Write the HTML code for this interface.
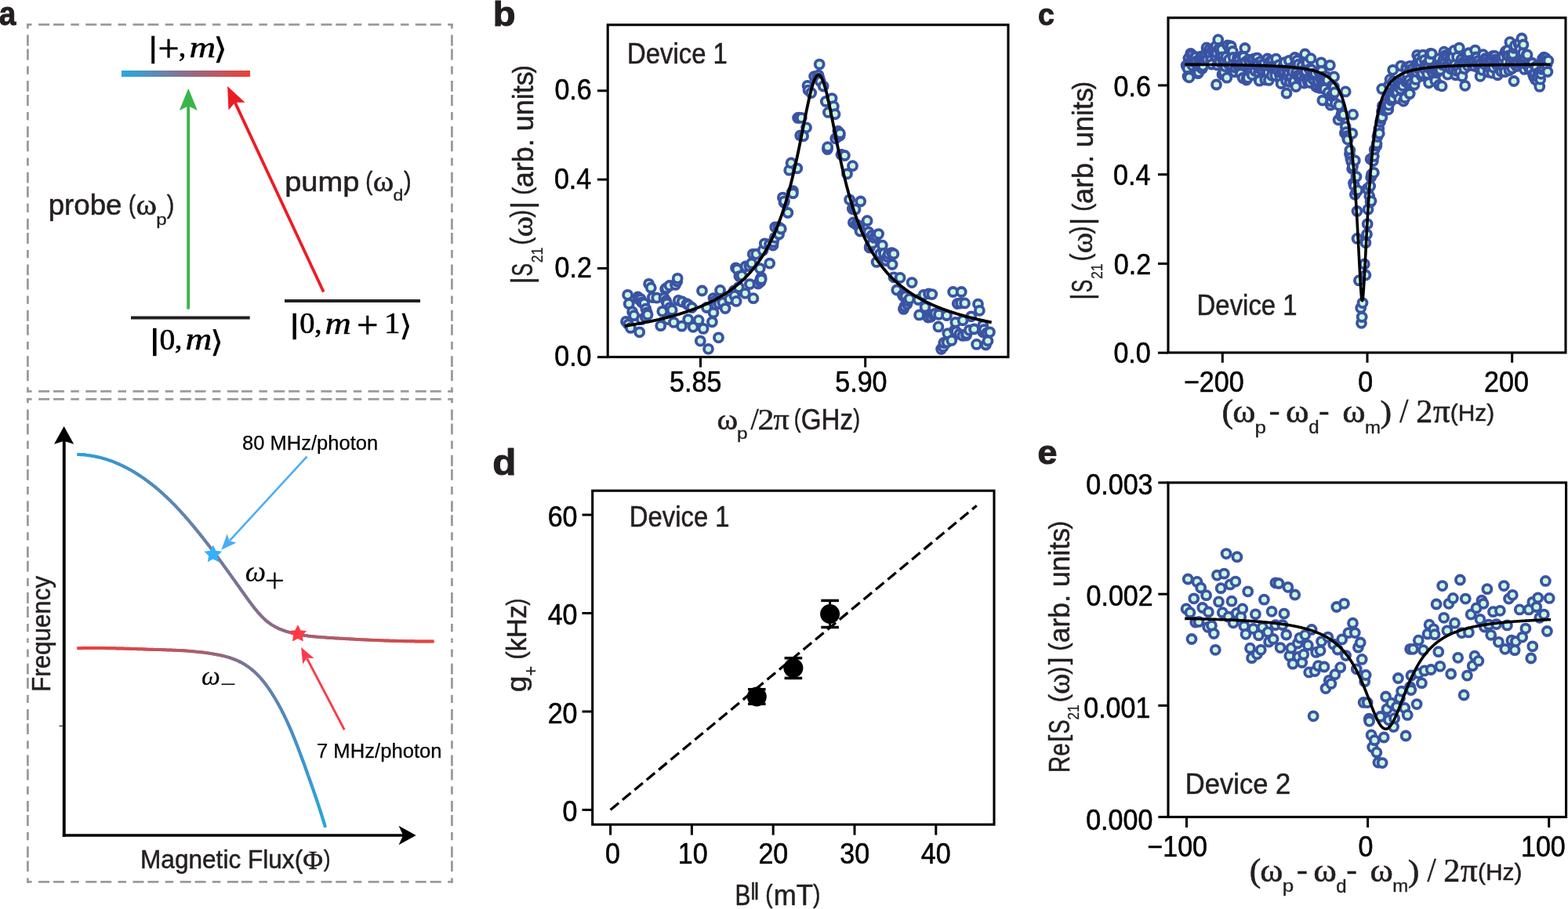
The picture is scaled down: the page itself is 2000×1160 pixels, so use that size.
<!DOCTYPE html>
<html><head><meta charset="utf-8"><style>
html,body{margin:0;padding:0;background:#fff;}
svg{display:block;font-kerning:none;font-variant-ligatures:none;}

</style></head><body>
<svg width="2000" height="1160" viewBox="0 0 2000 1160">
<defs><linearGradient id="gbar" x1="0" x2="1" y1="0" y2="0"><stop offset="0" stop-color="#27a9e1"/><stop offset="0.5" stop-color="#8b6f8c"/><stop offset="1" stop-color="#ec4138"/></linearGradient></defs>
<rect width="2000" height="1160" fill="#fff"/>
<line x1="34" y1="31.4" x2="305.9" y2="31.4" stroke="#9b9b9b" stroke-width="2.8" stroke-dasharray="14 4.9 14 8.3 10.5 8.5" stroke-dashoffset="45.1"/>
<line x1="577.8" y1="31.4" x2="305.9" y2="31.4" stroke="#9b9b9b" stroke-width="2.8" stroke-dasharray="14 4.9 14 8.3 10.5 8.5" stroke-dashoffset="45.1"/>
<line x1="34" y1="499.3" x2="305.9" y2="499.3" stroke="#9b9b9b" stroke-width="2.8" stroke-dasharray="14 4.9 14 8.3 10.5 8.5" stroke-dashoffset="45.1"/>
<line x1="577.8" y1="499.3" x2="305.9" y2="499.3" stroke="#9b9b9b" stroke-width="2.8" stroke-dasharray="14 4.9 14 8.3 10.5 8.5" stroke-dashoffset="45.1"/>
<line x1="35.4" y1="30" x2="35.4" y2="265.35" stroke="#9b9b9b" stroke-width="2.8" stroke-dasharray="13.9 4.2 13.9 8.1 10.2 8.1" stroke-dashoffset="43.9"/>
<line x1="35.4" y1="500.7" x2="35.4" y2="265.35" stroke="#9b9b9b" stroke-width="2.8" stroke-dasharray="13.9 4.2 13.9 8.1 10.2 8.1" stroke-dashoffset="43.9"/>
<line x1="576.4" y1="30" x2="576.4" y2="265.35" stroke="#9b9b9b" stroke-width="2.8" stroke-dasharray="13.9 4.2 13.9 8.1 10.2 8.1" stroke-dashoffset="43.9"/>
<line x1="576.4" y1="500.7" x2="576.4" y2="265.35" stroke="#9b9b9b" stroke-width="2.8" stroke-dasharray="13.9 4.2 13.9 8.1 10.2 8.1" stroke-dashoffset="43.9"/>
<line x1="34" y1="509.3" x2="305.9" y2="509.3" stroke="#9b9b9b" stroke-width="2.8" stroke-dasharray="14 4.9 14 8.3 10.5 8.5" stroke-dashoffset="45.1"/>
<line x1="577.8" y1="509.3" x2="305.9" y2="509.3" stroke="#9b9b9b" stroke-width="2.8" stroke-dasharray="14 4.9 14 8.3 10.5 8.5" stroke-dashoffset="45.1"/>
<line x1="34" y1="1125.4" x2="305.9" y2="1125.4" stroke="#9b9b9b" stroke-width="2.8" stroke-dasharray="14 4.9 14 8.3 10.5 8.5" stroke-dashoffset="45.1"/>
<line x1="577.8" y1="1125.4" x2="305.9" y2="1125.4" stroke="#9b9b9b" stroke-width="2.8" stroke-dasharray="14 4.9 14 8.3 10.5 8.5" stroke-dashoffset="45.1"/>
<line x1="35.4" y1="507.9" x2="35.4" y2="817.35" stroke="#9b9b9b" stroke-width="2.8" stroke-dasharray="13.9 4.2 13.9 8.1 10.2 8.1" stroke-dashoffset="43.9"/>
<line x1="35.4" y1="1126.8" x2="35.4" y2="817.35" stroke="#9b9b9b" stroke-width="2.8" stroke-dasharray="13.9 4.2 13.9 8.1 10.2 8.1" stroke-dashoffset="43.9"/>
<line x1="576.4" y1="507.9" x2="576.4" y2="817.35" stroke="#9b9b9b" stroke-width="2.8" stroke-dasharray="13.9 4.2 13.9 8.1 10.2 8.1" stroke-dashoffset="43.9"/>
<line x1="576.4" y1="1126.8" x2="576.4" y2="817.35" stroke="#9b9b9b" stroke-width="2.8" stroke-dasharray="13.9 4.2 13.9 8.1 10.2 8.1" stroke-dashoffset="43.9"/>
<text x="-1.14" y="32.18" font-family='"Liberation Sans", sans-serif' font-size="42.89" font-weight="bold" textLength="21.59" lengthAdjust="spacingAndGlyphs" fill="#231f20" stroke="#231f20" stroke-width="1" stroke-linejoin="round">a</text>
<rect x="155" y="90" width="164" height="8" fill="url(#gbar)"/>
<text x="189.27" y="72.68" font-family='"Liberation Serif", serif' font-size="37.16" textLength="12.06" lengthAdjust="spacingAndGlyphs" fill="#000" stroke="#000" stroke-width="0.6" stroke-linejoin="round">|</text>
<text x="201.61" y="78.58" font-family='"Liberation Serif", serif' font-size="50.23" textLength="27.03" lengthAdjust="spacingAndGlyphs" fill="#000" stroke="#000" stroke-width="0.6" stroke-linejoin="round">+</text>
<text x="227.84" y="71.89" font-family='"Liberation Serif", serif' font-size="37.77" textLength="9.57" lengthAdjust="spacingAndGlyphs" fill="#000" stroke="#000" stroke-width="0.6" stroke-linejoin="round">,</text>
<text x="241.62" y="73" font-family='"Liberation Serif", serif' font-size="38.41" font-style="italic" textLength="33.64" lengthAdjust="spacingAndGlyphs" fill="#000" stroke="#000" stroke-width="0.5" stroke-linejoin="round">m</text>
<text x="272.37" y="75.44" font-family='"DejaVu Serif", serif' font-size="37.61" textLength="17.68" lengthAdjust="spacingAndGlyphs" fill="#000" stroke="#000" stroke-width="0.4" stroke-linejoin="round">⟩</text>
<text x="190.47" y="445.78" font-family='"Liberation Serif", serif' font-size="37.16" textLength="13.67" lengthAdjust="spacingAndGlyphs" fill="#000" stroke="#000" stroke-width="0.6" stroke-linejoin="round">|</text>
<text x="203.59" y="446.32" font-family='"Liberation Serif", serif' font-size="38.83" textLength="19.82" lengthAdjust="spacingAndGlyphs" fill="#000" stroke="#000" stroke-width="0.6" stroke-linejoin="round">0</text>
<text x="222.82" y="445.43" font-family='"Liberation Serif", serif' font-size="36.21" textLength="9.74" lengthAdjust="spacingAndGlyphs" fill="#000" stroke="#000" stroke-width="0.6" stroke-linejoin="round">,</text>
<text x="236.41" y="446.4" font-family='"Liberation Serif", serif' font-size="39.05" font-style="italic" textLength="33.86" lengthAdjust="spacingAndGlyphs" fill="#000" stroke="#000" stroke-width="0.5" stroke-linejoin="round">m</text>
<text x="268.19" y="448.8" font-family='"DejaVu Serif", serif' font-size="37.95" textLength="16.62" lengthAdjust="spacingAndGlyphs" fill="#000" stroke="#000" stroke-width="0.4" stroke-linejoin="round">⟩</text>
<text x="369.12" y="424.97" font-family='"Liberation Serif", serif' font-size="36.28" textLength="13.26" lengthAdjust="spacingAndGlyphs" fill="#000" stroke="#000" stroke-width="0.6" stroke-linejoin="round">|</text>
<text x="382.34" y="425.43" font-family='"Liberation Serif", serif' font-size="37.79" textLength="19.23" lengthAdjust="spacingAndGlyphs" fill="#000" stroke="#000" stroke-width="0.6" stroke-linejoin="round">0</text>
<text x="401.39" y="424.59" font-family='"Liberation Serif", serif' font-size="35.82" textLength="9.23" lengthAdjust="spacingAndGlyphs" fill="#000" stroke="#000" stroke-width="0.6" stroke-linejoin="round">,</text>
<text x="414.53" y="425.7" font-family='"Liberation Serif", serif' font-size="39.05" font-style="italic" textLength="33.3" lengthAdjust="spacingAndGlyphs" fill="#000" stroke="#000" stroke-width="0.5" stroke-linejoin="round">m</text>
<text x="454.97" y="431.72" font-family='"Liberation Serif", serif' font-size="50.66" textLength="27.51" lengthAdjust="spacingAndGlyphs" fill="#000" stroke="#000" stroke-width="0.6" stroke-linejoin="round">+</text>
<text x="490.08" y="425.4" font-family='"Liberation Serif", serif' font-size="38.02" textLength="20.59" lengthAdjust="spacingAndGlyphs" fill="#000" stroke="#000" stroke-width="0.6" stroke-linejoin="round">1</text>
<text x="509.4" y="427.92" font-family='"DejaVu Serif", serif' font-size="37.05" textLength="16.09" lengthAdjust="spacingAndGlyphs" fill="#000" stroke="#000" stroke-width="0.4" stroke-linejoin="round">⟩</text>
<line x1="167" y1="405.5" x2="318.7" y2="405.5" stroke="#231f20" stroke-width="3.8"/>
<line x1="363" y1="384" x2="536" y2="384" stroke="#231f20" stroke-width="4"/>
<line x1="240.2" y1="394.5" x2="240.2" y2="130" stroke="#39b54a" stroke-width="3.9"/>
<polygon points="240.3,112.7 251.8,140.9 240.3,135.2 228.8,140.9" fill="#39b54a"/>
<line x1="412.7" y1="372.5" x2="298.99" y2="129.13" stroke="#ed1c24" stroke-width="3.8"/>
<polygon points="290.1,110.1 312.55,130.74 299.75,130.76 291.53,140.56" fill="#ed1c24"/>
<text x="61.63" y="274.19" font-family='"Liberation Sans", sans-serif' font-size="36.69" fill="#231f20" stroke="#231f20" stroke-width="0.55" stroke-linejoin="round">probe</text>
<text x="164.02" y="272.26" font-family='"Liberation Sans", sans-serif' font-size="33.06" textLength="9.04" lengthAdjust="spacingAndGlyphs" fill="#231f20" stroke="#231f20" stroke-width="0.51" stroke-linejoin="round">(</text>
<text x="173.62" y="274.23" font-family='"Liberation Serif", serif' font-size="37.62" textLength="26.55" lengthAdjust="spacingAndGlyphs" fill="#231f20" stroke="#231f20" stroke-width="0.6" stroke-linejoin="round">ω</text>
<text x="199.25" y="286.68" font-family='"Liberation Sans", sans-serif' font-size="19.86" textLength="13.36" lengthAdjust="spacingAndGlyphs" fill="#231f20" stroke="#231f20" stroke-width="0.3" stroke-linejoin="round">p</text>
<text x="212.83" y="272.26" font-family='"Liberation Sans", sans-serif' font-size="33.06" textLength="9.55" lengthAdjust="spacingAndGlyphs" fill="#231f20" stroke="#231f20" stroke-width="0.51" stroke-linejoin="round">)</text>
<text x="363.15" y="243.74" font-family='"Liberation Sans", sans-serif' font-size="35.01" textLength="95.15" lengthAdjust="spacingAndGlyphs" fill="#231f20" stroke="#231f20" stroke-width="0.53" stroke-linejoin="round">pump</text>
<text x="466.32" y="241.81" font-family='"Liberation Sans", sans-serif' font-size="33.27" textLength="9.04" lengthAdjust="spacingAndGlyphs" fill="#231f20" stroke="#231f20" stroke-width="0.51" stroke-linejoin="round">(</text>
<text x="475.82" y="244.03" font-family='"Liberation Serif", serif' font-size="38.03" textLength="26.55" lengthAdjust="spacingAndGlyphs" fill="#231f20" stroke="#231f20" stroke-width="0.6" stroke-linejoin="round">ω</text>
<text x="501.63" y="256.2" font-family='"Liberation Sans", sans-serif' font-size="20.97" textLength="12.86" lengthAdjust="spacingAndGlyphs" fill="#231f20" stroke="#231f20" stroke-width="0.32" stroke-linejoin="round">d</text>
<text x="515.03" y="241.81" font-family='"Liberation Sans", sans-serif' font-size="33.27" textLength="9.67" lengthAdjust="spacingAndGlyphs" fill="#231f20" stroke="#231f20" stroke-width="0.51" stroke-linejoin="round">)</text>
<line x1="81.75" y1="1067.9" x2="81.75" y2="560" stroke="#000" stroke-width="3.9"/>
<polygon points="81.6,544 94.2,566.7 81.6,562.7 69,566.7" fill="#000"/>
<line x1="79.8" y1="1066" x2="515" y2="1066" stroke="#000" stroke-width="3.7"/>
<polygon points="530.7,1066 508.5,1078.3 514.2,1066 508.5,1053.7" fill="#000"/>
<line x1="75.5" y1="926.4" x2="79.8" y2="926.4" stroke="#000" stroke-width="1"/>
<line x1="98.3" y1="579.93" x2="100.97" y2="580.01" stroke="#28a1dc" stroke-width="4"/>
<line x1="100.97" y1="580.01" x2="103.64" y2="580.15" stroke="#29a0db" stroke-width="4" stroke-linecap="round"/>
<line x1="103.64" y1="580.15" x2="106.31" y2="580.35" stroke="#2a9fdb" stroke-width="4" stroke-linecap="round"/>
<line x1="106.31" y1="580.35" x2="108.98" y2="580.6" stroke="#2b9fda" stroke-width="4" stroke-linecap="round"/>
<line x1="108.98" y1="580.6" x2="111.65" y2="580.91" stroke="#2c9ed9" stroke-width="4" stroke-linecap="round"/>
<line x1="111.65" y1="580.91" x2="114.31" y2="581.27" stroke="#2d9ed8" stroke-width="4" stroke-linecap="round"/>
<line x1="114.31" y1="581.27" x2="116.98" y2="581.69" stroke="#2f9dd7" stroke-width="4" stroke-linecap="round"/>
<line x1="116.98" y1="581.69" x2="119.65" y2="582.16" stroke="#309cd6" stroke-width="4" stroke-linecap="round"/>
<line x1="119.65" y1="582.16" x2="122.32" y2="582.69" stroke="#319cd5" stroke-width="4" stroke-linecap="round"/>
<line x1="122.32" y1="582.69" x2="124.99" y2="583.28" stroke="#329bd4" stroke-width="4" stroke-linecap="round"/>
<line x1="124.99" y1="583.28" x2="127.66" y2="583.92" stroke="#339ad3" stroke-width="4" stroke-linecap="round"/>
<line x1="127.66" y1="583.92" x2="130.33" y2="584.62" stroke="#349ad2" stroke-width="4" stroke-linecap="round"/>
<line x1="130.33" y1="584.62" x2="133" y2="585.38" stroke="#3599d1" stroke-width="4" stroke-linecap="round"/>
<line x1="133" y1="585.38" x2="135.67" y2="586.19" stroke="#3799d0" stroke-width="4" stroke-linecap="round"/>
<line x1="135.67" y1="586.19" x2="138.34" y2="587.07" stroke="#3898cf" stroke-width="4" stroke-linecap="round"/>
<line x1="138.34" y1="587.07" x2="141" y2="587.99" stroke="#3997ce" stroke-width="4" stroke-linecap="round"/>
<line x1="141" y1="587.99" x2="143.67" y2="588.98" stroke="#3a97cd" stroke-width="4" stroke-linecap="round"/>
<line x1="143.67" y1="588.98" x2="146.01" y2="589.88" stroke="#3b96cc" stroke-width="4" stroke-linecap="round"/>
<line x1="146.01" y1="589.88" x2="148.34" y2="590.84" stroke="#3c96cc" stroke-width="4" stroke-linecap="round"/>
<line x1="148.34" y1="590.84" x2="150.68" y2="591.83" stroke="#3d95cb" stroke-width="4" stroke-linecap="round"/>
<line x1="150.68" y1="591.83" x2="153.01" y2="592.87" stroke="#3e95ca" stroke-width="4" stroke-linecap="round"/>
<line x1="153.01" y1="592.87" x2="155.35" y2="593.96" stroke="#3f94c9" stroke-width="4" stroke-linecap="round"/>
<line x1="155.35" y1="593.96" x2="157.69" y2="595.09" stroke="#4093c8" stroke-width="4" stroke-linecap="round"/>
<line x1="157.69" y1="595.09" x2="160.02" y2="596.26" stroke="#4193c7" stroke-width="4" stroke-linecap="round"/>
<line x1="160.02" y1="596.26" x2="162.36" y2="597.48" stroke="#4292c7" stroke-width="4" stroke-linecap="round"/>
<line x1="162.36" y1="597.48" x2="164.69" y2="598.74" stroke="#4392c6" stroke-width="4" stroke-linecap="round"/>
<line x1="164.69" y1="598.74" x2="167.03" y2="600.04" stroke="#4491c5" stroke-width="4" stroke-linecap="round"/>
<line x1="167.03" y1="600.04" x2="169.36" y2="601.39" stroke="#4591c4" stroke-width="4" stroke-linecap="round"/>
<line x1="169.36" y1="601.39" x2="171.7" y2="602.79" stroke="#4690c3" stroke-width="4" stroke-linecap="round"/>
<line x1="171.7" y1="602.79" x2="174.03" y2="604.23" stroke="#4790c3" stroke-width="4" stroke-linecap="round"/>
<line x1="174.03" y1="604.23" x2="176.37" y2="605.71" stroke="#488fc2" stroke-width="4" stroke-linecap="round"/>
<line x1="176.37" y1="605.71" x2="178.7" y2="607.24" stroke="#498fc1" stroke-width="4" stroke-linecap="round"/>
<line x1="178.7" y1="607.24" x2="181.04" y2="608.82" stroke="#4a8ec0" stroke-width="4" stroke-linecap="round"/>
<line x1="181.04" y1="608.82" x2="183.37" y2="610.44" stroke="#4b8ebf" stroke-width="4" stroke-linecap="round"/>
<line x1="183.37" y1="610.44" x2="185.71" y2="612.1" stroke="#4c8dbe" stroke-width="4" stroke-linecap="round"/>
<line x1="185.71" y1="612.1" x2="188.05" y2="613.81" stroke="#4d8dbe" stroke-width="4" stroke-linecap="round"/>
<line x1="188.05" y1="613.81" x2="190.05" y2="615.31" stroke="#4e8cbd" stroke-width="4" stroke-linecap="round"/>
<line x1="190.05" y1="615.31" x2="192.05" y2="616.85" stroke="#4f8cbc" stroke-width="4" stroke-linecap="round"/>
<line x1="192.05" y1="616.85" x2="194.05" y2="618.41" stroke="#508cbc" stroke-width="4" stroke-linecap="round"/>
<line x1="194.05" y1="618.41" x2="196.05" y2="620.02" stroke="#508bbb" stroke-width="4" stroke-linecap="round"/>
<line x1="196.05" y1="620.02" x2="198.05" y2="621.65" stroke="#518bba" stroke-width="4" stroke-linecap="round"/>
<line x1="198.05" y1="621.65" x2="200.06" y2="623.32" stroke="#528bba" stroke-width="4" stroke-linecap="round"/>
<line x1="200.06" y1="623.32" x2="202.06" y2="625.02" stroke="#538ab9" stroke-width="4" stroke-linecap="round"/>
<line x1="202.06" y1="625.02" x2="204.06" y2="626.76" stroke="#548ab8" stroke-width="4" stroke-linecap="round"/>
<line x1="204.06" y1="626.76" x2="206.06" y2="628.53" stroke="#558ab8" stroke-width="4" stroke-linecap="round"/>
<line x1="206.06" y1="628.53" x2="208.06" y2="630.33" stroke="#5689b7" stroke-width="4" stroke-linecap="round"/>
<line x1="208.06" y1="630.33" x2="210.06" y2="632.17" stroke="#5789b6" stroke-width="4" stroke-linecap="round"/>
<line x1="210.06" y1="632.17" x2="212.07" y2="634.04" stroke="#5789b5" stroke-width="4" stroke-linecap="round"/>
<line x1="212.07" y1="634.04" x2="214.07" y2="635.94" stroke="#5888b5" stroke-width="4" stroke-linecap="round"/>
<line x1="214.07" y1="635.94" x2="216.07" y2="637.88" stroke="#5988b4" stroke-width="4" stroke-linecap="round"/>
<line x1="216.07" y1="637.88" x2="218.07" y2="639.85" stroke="#5a88b3" stroke-width="4" stroke-linecap="round"/>
<line x1="218.07" y1="639.85" x2="220.07" y2="641.86" stroke="#5b87b3" stroke-width="4" stroke-linecap="round"/>
<line x1="220.07" y1="641.86" x2="222.08" y2="643.9" stroke="#5c87b2" stroke-width="4" stroke-linecap="round"/>
<line x1="222.08" y1="643.9" x2="224.08" y2="645.97" stroke="#5d87b1" stroke-width="4" stroke-linecap="round"/>
<line x1="224.08" y1="645.97" x2="226.08" y2="648.08" stroke="#5d86b1" stroke-width="4" stroke-linecap="round"/>
<line x1="226.08" y1="648.08" x2="228.08" y2="650.21" stroke="#5e86b0" stroke-width="4" stroke-linecap="round"/>
<line x1="228.08" y1="650.21" x2="230.08" y2="652.38" stroke="#5f86af" stroke-width="4" stroke-linecap="round"/>
<line x1="230.08" y1="652.38" x2="232.08" y2="654.58" stroke="#6085af" stroke-width="4" stroke-linecap="round"/>
<line x1="232.08" y1="654.58" x2="234.09" y2="656.81" stroke="#6185ae" stroke-width="4" stroke-linecap="round"/>
<line x1="234.09" y1="656.81" x2="235.75" y2="658.68" stroke="#6285ad" stroke-width="4" stroke-linecap="round"/>
<line x1="235.75" y1="658.68" x2="237.42" y2="660.58" stroke="#6284ad" stroke-width="4" stroke-linecap="round"/>
<line x1="237.42" y1="660.58" x2="239.09" y2="662.5" stroke="#6384ac" stroke-width="4" stroke-linecap="round"/>
<line x1="239.09" y1="662.5" x2="240.76" y2="664.43" stroke="#6484ac" stroke-width="4" stroke-linecap="round"/>
<line x1="240.76" y1="664.43" x2="242.43" y2="666.39" stroke="#6584ab" stroke-width="4" stroke-linecap="round"/>
<line x1="242.43" y1="666.39" x2="244.09" y2="668.36" stroke="#6583ab" stroke-width="4" stroke-linecap="round"/>
<line x1="244.09" y1="668.36" x2="245.76" y2="670.35" stroke="#6683aa" stroke-width="4" stroke-linecap="round"/>
<line x1="245.76" y1="670.35" x2="247.43" y2="672.36" stroke="#6783a9" stroke-width="4" stroke-linecap="round"/>
<line x1="247.43" y1="672.36" x2="249.1" y2="674.38" stroke="#6782a9" stroke-width="4" stroke-linecap="round"/>
<line x1="249.1" y1="674.38" x2="250.77" y2="676.42" stroke="#6882a8" stroke-width="4" stroke-linecap="round"/>
<line x1="250.77" y1="676.42" x2="252.44" y2="678.48" stroke="#6882a8" stroke-width="4" stroke-linecap="round"/>
<line x1="252.44" y1="678.48" x2="254.1" y2="680.55" stroke="#6981a7" stroke-width="4" stroke-linecap="round"/>
<line x1="254.1" y1="680.55" x2="255.77" y2="682.64" stroke="#6981a7" stroke-width="4" stroke-linecap="round"/>
<line x1="255.77" y1="682.64" x2="257.44" y2="684.74" stroke="#6a80a6" stroke-width="4" stroke-linecap="round"/>
<line x1="257.44" y1="684.74" x2="259.11" y2="686.86" stroke="#6a80a6" stroke-width="4" stroke-linecap="round"/>
<line x1="259.11" y1="686.86" x2="260.78" y2="688.99" stroke="#6b80a5" stroke-width="4" stroke-linecap="round"/>
<line x1="260.78" y1="688.99" x2="262.44" y2="691.13" stroke="#6b7fa5" stroke-width="4" stroke-linecap="round"/>
<line x1="262.44" y1="691.13" x2="264.11" y2="693.29" stroke="#6c7fa4" stroke-width="4" stroke-linecap="round"/>
<line x1="264.11" y1="693.29" x2="265.78" y2="695.45" stroke="#6c7ea4" stroke-width="4" stroke-linecap="round"/>
<line x1="265.78" y1="695.45" x2="267.45" y2="697.64" stroke="#6d7ea3" stroke-width="4" stroke-linecap="round"/>
<line x1="267.45" y1="697.64" x2="269.12" y2="699.83" stroke="#6e7ea2" stroke-width="4" stroke-linecap="round"/>
<line x1="269.12" y1="699.83" x2="270.78" y2="702.03" stroke="#6e7da2" stroke-width="4" stroke-linecap="round"/>
<line x1="270.78" y1="702.03" x2="272.45" y2="704.25" stroke="#6f7da1" stroke-width="4" stroke-linecap="round"/>
<line x1="272.45" y1="704.25" x2="274.12" y2="706.48" stroke="#6f7da1" stroke-width="4" stroke-linecap="round"/>
<line x1="274.12" y1="706.48" x2="275.79" y2="708.71" stroke="#707ca0" stroke-width="4" stroke-linecap="round"/>
<line x1="275.79" y1="708.71" x2="277.46" y2="710.96" stroke="#707ca0" stroke-width="4" stroke-linecap="round"/>
<line x1="277.46" y1="710.96" x2="279.13" y2="713.22" stroke="#717b9f" stroke-width="4" stroke-linecap="round"/>
<line x1="279.13" y1="713.22" x2="280.79" y2="715.48" stroke="#717b9e" stroke-width="4" stroke-linecap="round"/>
<line x1="280.79" y1="715.48" x2="282.46" y2="717.76" stroke="#727a9e" stroke-width="4" stroke-linecap="round"/>
<line x1="282.46" y1="717.76" x2="284.13" y2="720.04" stroke="#737a9d" stroke-width="4" stroke-linecap="round"/>
<line x1="284.13" y1="720.04" x2="285.8" y2="722.33" stroke="#73799c" stroke-width="4" stroke-linecap="round"/>
<line x1="285.8" y1="722.33" x2="287.47" y2="724.63" stroke="#74799c" stroke-width="4" stroke-linecap="round"/>
<line x1="287.47" y1="724.63" x2="289.13" y2="726.93" stroke="#74789b" stroke-width="4" stroke-linecap="round"/>
<line x1="289.13" y1="726.93" x2="290.8" y2="729.24" stroke="#75789a" stroke-width="4" stroke-linecap="round"/>
<line x1="290.8" y1="729.24" x2="292.47" y2="731.56" stroke="#76779a" stroke-width="4" stroke-linecap="round"/>
<line x1="292.47" y1="731.56" x2="294.14" y2="733.89" stroke="#767799" stroke-width="4" stroke-linecap="round"/>
<line x1="294.14" y1="733.89" x2="295.81" y2="736.21" stroke="#777698" stroke-width="4" stroke-linecap="round"/>
<line x1="295.81" y1="736.21" x2="297.47" y2="738.55" stroke="#777698" stroke-width="4" stroke-linecap="round"/>
<line x1="297.47" y1="738.55" x2="299.14" y2="740.89" stroke="#787597" stroke-width="4" stroke-linecap="round"/>
<line x1="299.14" y1="740.89" x2="300.81" y2="743.23" stroke="#797596" stroke-width="4" stroke-linecap="round"/>
<line x1="300.81" y1="743.23" x2="302.48" y2="745.58" stroke="#797495" stroke-width="4" stroke-linecap="round"/>
<line x1="302.48" y1="745.58" x2="304.15" y2="747.93" stroke="#7a7495" stroke-width="4" stroke-linecap="round"/>
<line x1="304.15" y1="747.93" x2="305.82" y2="750.28" stroke="#7a7394" stroke-width="4" stroke-linecap="round"/>
<line x1="305.82" y1="750.28" x2="307.48" y2="752.63" stroke="#7b7393" stroke-width="4" stroke-linecap="round"/>
<line x1="307.48" y1="752.63" x2="309.15" y2="754.99" stroke="#7c7293" stroke-width="4" stroke-linecap="round"/>
<line x1="309.15" y1="754.99" x2="310.82" y2="757.34" stroke="#7c7292" stroke-width="4" stroke-linecap="round"/>
<line x1="310.82" y1="757.34" x2="312.49" y2="759.69" stroke="#7d7191" stroke-width="4" stroke-linecap="round"/>
<line x1="312.49" y1="759.69" x2="314.16" y2="762.02" stroke="#7d7191" stroke-width="4" stroke-linecap="round"/>
<line x1="314.16" y1="762.02" x2="315.82" y2="764.33" stroke="#7e7090" stroke-width="4" stroke-linecap="round"/>
<line x1="315.82" y1="764.33" x2="317.49" y2="766.62" stroke="#7f7090" stroke-width="4" stroke-linecap="round"/>
<line x1="317.49" y1="766.62" x2="319.16" y2="768.88" stroke="#806f8f" stroke-width="4" stroke-linecap="round"/>
<line x1="319.16" y1="768.88" x2="320.83" y2="771.1" stroke="#806f8f" stroke-width="4" stroke-linecap="round"/>
<line x1="320.83" y1="771.1" x2="322.5" y2="773.28" stroke="#816f8e" stroke-width="4" stroke-linecap="round"/>
<line x1="322.5" y1="773.28" x2="324.17" y2="775.42" stroke="#826f8e" stroke-width="4" stroke-linecap="round"/>
<line x1="324.17" y1="775.42" x2="325.83" y2="777.51" stroke="#836e8d" stroke-width="4" stroke-linecap="round"/>
<line x1="325.83" y1="777.51" x2="327.5" y2="779.54" stroke="#836e8d" stroke-width="4" stroke-linecap="round"/>
<line x1="327.5" y1="779.54" x2="329.17" y2="781.5" stroke="#846e8c" stroke-width="4" stroke-linecap="round"/>
<line x1="329.17" y1="781.5" x2="330.84" y2="783.4" stroke="#856e8c" stroke-width="4" stroke-linecap="round"/>
<line x1="330.84" y1="783.4" x2="332.84" y2="785.59" stroke="#866d8b" stroke-width="4" stroke-linecap="round"/>
<line x1="332.84" y1="785.59" x2="334.84" y2="787.66" stroke="#876d8a" stroke-width="4" stroke-linecap="round"/>
<line x1="334.84" y1="787.66" x2="336.84" y2="789.61" stroke="#886d8a" stroke-width="4" stroke-linecap="round"/>
<line x1="336.84" y1="789.61" x2="338.84" y2="791.43" stroke="#886c89" stroke-width="4" stroke-linecap="round"/>
<line x1="338.84" y1="791.43" x2="340.85" y2="793.11" stroke="#896c89" stroke-width="4" stroke-linecap="round"/>
<line x1="340.85" y1="793.11" x2="342.85" y2="794.68" stroke="#8a6c88" stroke-width="4" stroke-linecap="round"/>
<line x1="342.85" y1="794.68" x2="345.18" y2="796.35" stroke="#8b6b87" stroke-width="4" stroke-linecap="round"/>
<line x1="345.18" y1="796.35" x2="347.52" y2="797.88" stroke="#8c6b87" stroke-width="4" stroke-linecap="round"/>
<line x1="347.52" y1="797.88" x2="349.85" y2="799.27" stroke="#8d6b86" stroke-width="4" stroke-linecap="round"/>
<line x1="349.85" y1="799.27" x2="352.19" y2="800.54" stroke="#8f6a85" stroke-width="4" stroke-linecap="round"/>
<line x1="352.19" y1="800.54" x2="354.53" y2="801.69" stroke="#906a84" stroke-width="4" stroke-linecap="round"/>
<line x1="354.53" y1="801.69" x2="356.86" y2="802.73" stroke="#916983" stroke-width="4" stroke-linecap="round"/>
<line x1="356.86" y1="802.73" x2="359.2" y2="803.68" stroke="#926882" stroke-width="4" stroke-linecap="round"/>
<line x1="359.2" y1="803.68" x2="361.86" y2="804.66" stroke="#946880" stroke-width="4" stroke-linecap="round"/>
<line x1="361.86" y1="804.66" x2="364.53" y2="805.55" stroke="#95677f" stroke-width="4" stroke-linecap="round"/>
<line x1="364.53" y1="805.55" x2="367.2" y2="806.36" stroke="#96667d" stroke-width="4" stroke-linecap="round"/>
<line x1="367.2" y1="806.36" x2="369.87" y2="807.11" stroke="#98657c" stroke-width="4" stroke-linecap="round"/>
<line x1="369.87" y1="807.11" x2="372.54" y2="807.81" stroke="#99657a" stroke-width="4" stroke-linecap="round"/>
<line x1="372.54" y1="807.81" x2="375.21" y2="808.45" stroke="#9b6478" stroke-width="4" stroke-linecap="round"/>
<line x1="375.21" y1="808.45" x2="377.88" y2="809.03" stroke="#9c6377" stroke-width="4" stroke-linecap="round"/>
<line x1="377.88" y1="809.03" x2="380.55" y2="809.57" stroke="#9e6275" stroke-width="4" stroke-linecap="round"/>
<line x1="380.55" y1="809.57" x2="383.22" y2="810.07" stroke="#9f6275" stroke-width="4" stroke-linecap="round"/>
<line x1="383.22" y1="810.07" x2="385.89" y2="810.52" stroke="#a06174" stroke-width="4" stroke-linecap="round"/>
<line x1="385.89" y1="810.52" x2="388.55" y2="810.94" stroke="#a16173" stroke-width="4" stroke-linecap="round"/>
<line x1="388.55" y1="810.94" x2="391.22" y2="811.31" stroke="#a26172" stroke-width="4" stroke-linecap="round"/>
<line x1="391.22" y1="811.31" x2="393.89" y2="811.66" stroke="#a36172" stroke-width="4" stroke-linecap="round"/>
<line x1="393.89" y1="811.66" x2="396.56" y2="811.97" stroke="#a46071" stroke-width="4" stroke-linecap="round"/>
<line x1="396.56" y1="811.97" x2="399.23" y2="812.26" stroke="#a56070" stroke-width="4" stroke-linecap="round"/>
<line x1="399.23" y1="812.26" x2="401.9" y2="812.52" stroke="#a66070" stroke-width="4" stroke-linecap="round"/>
<line x1="401.9" y1="812.52" x2="404.57" y2="812.76" stroke="#a75f6f" stroke-width="4" stroke-linecap="round"/>
<line x1="404.57" y1="812.76" x2="407.24" y2="812.98" stroke="#a85f6e" stroke-width="4" stroke-linecap="round"/>
<line x1="407.24" y1="812.98" x2="409.91" y2="813.18" stroke="#a95f6e" stroke-width="4" stroke-linecap="round"/>
<line x1="409.91" y1="813.18" x2="412.58" y2="813.37" stroke="#aa5e6d" stroke-width="4" stroke-linecap="round"/>
<line x1="412.58" y1="813.37" x2="415.25" y2="813.55" stroke="#ab5e6c" stroke-width="4" stroke-linecap="round"/>
<line x1="415.25" y1="813.55" x2="417.91" y2="813.73" stroke="#ac5e6c" stroke-width="4" stroke-linecap="round"/>
<line x1="417.91" y1="813.73" x2="420.58" y2="813.9" stroke="#ad5e6b" stroke-width="4" stroke-linecap="round"/>
<line x1="420.58" y1="813.9" x2="423.25" y2="814.07" stroke="#ae5d6a" stroke-width="4" stroke-linecap="round"/>
<line x1="423.25" y1="814.07" x2="425.92" y2="814.23" stroke="#af5d6a" stroke-width="4" stroke-linecap="round"/>
<line x1="425.92" y1="814.23" x2="428.59" y2="814.4" stroke="#b05d69" stroke-width="4" stroke-linecap="round"/>
<line x1="428.59" y1="814.4" x2="431.26" y2="814.56" stroke="#b15c68" stroke-width="4" stroke-linecap="round"/>
<line x1="431.26" y1="814.56" x2="433.93" y2="814.72" stroke="#b25c67" stroke-width="4" stroke-linecap="round"/>
<line x1="433.93" y1="814.72" x2="436.6" y2="814.87" stroke="#b35c67" stroke-width="4" stroke-linecap="round"/>
<line x1="436.6" y1="814.87" x2="439.27" y2="815.03" stroke="#b45b66" stroke-width="4" stroke-linecap="round"/>
<line x1="439.27" y1="815.03" x2="441.94" y2="815.18" stroke="#b55b65" stroke-width="4" stroke-linecap="round"/>
<line x1="441.94" y1="815.18" x2="444.6" y2="815.33" stroke="#b65b65" stroke-width="4" stroke-linecap="round"/>
<line x1="444.6" y1="815.33" x2="447.27" y2="815.48" stroke="#b65a64" stroke-width="4" stroke-linecap="round"/>
<line x1="447.27" y1="815.48" x2="449.94" y2="815.62" stroke="#b75a63" stroke-width="4" stroke-linecap="round"/>
<line x1="449.94" y1="815.62" x2="452.61" y2="815.76" stroke="#b95a63" stroke-width="4" stroke-linecap="round"/>
<line x1="452.61" y1="815.76" x2="455.28" y2="815.9" stroke="#ba5961" stroke-width="4" stroke-linecap="round"/>
<line x1="455.28" y1="815.9" x2="457.95" y2="816.04" stroke="#bb5860" stroke-width="4" stroke-linecap="round"/>
<line x1="457.95" y1="816.04" x2="460.62" y2="816.17" stroke="#bc585f" stroke-width="4" stroke-linecap="round"/>
<line x1="460.62" y1="816.17" x2="463.29" y2="816.3" stroke="#bd575e" stroke-width="4" stroke-linecap="round"/>
<line x1="463.29" y1="816.3" x2="465.96" y2="816.43" stroke="#be575d" stroke-width="4" stroke-linecap="round"/>
<line x1="465.96" y1="816.43" x2="468.63" y2="816.55" stroke="#bf565c" stroke-width="4" stroke-linecap="round"/>
<line x1="468.63" y1="816.55" x2="471.29" y2="816.67" stroke="#c0555b" stroke-width="4" stroke-linecap="round"/>
<line x1="471.29" y1="816.67" x2="473.96" y2="816.79" stroke="#c1555a" stroke-width="4" stroke-linecap="round"/>
<line x1="473.96" y1="816.79" x2="476.63" y2="816.9" stroke="#c25459" stroke-width="4" stroke-linecap="round"/>
<line x1="476.63" y1="816.9" x2="479.3" y2="817.01" stroke="#c35358" stroke-width="4" stroke-linecap="round"/>
<line x1="479.3" y1="817.01" x2="481.97" y2="817.12" stroke="#c45357" stroke-width="4" stroke-linecap="round"/>
<line x1="481.97" y1="817.12" x2="484.64" y2="817.22" stroke="#c55256" stroke-width="4" stroke-linecap="round"/>
<line x1="484.64" y1="817.22" x2="487.31" y2="817.33" stroke="#c65255" stroke-width="4" stroke-linecap="round"/>
<line x1="487.31" y1="817.33" x2="489.98" y2="817.42" stroke="#c75154" stroke-width="4" stroke-linecap="round"/>
<line x1="489.98" y1="817.42" x2="492.65" y2="817.51" stroke="#c95053" stroke-width="4" stroke-linecap="round"/>
<line x1="492.65" y1="817.51" x2="495.32" y2="817.6" stroke="#ca5052" stroke-width="4" stroke-linecap="round"/>
<line x1="495.32" y1="817.6" x2="497.98" y2="817.69" stroke="#cb4f51" stroke-width="4" stroke-linecap="round"/>
<line x1="497.98" y1="817.69" x2="500.65" y2="817.77" stroke="#cc4e50" stroke-width="4" stroke-linecap="round"/>
<line x1="500.65" y1="817.77" x2="503.32" y2="817.85" stroke="#cd4e4f" stroke-width="4" stroke-linecap="round"/>
<line x1="503.32" y1="817.85" x2="505.99" y2="817.92" stroke="#ce4d4e" stroke-width="4" stroke-linecap="round"/>
<line x1="505.99" y1="817.92" x2="508.66" y2="817.99" stroke="#cf4d4d" stroke-width="4" stroke-linecap="round"/>
<line x1="508.66" y1="817.99" x2="511.33" y2="818.06" stroke="#d04c4c" stroke-width="4" stroke-linecap="round"/>
<line x1="511.33" y1="818.06" x2="514" y2="818.12" stroke="#d24b4b" stroke-width="4" stroke-linecap="round"/>
<line x1="514" y1="818.12" x2="516.67" y2="818.18" stroke="#d34b4b" stroke-width="4" stroke-linecap="round"/>
<line x1="516.67" y1="818.18" x2="519.34" y2="818.23" stroke="#d54a4a" stroke-width="4" stroke-linecap="round"/>
<line x1="519.34" y1="818.23" x2="522.01" y2="818.28" stroke="#d64949" stroke-width="4" stroke-linecap="round"/>
<line x1="522.01" y1="818.28" x2="524.67" y2="818.32" stroke="#d84848" stroke-width="4" stroke-linecap="round"/>
<line x1="524.67" y1="818.32" x2="527.34" y2="818.36" stroke="#d94848" stroke-width="4" stroke-linecap="round"/>
<line x1="527.34" y1="818.36" x2="530.01" y2="818.4" stroke="#db4747" stroke-width="4" stroke-linecap="round"/>
<line x1="530.01" y1="818.4" x2="532.68" y2="818.43" stroke="#dd4646" stroke-width="4" stroke-linecap="round"/>
<line x1="532.68" y1="818.43" x2="535.35" y2="818.45" stroke="#de4545" stroke-width="4" stroke-linecap="round"/>
<line x1="535.35" y1="818.45" x2="538.02" y2="818.47" stroke="#e04545" stroke-width="4" stroke-linecap="round"/>
<line x1="538.02" y1="818.47" x2="540.69" y2="818.49" stroke="#e14444" stroke-width="4" stroke-linecap="round"/>
<line x1="540.69" y1="818.49" x2="543.36" y2="818.5" stroke="#e34343" stroke-width="4" stroke-linecap="round"/>
<line x1="543.36" y1="818.5" x2="546.03" y2="818.51" stroke="#e44343" stroke-width="4" stroke-linecap="round"/>
<line x1="546.03" y1="818.51" x2="548.7" y2="818.51" stroke="#e64242" stroke-width="4" stroke-linecap="round"/>
<line x1="548.7" y1="818.51" x2="551.36" y2="818.51" stroke="#e84141" stroke-width="4" stroke-linecap="round"/>
<line x1="551.36" y1="818.51" x2="553.7" y2="818.5" stroke="#e94040" stroke-width="4"/>
<line x1="98.25" y1="827.3" x2="100.92" y2="827.23" stroke="#e9403e" stroke-width="4"/>
<line x1="100.92" y1="827.23" x2="103.59" y2="827.17" stroke="#e8413f" stroke-width="4" stroke-linecap="round"/>
<line x1="103.59" y1="827.17" x2="106.27" y2="827.12" stroke="#e7413f" stroke-width="4" stroke-linecap="round"/>
<line x1="106.27" y1="827.12" x2="108.94" y2="827.08" stroke="#e7413f" stroke-width="4" stroke-linecap="round"/>
<line x1="108.94" y1="827.08" x2="111.61" y2="827.05" stroke="#e64140" stroke-width="4" stroke-linecap="round"/>
<line x1="111.61" y1="827.05" x2="114.28" y2="827.03" stroke="#e54240" stroke-width="4" stroke-linecap="round"/>
<line x1="114.28" y1="827.03" x2="116.96" y2="827.01" stroke="#e54241" stroke-width="4" stroke-linecap="round"/>
<line x1="116.96" y1="827.01" x2="119.63" y2="827.01" stroke="#e44241" stroke-width="4" stroke-linecap="round"/>
<line x1="119.63" y1="827.01" x2="122.3" y2="827.01" stroke="#e34341" stroke-width="4" stroke-linecap="round"/>
<line x1="122.3" y1="827.01" x2="124.97" y2="827.02" stroke="#e24342" stroke-width="4" stroke-linecap="round"/>
<line x1="124.97" y1="827.02" x2="127.64" y2="827.04" stroke="#e24342" stroke-width="4" stroke-linecap="round"/>
<line x1="127.64" y1="827.04" x2="130.32" y2="827.06" stroke="#e14443" stroke-width="4" stroke-linecap="round"/>
<line x1="130.32" y1="827.06" x2="132.99" y2="827.1" stroke="#e04443" stroke-width="4" stroke-linecap="round"/>
<line x1="132.99" y1="827.1" x2="135.66" y2="827.13" stroke="#e04443" stroke-width="4" stroke-linecap="round"/>
<line x1="135.66" y1="827.13" x2="138.33" y2="827.18" stroke="#df4544" stroke-width="4" stroke-linecap="round"/>
<line x1="138.33" y1="827.18" x2="141" y2="827.22" stroke="#de4544" stroke-width="4" stroke-linecap="round"/>
<line x1="141" y1="827.22" x2="143.68" y2="827.28" stroke="#de4545" stroke-width="4" stroke-linecap="round"/>
<line x1="143.68" y1="827.28" x2="146.35" y2="827.34" stroke="#dd4645" stroke-width="4" stroke-linecap="round"/>
<line x1="146.35" y1="827.34" x2="149.02" y2="827.4" stroke="#dc4645" stroke-width="4" stroke-linecap="round"/>
<line x1="149.02" y1="827.4" x2="151.69" y2="827.47" stroke="#dc4646" stroke-width="4" stroke-linecap="round"/>
<line x1="151.69" y1="827.47" x2="154.37" y2="827.54" stroke="#db4746" stroke-width="4" stroke-linecap="round"/>
<line x1="154.37" y1="827.54" x2="157.04" y2="827.61" stroke="#da4747" stroke-width="4" stroke-linecap="round"/>
<line x1="157.04" y1="827.61" x2="159.71" y2="827.69" stroke="#da4747" stroke-width="4" stroke-linecap="round"/>
<line x1="159.71" y1="827.69" x2="162.38" y2="827.77" stroke="#d94847" stroke-width="4" stroke-linecap="round"/>
<line x1="162.38" y1="827.77" x2="165.05" y2="827.85" stroke="#d84848" stroke-width="4" stroke-linecap="round"/>
<line x1="165.05" y1="827.85" x2="167.73" y2="827.93" stroke="#d74849" stroke-width="4" stroke-linecap="round"/>
<line x1="167.73" y1="827.93" x2="170.4" y2="828.02" stroke="#d6494a" stroke-width="4" stroke-linecap="round"/>
<line x1="170.4" y1="828.02" x2="173.07" y2="828.1" stroke="#d44a4b" stroke-width="4" stroke-linecap="round"/>
<line x1="173.07" y1="828.1" x2="175.74" y2="828.19" stroke="#d34b4d" stroke-width="4" stroke-linecap="round"/>
<line x1="175.74" y1="828.19" x2="178.41" y2="828.28" stroke="#d24b4e" stroke-width="4" stroke-linecap="round"/>
<line x1="178.41" y1="828.28" x2="181.09" y2="828.37" stroke="#d04c4f" stroke-width="4" stroke-linecap="round"/>
<line x1="181.09" y1="828.37" x2="183.76" y2="828.46" stroke="#cf4d50" stroke-width="4" stroke-linecap="round"/>
<line x1="183.76" y1="828.46" x2="186.43" y2="828.54" stroke="#cd4d52" stroke-width="4" stroke-linecap="round"/>
<line x1="186.43" y1="828.54" x2="189.1" y2="828.63" stroke="#cc4e53" stroke-width="4" stroke-linecap="round"/>
<line x1="189.1" y1="828.63" x2="191.78" y2="828.71" stroke="#ca4f54" stroke-width="4" stroke-linecap="round"/>
<line x1="191.78" y1="828.71" x2="194.45" y2="828.8" stroke="#c94f56" stroke-width="4" stroke-linecap="round"/>
<line x1="194.45" y1="828.8" x2="197.12" y2="828.88" stroke="#c85057" stroke-width="4" stroke-linecap="round"/>
<line x1="197.12" y1="828.88" x2="199.79" y2="828.96" stroke="#c65158" stroke-width="4" stroke-linecap="round"/>
<line x1="199.79" y1="828.96" x2="202.46" y2="829.04" stroke="#c55259" stroke-width="4" stroke-linecap="round"/>
<line x1="202.46" y1="829.04" x2="205.14" y2="829.12" stroke="#c3525b" stroke-width="4" stroke-linecap="round"/>
<line x1="205.14" y1="829.12" x2="207.81" y2="829.2" stroke="#c2535c" stroke-width="4" stroke-linecap="round"/>
<line x1="207.81" y1="829.2" x2="210.48" y2="829.29" stroke="#c0545d" stroke-width="4" stroke-linecap="round"/>
<line x1="210.48" y1="829.29" x2="213.15" y2="829.38" stroke="#bf545f" stroke-width="4" stroke-linecap="round"/>
<line x1="213.15" y1="829.38" x2="215.82" y2="829.47" stroke="#be5560" stroke-width="4" stroke-linecap="round"/>
<line x1="215.82" y1="829.47" x2="218.5" y2="829.57" stroke="#bc5661" stroke-width="4" stroke-linecap="round"/>
<line x1="218.5" y1="829.57" x2="221.17" y2="829.68" stroke="#bb5763" stroke-width="4" stroke-linecap="round"/>
<line x1="221.17" y1="829.68" x2="223.84" y2="829.8" stroke="#b95764" stroke-width="4" stroke-linecap="round"/>
<line x1="223.84" y1="829.8" x2="226.51" y2="829.92" stroke="#b85865" stroke-width="4" stroke-linecap="round"/>
<line x1="226.51" y1="829.92" x2="229.19" y2="830.06" stroke="#b65966" stroke-width="4" stroke-linecap="round"/>
<line x1="229.19" y1="830.06" x2="231.86" y2="830.2" stroke="#b55967" stroke-width="4" stroke-linecap="round"/>
<line x1="231.86" y1="830.2" x2="234.53" y2="830.36" stroke="#b35a68" stroke-width="4" stroke-linecap="round"/>
<line x1="234.53" y1="830.36" x2="237.2" y2="830.54" stroke="#b25b69" stroke-width="4" stroke-linecap="round"/>
<line x1="237.2" y1="830.54" x2="239.87" y2="830.72" stroke="#b05b6a" stroke-width="4" stroke-linecap="round"/>
<line x1="239.87" y1="830.72" x2="242.55" y2="830.93" stroke="#af5c6b" stroke-width="4" stroke-linecap="round"/>
<line x1="242.55" y1="830.93" x2="245.22" y2="831.14" stroke="#ad5c6c" stroke-width="4" stroke-linecap="round"/>
<line x1="245.22" y1="831.14" x2="247.89" y2="831.38" stroke="#ac5d6d" stroke-width="4" stroke-linecap="round"/>
<line x1="247.89" y1="831.38" x2="250.56" y2="831.64" stroke="#aa5e6e" stroke-width="4" stroke-linecap="round"/>
<line x1="250.56" y1="831.64" x2="253.23" y2="831.91" stroke="#a85e6f" stroke-width="4" stroke-linecap="round"/>
<line x1="253.23" y1="831.91" x2="255.91" y2="832.21" stroke="#a75f70" stroke-width="4" stroke-linecap="round"/>
<line x1="255.91" y1="832.21" x2="258.58" y2="832.53" stroke="#a55f71" stroke-width="4" stroke-linecap="round"/>
<line x1="258.58" y1="832.53" x2="261.25" y2="832.87" stroke="#a46072" stroke-width="4" stroke-linecap="round"/>
<line x1="261.25" y1="832.87" x2="263.92" y2="833.23" stroke="#a26173" stroke-width="4" stroke-linecap="round"/>
<line x1="263.92" y1="833.23" x2="266.6" y2="833.62" stroke="#a16174" stroke-width="4" stroke-linecap="round"/>
<line x1="266.6" y1="833.62" x2="269.27" y2="834.03" stroke="#9f6275" stroke-width="4" stroke-linecap="round"/>
<line x1="269.27" y1="834.03" x2="271.94" y2="834.48" stroke="#9e6376" stroke-width="4" stroke-linecap="round"/>
<line x1="271.94" y1="834.48" x2="274.61" y2="834.95" stroke="#9c6377" stroke-width="4" stroke-linecap="round"/>
<line x1="274.61" y1="834.95" x2="277.28" y2="835.45" stroke="#9b6478" stroke-width="4" stroke-linecap="round"/>
<line x1="277.28" y1="835.45" x2="279.96" y2="835.98" stroke="#986579" stroke-width="4" stroke-linecap="round"/>
<line x1="279.96" y1="835.98" x2="282.63" y2="836.55" stroke="#95667b" stroke-width="4" stroke-linecap="round"/>
<line x1="282.63" y1="836.55" x2="285.3" y2="837.16" stroke="#93677e" stroke-width="4" stroke-linecap="round"/>
<line x1="285.3" y1="837.16" x2="287.97" y2="837.84" stroke="#906880" stroke-width="4" stroke-linecap="round"/>
<line x1="287.97" y1="837.84" x2="290.64" y2="838.57" stroke="#8d6982" stroke-width="4" stroke-linecap="round"/>
<line x1="290.64" y1="838.57" x2="293.32" y2="839.39" stroke="#8a6a84" stroke-width="4" stroke-linecap="round"/>
<line x1="293.32" y1="839.39" x2="295.99" y2="840.28" stroke="#876b86" stroke-width="4" stroke-linecap="round"/>
<line x1="295.99" y1="840.28" x2="298.66" y2="841.27" stroke="#846c88" stroke-width="4" stroke-linecap="round"/>
<line x1="298.66" y1="841.27" x2="301" y2="842.21" stroke="#826d8a" stroke-width="4" stroke-linecap="round"/>
<line x1="301" y1="842.21" x2="303.34" y2="843.24" stroke="#7f6e8c" stroke-width="4" stroke-linecap="round"/>
<line x1="303.34" y1="843.24" x2="305.68" y2="844.36" stroke="#7d6f8e" stroke-width="4" stroke-linecap="round"/>
<line x1="305.68" y1="844.36" x2="308.01" y2="845.57" stroke="#7a7090" stroke-width="4" stroke-linecap="round"/>
<line x1="308.01" y1="845.57" x2="310.35" y2="846.88" stroke="#797192" stroke-width="4" stroke-linecap="round"/>
<line x1="310.35" y1="846.88" x2="312.69" y2="848.3" stroke="#787293" stroke-width="4" stroke-linecap="round"/>
<line x1="312.69" y1="848.3" x2="315.03" y2="849.84" stroke="#767395" stroke-width="4" stroke-linecap="round"/>
<line x1="315.03" y1="849.84" x2="317.37" y2="851.49" stroke="#757596" stroke-width="4" stroke-linecap="round"/>
<line x1="317.37" y1="851.49" x2="319.37" y2="853.01" stroke="#747698" stroke-width="4" stroke-linecap="round"/>
<line x1="319.37" y1="853.01" x2="321.37" y2="854.62" stroke="#737799" stroke-width="4" stroke-linecap="round"/>
<line x1="321.37" y1="854.62" x2="323.38" y2="856.33" stroke="#72789b" stroke-width="4" stroke-linecap="round"/>
<line x1="323.38" y1="856.33" x2="325.38" y2="858.14" stroke="#71799c" stroke-width="4" stroke-linecap="round"/>
<line x1="325.38" y1="858.14" x2="327.39" y2="860.06" stroke="#707a9e" stroke-width="4" stroke-linecap="round"/>
<line x1="327.39" y1="860.06" x2="329.39" y2="862.09" stroke="#6f7b9f" stroke-width="4" stroke-linecap="round"/>
<line x1="329.39" y1="862.09" x2="331.4" y2="864.23" stroke="#6e7ca0" stroke-width="4" stroke-linecap="round"/>
<line x1="331.4" y1="864.23" x2="333.07" y2="866.11" stroke="#6d7da2" stroke-width="4" stroke-linecap="round"/>
<line x1="333.07" y1="866.11" x2="334.74" y2="868.07" stroke="#6c7da3" stroke-width="4" stroke-linecap="round"/>
<line x1="334.74" y1="868.07" x2="336.41" y2="870.12" stroke="#6b7ea4" stroke-width="4" stroke-linecap="round"/>
<line x1="336.41" y1="870.12" x2="338.08" y2="872.26" stroke="#6a7fa5" stroke-width="4" stroke-linecap="round"/>
<line x1="338.08" y1="872.26" x2="339.75" y2="874.48" stroke="#6880a7" stroke-width="4" stroke-linecap="round"/>
<line x1="339.75" y1="874.48" x2="341.42" y2="876.79" stroke="#6780a8" stroke-width="4" stroke-linecap="round"/>
<line x1="341.42" y1="876.79" x2="343.09" y2="879.19" stroke="#6581a9" stroke-width="4" stroke-linecap="round"/>
<line x1="343.09" y1="879.19" x2="344.76" y2="881.67" stroke="#6482ab" stroke-width="4" stroke-linecap="round"/>
<line x1="344.76" y1="881.67" x2="346.43" y2="884.24" stroke="#6282ac" stroke-width="4" stroke-linecap="round"/>
<line x1="346.43" y1="884.24" x2="348.1" y2="886.88" stroke="#6183ad" stroke-width="4" stroke-linecap="round"/>
<line x1="348.1" y1="886.88" x2="349.43" y2="889.06" stroke="#5f84af" stroke-width="4" stroke-linecap="round"/>
<line x1="349.43" y1="889.06" x2="350.77" y2="891.28" stroke="#5e84b0" stroke-width="4" stroke-linecap="round"/>
<line x1="350.77" y1="891.28" x2="352.1" y2="893.55" stroke="#5d85b1" stroke-width="4" stroke-linecap="round"/>
<line x1="352.1" y1="893.55" x2="353.44" y2="895.87" stroke="#5c85b2" stroke-width="4" stroke-linecap="round"/>
<line x1="353.44" y1="895.87" x2="354.78" y2="898.23" stroke="#5a86b3" stroke-width="4" stroke-linecap="round"/>
<line x1="354.78" y1="898.23" x2="356.11" y2="900.65" stroke="#5986b4" stroke-width="4" stroke-linecap="round"/>
<line x1="356.11" y1="900.65" x2="357.45" y2="903.13" stroke="#5887b5" stroke-width="4" stroke-linecap="round"/>
<line x1="357.45" y1="903.13" x2="358.78" y2="905.66" stroke="#5787b6" stroke-width="4" stroke-linecap="round"/>
<line x1="358.78" y1="905.66" x2="360.12" y2="908.25" stroke="#5588b8" stroke-width="4" stroke-linecap="round"/>
<line x1="360.12" y1="908.25" x2="361.46" y2="910.9" stroke="#5488b9" stroke-width="4" stroke-linecap="round"/>
<line x1="361.46" y1="910.9" x2="362.79" y2="913.61" stroke="#5389ba" stroke-width="4" stroke-linecap="round"/>
<line x1="362.79" y1="913.61" x2="364.13" y2="916.38" stroke="#518abb" stroke-width="4" stroke-linecap="round"/>
<line x1="364.13" y1="916.38" x2="365.47" y2="919.21" stroke="#508bbc" stroke-width="4" stroke-linecap="round"/>
<line x1="365.47" y1="919.21" x2="366.8" y2="922.11" stroke="#4e8cbd" stroke-width="4" stroke-linecap="round"/>
<line x1="366.8" y1="922.11" x2="368.14" y2="925.07" stroke="#4d8cbe" stroke-width="4" stroke-linecap="round"/>
<line x1="368.14" y1="925.07" x2="369.47" y2="928.09" stroke="#4b8dbf" stroke-width="4" stroke-linecap="round"/>
<line x1="369.47" y1="928.09" x2="370.48" y2="930.39" stroke="#4a8ec0" stroke-width="4" stroke-linecap="round"/>
<line x1="370.48" y1="930.39" x2="371.48" y2="932.73" stroke="#498ec0" stroke-width="4" stroke-linecap="round"/>
<line x1="371.48" y1="932.73" x2="372.48" y2="935.1" stroke="#488fc1" stroke-width="4" stroke-linecap="round"/>
<line x1="372.48" y1="935.1" x2="373.48" y2="937.51" stroke="#478fc2" stroke-width="4" stroke-linecap="round"/>
<line x1="373.48" y1="937.51" x2="374.48" y2="939.95" stroke="#4690c3" stroke-width="4" stroke-linecap="round"/>
<line x1="374.48" y1="939.95" x2="375.49" y2="942.43" stroke="#4591c3" stroke-width="4" stroke-linecap="round"/>
<line x1="375.49" y1="942.43" x2="376.49" y2="944.94" stroke="#4391c4" stroke-width="4" stroke-linecap="round"/>
<line x1="376.49" y1="944.94" x2="377.49" y2="947.48" stroke="#4292c5" stroke-width="4" stroke-linecap="round"/>
<line x1="377.49" y1="947.48" x2="378.49" y2="950.05" stroke="#4192c6" stroke-width="4" stroke-linecap="round"/>
<line x1="378.49" y1="950.05" x2="379.49" y2="952.65" stroke="#4093c6" stroke-width="4" stroke-linecap="round"/>
<line x1="379.49" y1="952.65" x2="380.5" y2="955.27" stroke="#3f93c7" stroke-width="4" stroke-linecap="round"/>
<line x1="380.5" y1="955.27" x2="381.5" y2="957.92" stroke="#3e94c8" stroke-width="4" stroke-linecap="round"/>
<line x1="381.5" y1="957.92" x2="382.5" y2="960.59" stroke="#3d94c9" stroke-width="4" stroke-linecap="round"/>
<line x1="382.5" y1="960.59" x2="383.5" y2="963.27" stroke="#3d95c9" stroke-width="4" stroke-linecap="round"/>
<line x1="383.5" y1="963.27" x2="384.5" y2="965.98" stroke="#3c96ca" stroke-width="4" stroke-linecap="round"/>
<line x1="384.5" y1="965.98" x2="385.51" y2="968.7" stroke="#3c96cb" stroke-width="4" stroke-linecap="round"/>
<line x1="385.51" y1="968.7" x2="386.51" y2="971.43" stroke="#3b97cb" stroke-width="4" stroke-linecap="round"/>
<line x1="386.51" y1="971.43" x2="387.51" y2="974.18" stroke="#3a97cc" stroke-width="4" stroke-linecap="round"/>
<line x1="387.51" y1="974.18" x2="388.51" y2="976.94" stroke="#3a98cd" stroke-width="4" stroke-linecap="round"/>
<line x1="388.51" y1="976.94" x2="389.51" y2="979.71" stroke="#3998cd" stroke-width="4" stroke-linecap="round"/>
<line x1="389.51" y1="979.71" x2="390.52" y2="982.49" stroke="#3899ce" stroke-width="4" stroke-linecap="round"/>
<line x1="390.52" y1="982.49" x2="391.52" y2="985.28" stroke="#3899ce" stroke-width="4" stroke-linecap="round"/>
<line x1="391.52" y1="985.28" x2="392.52" y2="988.08" stroke="#379acf" stroke-width="4" stroke-linecap="round"/>
<line x1="392.52" y1="988.08" x2="393.52" y2="990.89" stroke="#379ad0" stroke-width="4" stroke-linecap="round"/>
<line x1="393.52" y1="990.89" x2="394.52" y2="993.71" stroke="#369bd0" stroke-width="4" stroke-linecap="round"/>
<line x1="394.52" y1="993.71" x2="395.53" y2="996.53" stroke="#359bd1" stroke-width="4" stroke-linecap="round"/>
<line x1="395.53" y1="996.53" x2="396.53" y2="999.37" stroke="#359cd2" stroke-width="4" stroke-linecap="round"/>
<line x1="396.53" y1="999.37" x2="397.53" y2="1002.22" stroke="#349cd2" stroke-width="4" stroke-linecap="round"/>
<line x1="397.53" y1="1002.22" x2="398.53" y2="1005.09" stroke="#339dd3" stroke-width="4" stroke-linecap="round"/>
<line x1="398.53" y1="1005.09" x2="399.54" y2="1007.97" stroke="#339dd4" stroke-width="4" stroke-linecap="round"/>
<line x1="399.54" y1="1007.97" x2="400.54" y2="1010.86" stroke="#329ed4" stroke-width="4" stroke-linecap="round"/>
<line x1="400.54" y1="1010.86" x2="401.54" y2="1013.77" stroke="#329ed5" stroke-width="4" stroke-linecap="round"/>
<line x1="401.54" y1="1013.77" x2="402.54" y2="1016.7" stroke="#319fd6" stroke-width="4" stroke-linecap="round"/>
<line x1="402.54" y1="1016.7" x2="403.54" y2="1019.66" stroke="#309fd6" stroke-width="4" stroke-linecap="round"/>
<line x1="403.54" y1="1019.66" x2="404.55" y2="1022.64" stroke="#30a0d7" stroke-width="4" stroke-linecap="round"/>
<line x1="404.55" y1="1022.64" x2="405.55" y2="1025.64" stroke="#2fa0d8" stroke-width="4" stroke-linecap="round"/>
<line x1="405.55" y1="1025.64" x2="406.55" y2="1028.67" stroke="#2fa1d8" stroke-width="4" stroke-linecap="round"/>
<line x1="406.55" y1="1028.67" x2="407.55" y2="1031.74" stroke="#2ea1d9" stroke-width="4" stroke-linecap="round"/>
<line x1="407.55" y1="1031.74" x2="408.55" y2="1034.84" stroke="#2da2da" stroke-width="4" stroke-linecap="round"/>
<line x1="408.55" y1="1034.84" x2="409.56" y2="1037.97" stroke="#2da2da" stroke-width="4" stroke-linecap="round"/>
<line x1="409.56" y1="1037.97" x2="410.56" y2="1041.14" stroke="#2ca3db" stroke-width="4" stroke-linecap="round"/>
<line x1="410.56" y1="1041.14" x2="411.56" y2="1044.36" stroke="#2ba3db" stroke-width="4" stroke-linecap="round"/>
<line x1="411.56" y1="1044.36" x2="412.56" y2="1047.61" stroke="#2ba4dc" stroke-width="4" stroke-linecap="round"/>
<line x1="412.56" y1="1047.61" x2="413.56" y2="1050.91" stroke="#2aa4dd" stroke-width="4" stroke-linecap="round"/>
<line x1="413.56" y1="1050.91" x2="414.57" y2="1054.25" stroke="#2aa5dd" stroke-width="4" stroke-linecap="round"/>
<line x1="414.57" y1="1054.25" x2="414.9" y2="1055.38" stroke="#29a5de" stroke-width="4"/>
<polygon points="271.8,695.6 275.33,702.65 283.12,703.82 277.51,709.35 278.79,717.13 271.8,713.5 264.81,717.13 266.09,709.35 260.48,703.82 268.27,702.65" fill="#35b0fd"/>
<polygon points="379.9,797.2 383.43,804.15 391.12,805.35 385.61,810.85 386.84,818.55 379.9,815 372.96,818.55 374.19,810.85 368.68,805.35 376.37,804.15" fill="#fd3a46"/>
<line x1="391.5" y1="582.7" x2="293.02" y2="689.92" stroke="#4aaef6" stroke-width="2.6"/>
<polygon points="282.2,701.7 289.7,681.56 292.69,690.28 301.63,692.52" fill="#4aaef6"/>
<line x1="439.25" y1="931.25" x2="391.53" y2="840.27" stroke="#fb3a48" stroke-width="2.8"/>
<polygon points="384.1,826.1 400.52,839.96 391.3,839.83 386.17,847.49" fill="#fb3a48"/>
<text x="309.09" y="573.59" font-family='"Liberation Sans", sans-serif' font-size="25.1" textLength="173.07" lengthAdjust="spacingAndGlyphs" fill="#000" stroke="#000" stroke-width="0.25" stroke-linejoin="round">80 MHz/photon</text>
<text x="403.99" y="967" font-family='"Liberation Sans", sans-serif' font-size="25.53" textLength="159.58" lengthAdjust="spacingAndGlyphs" fill="#000" stroke="#000" stroke-width="0.25" stroke-linejoin="round">7 MHz/photon</text>
<text x="312.86" y="741.63" font-family='"Liberation Serif", serif' font-size="37.62" font-style="italic" textLength="26.38" lengthAdjust="spacingAndGlyphs" fill="#000" stroke="#000" stroke-width="0.2" stroke-linejoin="round">ω</text>
<text x="337.76" y="755.79" font-family='"Liberation Serif", serif' font-size="45.3" textLength="25.33" lengthAdjust="spacingAndGlyphs" fill="#000">+</text>
<text x="256.88" y="873.87" font-family='"Liberation Serif", serif' font-size="33.85" font-style="italic" textLength="23.8" lengthAdjust="spacingAndGlyphs" fill="#000" stroke="#000" stroke-width="0.2" stroke-linejoin="round">ω</text>
<text x="280.77" y="879.55" font-family='"Liberation Sans", sans-serif' font-size="21.04" textLength="20.43" lengthAdjust="spacingAndGlyphs" fill="#000">−</text>
<text transform="translate(64.28 882.77) rotate(-90)" font-family='"Liberation Sans", sans-serif' font-size="33.84" textLength="147.83" lengthAdjust="spacingAndGlyphs" fill="#231f20" stroke="#231f20" stroke-width="0.52" stroke-linejoin="round">Frequency</text>
<text x="179.01" y="1108.12" font-family='"Liberation Sans", sans-serif' font-size="33.15" textLength="207.18" lengthAdjust="spacingAndGlyphs" fill="#231f20" stroke="#231f20" stroke-width="0.51" stroke-linejoin="round">Magnetic Flux(</text>
<text x="386.23" y="1108.6" font-family='"Liberation Serif", serif' font-size="34.67" textLength="25.73" lengthAdjust="spacingAndGlyphs" fill="#231f20" stroke="#231f20" stroke-width="0.58" stroke-linejoin="round">Φ</text>
<text x="412.65" y="1106.31" font-family='"Liberation Sans", sans-serif' font-size="29.41" textLength="8.79" lengthAdjust="spacingAndGlyphs" fill="#231f20" stroke="#231f20" stroke-width="0.45" stroke-linejoin="round">)</text>
<text x="628.8" y="32.97" font-family='"Liberation Sans", sans-serif' font-size="44.12" font-weight="bold" textLength="28.73" lengthAdjust="spacingAndGlyphs" fill="#231f20" stroke="#231f20" stroke-width="1" stroke-linejoin="round">b</text>
<line x1="762" y1="455.7" x2="775.2" y2="455.7" stroke="#000" stroke-width="3"/>
<line x1="762" y1="342.4" x2="775.2" y2="342.4" stroke="#000" stroke-width="3"/>
<line x1="762" y1="229.1" x2="775.2" y2="229.1" stroke="#000" stroke-width="3"/>
<line x1="762" y1="115.8" x2="775.2" y2="115.8" stroke="#000" stroke-width="3"/>
<line x1="893.5" y1="455.6" x2="893.5" y2="468.7" stroke="#000" stroke-width="3"/>
<line x1="1103.7" y1="455.6" x2="1103.7" y2="468.7" stroke="#000" stroke-width="3"/>
<text x="707.39" y="127.26" font-family='"Liberation Sans", sans-serif' font-size="36.2" textLength="47.3" lengthAdjust="spacingAndGlyphs" fill="#000" stroke="#000" stroke-width="0.55" stroke-linejoin="round">0.6</text>
<text x="706.89" y="241.06" font-family='"Liberation Sans", sans-serif' font-size="36.2" textLength="47.3" lengthAdjust="spacingAndGlyphs" fill="#000" stroke="#000" stroke-width="0.55" stroke-linejoin="round">0.4</text>
<text x="707.61" y="353.66" font-family='"Liberation Sans", sans-serif' font-size="36.2" textLength="47.3" lengthAdjust="spacingAndGlyphs" fill="#000" stroke="#000" stroke-width="0.55" stroke-linejoin="round">0.2</text>
<text x="707.23" y="467.46" font-family='"Liberation Sans", sans-serif' font-size="36.2" textLength="47.3" lengthAdjust="spacingAndGlyphs" fill="#000" stroke="#000" stroke-width="0.55" stroke-linejoin="round">0.0</text>
<text x="854.12" y="500.16" font-family='"Liberation Sans", sans-serif' font-size="36.2" textLength="66.23" lengthAdjust="spacingAndGlyphs" fill="#000" stroke="#000" stroke-width="0.55" stroke-linejoin="round">5.85</text>
<text x="1065.27" y="500.16" font-family='"Liberation Sans", sans-serif' font-size="36.2" textLength="66.23" lengthAdjust="spacingAndGlyphs" fill="#000" stroke="#000" stroke-width="0.55" stroke-linejoin="round">5.90</text>
<text x="800.01" y="80.5" font-family='"Liberation Sans", sans-serif' font-size="37.06" textLength="127.8" lengthAdjust="spacingAndGlyphs" fill="#231f20" stroke="#231f20" stroke-width="0.55" stroke-linejoin="round">Device 1</text>
<g fill="#c9fad9" stroke="#3b53a4" stroke-width="3.8"><circle cx="798.5" cy="410.3" r="5.5"/><circle cx="800.6" cy="376.3" r="5.5"/><circle cx="801.58" cy="413.96" r="5.5"/><circle cx="802.2" cy="387.7" r="5.5"/><circle cx="804.4" cy="418.4" r="5.5"/><circle cx="806.6" cy="397.9" r="5.5"/><circle cx="808.7" cy="402.7" r="5.5"/><circle cx="813.6" cy="379" r="5.5"/><circle cx="813.99" cy="381.36" r="5.5"/><circle cx="815.7" cy="423.8" r="5.5"/><circle cx="817.3" cy="381.7" r="5.5"/><circle cx="818.4" cy="407.6" r="5.5"/><circle cx="818.65" cy="385.89" r="5.5"/><circle cx="821.6" cy="387.1" r="5.5"/><circle cx="823.21" cy="404.58" r="5.5"/><circle cx="823.8" cy="394.1" r="5.5"/><circle cx="825.3" cy="399" r="5.5"/><circle cx="826" cy="401.7" r="5.5"/><circle cx="827.6" cy="362.3" r="5.5"/><circle cx="830.3" cy="367.2" r="5.5"/><circle cx="832.4" cy="379.6" r="5.5"/><circle cx="837.8" cy="380.1" r="5.5"/><circle cx="842.7" cy="415.7" r="5.5"/><circle cx="844.8" cy="397.3" r="5.5"/><circle cx="847" cy="380.1" r="5.5"/><circle cx="848.6" cy="368.8" r="5.5"/><circle cx="849.62" cy="383.87" r="5.5"/><circle cx="849.89" cy="367.75" r="5.5"/><circle cx="850.7" cy="387.1" r="5.5"/><circle cx="851.8" cy="407.6" r="5.5"/><circle cx="854" cy="364.5" r="5.5"/><circle cx="854.61" cy="392.54" r="5.5"/><circle cx="857.2" cy="395.7" r="5.5"/><circle cx="859.4" cy="411.4" r="5.5"/><circle cx="861.5" cy="363.4" r="5.5"/><circle cx="863.75" cy="359.18" r="5.5"/><circle cx="864.2" cy="355.3" r="5.5"/><circle cx="865.3" cy="383.3" r="5.5"/><circle cx="869.6" cy="416.2" r="5.5"/><circle cx="870.1" cy="385" r="5.5"/><circle cx="876.1" cy="387.7" r="5.5"/><circle cx="877.7" cy="407.6" r="5.5"/><circle cx="878.21" cy="389.25" r="5.5"/><circle cx="882.5" cy="392.5" r="5.5"/><circle cx="884.1" cy="417.3" r="5.5"/><circle cx="891.1" cy="408.7" r="5.5"/><circle cx="893.3" cy="435.1" r="5.5"/><circle cx="895.5" cy="371" r="5.5"/><circle cx="897.1" cy="419.4" r="5.5"/><circle cx="901.4" cy="392.5" r="5.5"/><circle cx="903.5" cy="445.3" r="5.5"/><circle cx="908.4" cy="410.8" r="5.5"/><circle cx="910" cy="380.6" r="5.5"/><circle cx="910" cy="399" r="5.5"/><circle cx="911.98" cy="384.05" r="5.5"/><circle cx="913.2" cy="388.7" r="5.5"/><circle cx="916.5" cy="430.8" r="5.5"/><circle cx="917.1" cy="387.61" r="5.5"/><circle cx="918.6" cy="370.4" r="5.5"/><circle cx="921.9" cy="386" r="5.5"/><circle cx="925.1" cy="393.6" r="5.5"/><circle cx="930.5" cy="381.7" r="5.5"/><circle cx="936.2" cy="371" r="5.5"/><circle cx="937" cy="377.4" r="5.5"/><circle cx="938.5" cy="341.8" r="5.5"/><circle cx="939.1" cy="384.4" r="5.5"/><circle cx="940.2" cy="343.5" r="5.5"/><circle cx="942.3" cy="366.6" r="5.5"/><circle cx="942.9" cy="352.6" r="5.5"/><circle cx="946.2" cy="351.8" r="5.5"/><circle cx="950.4" cy="374.3" r="5.5"/><circle cx="951" cy="339.9" r="5.5"/><circle cx="955.88" cy="339.39" r="5.5"/><circle cx="956.4" cy="362.6" r="5.5"/><circle cx="958.6" cy="336.1" r="5.5"/><circle cx="960.2" cy="324.3" r="5.5"/><circle cx="960.9" cy="380.7" r="5.5"/><circle cx="964.5" cy="324.3" r="5.5"/><circle cx="967" cy="362" r="5.5"/><circle cx="969.3" cy="342.6" r="5.5"/><circle cx="969.79" cy="356.26" r="5.5"/><circle cx="970.09" cy="359.47" r="5.5"/><circle cx="971" cy="353.9" r="5.5"/><circle cx="971.2" cy="356.5" r="5.5"/><circle cx="973.1" cy="319.4" r="5.5"/><circle cx="975.3" cy="310.8" r="5.5"/><circle cx="981.55" cy="311.63" r="5.5"/><circle cx="981.7" cy="336.1" r="5.5"/><circle cx="986" cy="313" r="5.5"/><circle cx="986.48" cy="308.96" r="5.5"/><circle cx="988.2" cy="303.3" r="5.5"/><circle cx="988.7" cy="289.8" r="5.5"/><circle cx="992.84" cy="289.53" r="5.5"/><circle cx="993.6" cy="299" r="5.5"/><circle cx="996.3" cy="292" r="5.5"/><circle cx="998.4" cy="252.1" r="5.5"/><circle cx="1000" cy="258.6" r="5.5"/><circle cx="1000.34" cy="256.79" r="5.5"/><circle cx="1004.9" cy="271.5" r="5.5"/><circle cx="1006.7" cy="217.2" r="5.5"/><circle cx="1009.1" cy="207.9" r="5.5"/><circle cx="1010.13" cy="245.45" r="5.5"/><circle cx="1011.4" cy="243.6" r="5.5"/><circle cx="1011.4" cy="246.7" r="5.5"/><circle cx="1016.8" cy="214.8" r="5.5"/><circle cx="1017.6" cy="150.4" r="5.5"/><circle cx="1019.04" cy="150.12" r="5.5"/><circle cx="1020.7" cy="172.9" r="5.5"/><circle cx="1022.3" cy="150.4" r="5.5"/><circle cx="1024.6" cy="173.7" r="5.5"/><circle cx="1028.5" cy="162.8" r="5.5"/><circle cx="1030" cy="109.3" r="5.5"/><circle cx="1030.98" cy="115.05" r="5.5"/><circle cx="1034.7" cy="118.6" r="5.5"/><circle cx="1038.6" cy="97.6" r="5.5"/><circle cx="1042.68" cy="98.04" r="5.5"/><circle cx="1044" cy="96.1" r="5.5"/><circle cx="1045.03" cy="100.01" r="5.5"/><circle cx="1045.2" cy="82.1" r="5.5"/><circle cx="1046.3" cy="103.8" r="5.5"/><circle cx="1050.2" cy="110" r="5.5"/><circle cx="1053.3" cy="129.4" r="5.5"/><circle cx="1055.4" cy="190.6" r="5.5"/><circle cx="1055.7" cy="187.7" r="5.5"/><circle cx="1056.4" cy="143.4" r="5.5"/><circle cx="1061.1" cy="125.6" r="5.5"/><circle cx="1063.4" cy="135.7" r="5.5"/><circle cx="1065" cy="145.7" r="5.5"/><circle cx="1065.7" cy="176.8" r="5.5"/><circle cx="1068.9" cy="167.5" r="5.5"/><circle cx="1069.11" cy="174.06" r="5.5"/><circle cx="1071.2" cy="172.9" r="5.5"/><circle cx="1071.48" cy="170.26" r="5.5"/><circle cx="1072.9" cy="197.2" r="5.5"/><circle cx="1077.4" cy="198.5" r="5.5"/><circle cx="1080.5" cy="221.8" r="5.5"/><circle cx="1083.6" cy="254.8" r="5.5"/><circle cx="1087.3" cy="266.6" r="5.5"/><circle cx="1087.5" cy="211.7" r="5.5"/><circle cx="1088.4" cy="283.9" r="5.5"/><circle cx="1088.9" cy="267.14" r="5.5"/><circle cx="1091" cy="267.2" r="5.5"/><circle cx="1091.9" cy="286.25" r="5.5"/><circle cx="1094.7" cy="287.8" r="5.5"/><circle cx="1096.28" cy="291.3" r="5.5"/><circle cx="1097.1" cy="295" r="5.5"/><circle cx="1097.7" cy="257" r="5.5"/><circle cx="1106.1" cy="281.7" r="5.5"/><circle cx="1107.9" cy="296.2" r="5.5"/><circle cx="1109.1" cy="316.1" r="5.5"/><circle cx="1109.63" cy="313.93" r="5.5"/><circle cx="1112.17" cy="300.51" r="5.5"/><circle cx="1112.8" cy="310.7" r="5.5"/><circle cx="1115.2" cy="303.4" r="5.5"/><circle cx="1117.77" cy="301.28" r="5.5"/><circle cx="1118.1" cy="334.4" r="5.5"/><circle cx="1120.6" cy="298.6" r="5.5"/><circle cx="1122.4" cy="324" r="5.5"/><circle cx="1125.4" cy="313.1" r="5.5"/><circle cx="1127.44" cy="323.44" r="5.5"/><circle cx="1130" cy="332.5" r="5.5"/><circle cx="1131.94" cy="327.65" r="5.5"/><circle cx="1133.3" cy="324" r="5.5"/><circle cx="1137.42" cy="322.58" r="5.5"/><circle cx="1138.1" cy="337.5" r="5.5"/><circle cx="1139.9" cy="324" r="5.5"/><circle cx="1140" cy="353.8" r="5.5"/><circle cx="1143.8" cy="370" r="5.5"/><circle cx="1148.1" cy="354.4" r="5.5"/><circle cx="1151.3" cy="376.3" r="5.5"/><circle cx="1152.32" cy="378.11" r="5.5"/><circle cx="1152.5" cy="394.4" r="5.5"/><circle cx="1153.76" cy="391.06" r="5.5"/><circle cx="1155" cy="378.1" r="5.5"/><circle cx="1156.9" cy="388.1" r="5.5"/><circle cx="1157.92" cy="384.2" r="5.5"/><circle cx="1160" cy="381.3" r="5.5"/><circle cx="1163.1" cy="360.6" r="5.5"/><circle cx="1171.3" cy="382.5" r="5.5"/><circle cx="1172.5" cy="401.9" r="5.5"/><circle cx="1178.1" cy="376.3" r="5.5"/><circle cx="1180" cy="391.9" r="5.5"/><circle cx="1183.8" cy="405" r="5.5"/><circle cx="1184.52" cy="374.96" r="5.5"/><circle cx="1187.35" cy="404.3" r="5.5"/><circle cx="1188.8" cy="375.6" r="5.5"/><circle cx="1190" cy="401.3" r="5.5"/><circle cx="1192.93" cy="400.16" r="5.5"/><circle cx="1196.9" cy="416.9" r="5.5"/><circle cx="1197.5" cy="401.3" r="5.5"/><circle cx="1200.6" cy="445.6" r="5.5"/><circle cx="1203.12" cy="442.57" r="5.5"/><circle cx="1203.8" cy="437.5" r="5.5"/><circle cx="1207.5" cy="402.5" r="5.5"/><circle cx="1208.14" cy="436.87" r="5.5"/><circle cx="1208.8" cy="425.6" r="5.5"/><circle cx="1213.8" cy="434.4" r="5.5"/><circle cx="1215.6" cy="372.5" r="5.5"/><circle cx="1217.5" cy="421.3" r="5.5"/><circle cx="1218.8" cy="411.3" r="5.5"/><circle cx="1219.54" cy="423.18" r="5.5"/><circle cx="1221.3" cy="387.5" r="5.5"/><circle cx="1223.8" cy="426.3" r="5.5"/><circle cx="1225.49" cy="386.95" r="5.5"/><circle cx="1226.3" cy="372.5" r="5.5"/><circle cx="1227.88" cy="428.46" r="5.5"/><circle cx="1228.1" cy="408.8" r="5.5"/><circle cx="1230.6" cy="386.9" r="5.5"/><circle cx="1232.5" cy="428.1" r="5.5"/><circle cx="1232.91" cy="426.03" r="5.5"/><circle cx="1236.3" cy="421.3" r="5.5"/><circle cx="1238.8" cy="403.8" r="5.5"/><circle cx="1242.5" cy="420" r="5.5"/><circle cx="1245.6" cy="439.4" r="5.5"/><circle cx="1247.5" cy="388.1" r="5.5"/><circle cx="1249.4" cy="396.3" r="5.5"/><circle cx="1253.8" cy="415" r="5.5"/><circle cx="1253.8" cy="423.8" r="5.5"/><circle cx="1255.15" cy="420.68" r="5.5"/><circle cx="1257.5" cy="440" r="5.5"/><circle cx="1258.89" cy="424.81" r="5.5"/><circle cx="1260" cy="435" r="5.5"/><circle cx="1262.5" cy="423.8" r="5.5"/></g>
<path d="M796.81 416.02 L797.98 415.83 L799.15 415.64 L800.32 415.45 L801.49 415.26 L802.66 415.07 L803.83 414.87 L805 414.68 L806.17 414.48 L807.34 414.28 L808.51 414.07 L809.68 413.87 L810.85 413.66 L812.01 413.45 L813.18 413.24 L814.35 413.03 L815.52 412.81 L816.69 412.59 L817.86 412.37 L819.03 412.15 L820.2 411.93 L821.37 411.7 L822.54 411.47 L823.71 411.24 L824.88 411.01 L826.05 410.77 L827.22 410.53 L828.39 410.29 L829.56 410.05 L830.73 409.8 L831.9 409.55 L833.07 409.3 L834.24 409.05 L835.41 408.79 L836.58 408.53 L837.75 408.27 L838.92 408 L840.09 407.73 L841.26 407.46 L842.43 407.18 L843.6 406.91 L844.77 406.63 L845.94 406.34 L847.11 406.05 L848.28 405.76 L849.45 405.47 L850.62 405.17 L851.79 404.87 L852.96 404.56 L854.13 404.26 L855.3 403.94 L856.47 403.63 L857.64 403.31 L858.81 402.98 L859.98 402.66 L861.14 402.32 L862.31 401.99 L863.48 401.65 L864.65 401.3 L865.82 400.95 L866.99 400.6 L868.16 400.24 L869.33 399.88 L870.5 399.51 L871.67 399.14 L872.84 398.76 L874.01 398.38 L875.18 397.99 L876.35 397.6 L877.52 397.21 L878.69 396.8 L879.86 396.39 L881.03 395.98 L882.2 395.56 L883.37 395.13 L884.54 394.7 L885.71 394.27 L886.88 393.82 L888.05 393.37 L889.22 392.91 L890.39 392.45 L891.56 391.98 L892.73 391.5 L893.9 391.02 L895.07 390.53 L896.24 390.03 L897.41 389.52 L898.58 389.01 L899.75 388.49 L900.92 387.96 L902.09 387.42 L903.26 386.87 L904.43 386.32 L905.6 385.75 L906.77 385.18 L907.94 384.6 L909.11 384 L910.28 383.4 L911.44 382.79 L912.61 382.17 L913.78 381.53 L914.95 380.89 L916.12 380.24 L917.29 379.57 L918.46 378.89 L919.63 378.2 L920.8 377.5 L921.97 376.79 L923.14 376.06 L924.31 375.32 L925.48 374.57 L926.65 373.8 L927.82 373.02 L928.99 372.23 L930.16 371.42 L931.33 370.59 L932.5 369.75 L933.67 368.89 L934.84 368.01 L936.01 367.12 L937.18 366.21 L938.35 365.28 L939.52 364.33 L940.69 363.37 L941.86 362.38 L943.03 361.37 L944.2 360.34 L945.37 359.29 L946.54 358.22 L947.71 357.13 L948.88 356.01 L950.05 354.86 L951.22 353.69 L952.39 352.5 L953.56 351.27 L954.73 350.02 L955.9 348.74 L957.07 347.43 L958.24 346.09 L959.41 344.72 L960.57 343.31 L961.74 341.87 L962.91 340.4 L964.08 338.89 L965.25 337.34 L966.42 335.75 L967.59 334.12 L968.76 332.45 L969.93 330.74 L971.1 328.98 L972.27 327.18 L973.44 325.32 L974.61 323.42 L975.78 321.46 L976.95 319.46 L978.12 317.39 L979.29 315.27 L980.46 313.09 L981.63 310.84 L982.8 308.53 L983.97 306.15 L985.14 303.71 L986.31 301.19 L987.48 298.6 L988.65 295.92 L989.82 293.17 L990.99 290.34 L992.16 287.41 L993.33 284.4 L994.5 281.29 L995.67 278.09 L996.84 274.79 L998.01 271.38 L999.18 267.87 L1000.35 264.25 L1001.52 260.51 L1002.69 256.66 L1003.86 252.68 L1005.03 248.59 L1006.2 244.37 L1007.37 240.02 L1008.54 235.54 L1009.7 230.92 L1010.87 226.18 L1012.04 221.3 L1013.21 216.3 L1014.38 211.16 L1015.55 205.89 L1016.72 200.51 L1017.89 195.01 L1019.06 189.4 L1020.23 183.7 L1021.4 177.92 L1022.57 172.07 L1023.74 166.18 L1024.91 160.27 L1026.08 154.37 L1027.25 148.5 L1028.42 142.71 L1029.59 137.04 L1030.76 131.53 L1031.93 126.22 L1033.1 121.18 L1034.27 116.44 L1035.44 112.06 L1036.61 108.11 L1037.78 104.62 L1038.95 101.66 L1040.12 99.25 L1041.29 97.44 L1042.46 96.26 L1043.63 95.72 L1044.8 95.84 L1045.97 96.61 L1047.14 98.02 L1048.31 100.05 L1049.48 102.66 L1050.65 105.82 L1051.82 109.48 L1052.99 113.59 L1054.16 118.1 L1055.33 122.95 L1056.5 128.1 L1057.67 133.48 L1058.83 139.06 L1060 144.78 L1061.17 150.6 L1062.34 156.48 L1063.51 162.39 L1064.68 168.3 L1065.85 174.17 L1067.02 180 L1068.19 185.75 L1069.36 191.42 L1070.53 196.99 L1071.7 202.45 L1072.87 207.8 L1074.04 213.02 L1075.21 218.11 L1076.38 223.07 L1077.55 227.9 L1078.72 232.59 L1079.89 237.16 L1081.06 241.59 L1082.23 245.89 L1083.4 250.07 L1084.57 254.12 L1085.74 258.05 L1086.91 261.86 L1088.08 265.56 L1089.25 269.14 L1090.42 272.62 L1091.59 275.98 L1092.76 279.25 L1093.93 282.42 L1095.1 285.49 L1096.27 288.47 L1097.44 291.36 L1098.61 294.17 L1099.78 296.89 L1100.95 299.53 L1102.12 302.1 L1103.29 304.59 L1104.46 307.01 L1105.63 309.37 L1106.8 311.65 L1107.96 313.88 L1109.13 316.04 L1110.3 318.14 L1111.47 320.18 L1112.64 322.17 L1113.81 324.11 L1114.98 325.99 L1116.15 327.83 L1117.32 329.62 L1118.49 331.36 L1119.66 333.06 L1120.83 334.71 L1122 336.33 L1123.17 337.9 L1124.34 339.43 L1125.51 340.93 L1126.68 342.39 L1127.85 343.82 L1129.02 345.21 L1130.19 346.58 L1131.36 347.91 L1132.53 349.2 L1133.7 350.47 L1134.87 351.71 L1136.04 352.93 L1137.21 354.11 L1138.38 355.27 L1139.55 356.41 L1140.72 357.52 L1141.89 358.61 L1143.06 359.67 L1144.23 360.72 L1145.4 361.74 L1146.57 362.74 L1147.74 363.72 L1148.91 364.68 L1150.08 365.62 L1151.25 366.54 L1152.42 367.44 L1153.59 368.33 L1154.76 369.2 L1155.93 370.05 L1157.1 370.89 L1158.26 371.71 L1159.43 372.51 L1160.6 373.3 L1161.77 374.08 L1162.94 374.84 L1164.11 375.59 L1165.28 376.33 L1166.45 377.05 L1167.62 377.76 L1168.79 378.45 L1169.96 379.14 L1171.13 379.81 L1172.3 380.47 L1173.47 381.12 L1174.64 381.76 L1175.81 382.39 L1176.98 383.01 L1178.15 383.62 L1179.32 384.22 L1180.49 384.81 L1181.66 385.38 L1182.83 385.96 L1184 386.52 L1185.17 387.07 L1186.34 387.61 L1187.51 388.15 L1188.68 388.67 L1189.85 389.19 L1191.02 389.71 L1192.19 390.21 L1193.36 390.71 L1194.53 391.19 L1195.7 391.68 L1196.87 392.15 L1198.04 392.62 L1199.21 393.08 L1200.38 393.53 L1201.55 393.98 L1202.72 394.42 L1203.89 394.86 L1205.06 395.29 L1206.23 395.71 L1207.39 396.13 L1208.56 396.54 L1209.73 396.95 L1210.9 397.35 L1212.07 397.74 L1213.24 398.13 L1214.41 398.52 L1215.58 398.9 L1216.75 399.27 L1217.92 399.64 L1219.09 400.01 L1220.26 400.37 L1221.43 400.73 L1222.6 401.08 L1223.77 401.43 L1224.94 401.77 L1226.11 402.11 L1227.28 402.44 L1228.45 402.77 L1229.62 403.1 L1230.79 403.42 L1231.96 403.74 L1233.13 404.06 L1234.3 404.37 L1235.47 404.67 L1236.64 404.98 L1237.81 405.28 L1238.98 405.57 L1240.15 405.87 L1241.32 406.16 L1242.49 406.44 L1243.66 406.73 L1244.83 407.01 L1246 407.28 L1247.17 407.56 L1248.34 407.83 L1249.51 408.1 L1250.68 408.36 L1251.85 408.62 L1253.02 408.88 L1254.19 409.14 L1255.36 409.39 L1256.52 409.64 L1257.69 409.89 L1258.86 410.14 L1260.03 410.38 L1261.2 410.62 L1262.37 410.86 L1263.54 411.09 L1264.71 411.32" fill="none" stroke="#000" stroke-width="3.8" stroke-linejoin="round"/>
<rect x="775.2" y="31.7" width="510.8" height="423.9" fill="none" stroke="#000" stroke-width="3.1"/>
<text transform="translate(679.25 362.4) rotate(-90)" font-family='"Liberation Sans", sans-serif' font-size="39.4" textLength="9.29" lengthAdjust="spacingAndGlyphs" fill="#231f20" stroke="#231f20" stroke-width="0.55" stroke-linejoin="round">|</text>
<text transform="translate(678.75 352.52) rotate(-90)" font-family='"Liberation Sans", sans-serif' font-size="36.16" textLength="16.45" lengthAdjust="spacingAndGlyphs" fill="#231f20" stroke="#231f20" stroke-width="0.55" stroke-linejoin="round">S</text>
<text transform="translate(691.9 335.18) rotate(-90)" font-family='"Liberation Sans", sans-serif' font-size="20.34" textLength="19.54" lengthAdjust="spacingAndGlyphs" fill="#231f20" stroke="#231f20" stroke-width="0.31" stroke-linejoin="round">21</text>
<text transform="translate(676.29 312.75) rotate(-90)" font-family='"Liberation Sans", sans-serif' font-size="34.35" textLength="9.92" lengthAdjust="spacingAndGlyphs" fill="#231f20" stroke="#231f20" stroke-width="0.52" stroke-linejoin="round">(</text>
<text transform="translate(679.42 302.48) rotate(-90)" font-family='"Liberation Serif", serif' font-size="38.66" textLength="26.55" lengthAdjust="spacingAndGlyphs" fill="#231f20" stroke="#231f20" stroke-width="0.6" stroke-linejoin="round">ω</text>
<text transform="translate(676.29 277.67) rotate(-90)" font-family='"Liberation Sans", sans-serif' font-size="34.35" textLength="9.92" lengthAdjust="spacingAndGlyphs" fill="#231f20" stroke="#231f20" stroke-width="0.52" stroke-linejoin="round">)</text>
<text transform="translate(679.25 266.29) rotate(-90)" font-family='"Liberation Sans", sans-serif' font-size="39.4" textLength="8.97" lengthAdjust="spacingAndGlyphs" fill="#231f20" stroke="#231f20" stroke-width="0.55" stroke-linejoin="round">|</text>
<text transform="translate(676.88 249.09) rotate(-90)" font-family='"Liberation Sans", sans-serif' font-size="33.92" textLength="10.17" lengthAdjust="spacingAndGlyphs" fill="#231f20" stroke="#231f20" stroke-width="0.52" stroke-linejoin="round">(</text>
<text transform="translate(679.5 239.13) rotate(-90)" font-family='"Liberation Sans", sans-serif' font-size="36.43" textLength="147.93" lengthAdjust="spacingAndGlyphs" fill="#231f20" stroke="#231f20" stroke-width="0.55" stroke-linejoin="round">arb. units</text>
<text transform="translate(676.88 93.38) rotate(-90)" font-family='"Liberation Sans", sans-serif' font-size="33.92" textLength="10.17" lengthAdjust="spacingAndGlyphs" fill="#231f20" stroke="#231f20" stroke-width="0.52" stroke-linejoin="round">)</text>
<text x="914.42" y="547.63" font-family='"Liberation Serif", serif' font-size="37.62" textLength="26.66" lengthAdjust="spacingAndGlyphs" fill="#231f20" stroke="#231f20" stroke-width="0.6" stroke-linejoin="round">ω</text>
<text x="939.92" y="559.96" font-family='"Liberation Sans", sans-serif' font-size="19.46" textLength="13.6" lengthAdjust="spacingAndGlyphs" fill="#231f20" stroke="#231f20" stroke-width="0.3" stroke-linejoin="round">p</text>
<text x="957.5" y="547.61" font-family='"Liberation Serif", serif' font-size="40.06" textLength="10.3" lengthAdjust="spacingAndGlyphs" fill="#231f20" stroke="#231f20" stroke-width="0.6" stroke-linejoin="round">/</text>
<text x="966.47" y="547.5" font-family='"Liberation Serif", serif' font-size="38.21" textLength="20.83" lengthAdjust="spacingAndGlyphs" fill="#231f20" stroke="#231f20" stroke-width="0.6" stroke-linejoin="round">2</text>
<text x="986.45" y="547.62" font-family='"Liberation Serif", serif' font-size="38.4" textLength="20.15" lengthAdjust="spacingAndGlyphs" fill="#231f20" stroke="#231f20" stroke-width="0.6" stroke-linejoin="round">π</text>
<text x="1012.86" y="545" font-family='"Liberation Sans", sans-serif' font-size="32.85" textLength="8.79" lengthAdjust="spacingAndGlyphs" fill="#231f20" stroke="#231f20" stroke-width="0.5" stroke-linejoin="round">(</text>
<text x="1021.83" y="547.64" font-family='"Liberation Sans", sans-serif' font-size="37.01" textLength="66.32" lengthAdjust="spacingAndGlyphs" fill="#231f20" stroke="#231f20" stroke-width="0.55" stroke-linejoin="round">GHz</text>
<text x="1088.35" y="545" font-family='"Liberation Sans", sans-serif' font-size="32.85" textLength="8.79" lengthAdjust="spacingAndGlyphs" fill="#231f20" stroke="#231f20" stroke-width="0.5" stroke-linejoin="round">)</text>
<text x="1323.93" y="31.52" font-family='"Liberation Sans", sans-serif' font-size="38.51" font-weight="bold" textLength="20.86" lengthAdjust="spacingAndGlyphs" fill="#231f20" stroke="#231f20" stroke-width="1" stroke-linejoin="round">c</text>
<line x1="1477" y1="450.2" x2="1490" y2="450.2" stroke="#000" stroke-width="3"/>
<line x1="1477" y1="336.44" x2="1490" y2="336.44" stroke="#000" stroke-width="3"/>
<line x1="1477" y1="222.68" x2="1490" y2="222.68" stroke="#000" stroke-width="3"/>
<line x1="1477" y1="108.92" x2="1490" y2="108.92" stroke="#000" stroke-width="3"/>
<line x1="1559.3" y1="450" x2="1559.3" y2="462.8" stroke="#000" stroke-width="3"/>
<line x1="1744" y1="450" x2="1744" y2="462.8" stroke="#000" stroke-width="3"/>
<line x1="1928.7" y1="450" x2="1928.7" y2="462.8" stroke="#000" stroke-width="3"/>
<text x="1420.59" y="122.66" font-family='"Liberation Sans", sans-serif' font-size="36.2" textLength="47.3" lengthAdjust="spacingAndGlyphs" fill="#000" stroke="#000" stroke-width="0.55" stroke-linejoin="round">0.6</text>
<text x="1420.09" y="236.36" font-family='"Liberation Sans", sans-serif' font-size="36.2" textLength="47.3" lengthAdjust="spacingAndGlyphs" fill="#000" stroke="#000" stroke-width="0.55" stroke-linejoin="round">0.4</text>
<text x="1420.81" y="350.06" font-family='"Liberation Sans", sans-serif' font-size="36.2" textLength="47.3" lengthAdjust="spacingAndGlyphs" fill="#000" stroke="#000" stroke-width="0.55" stroke-linejoin="round">0.2</text>
<text x="1420.43" y="462.61" font-family='"Liberation Sans", sans-serif' font-size="36.2" textLength="47.3" lengthAdjust="spacingAndGlyphs" fill="#000" stroke="#000" stroke-width="0.55" stroke-linejoin="round">0.0</text>
<text x="1509.95" y="500.11" font-family='"Liberation Sans", sans-serif' font-size="36.2" textLength="76.65" lengthAdjust="spacingAndGlyphs" fill="#000" stroke="#000" stroke-width="0.55" stroke-linejoin="round">−200</text>
<text x="1732.34" y="500.11" font-family='"Liberation Sans", sans-serif' font-size="36.2" textLength="18.92" lengthAdjust="spacingAndGlyphs" fill="#000" stroke="#000" stroke-width="0.55" stroke-linejoin="round">0</text>
<text x="1893.12" y="500.11" font-family='"Liberation Sans", sans-serif' font-size="36.2" textLength="56.77" lengthAdjust="spacingAndGlyphs" fill="#000" stroke="#000" stroke-width="0.55" stroke-linejoin="round">200</text>
<text x="1526.6" y="402.3" font-family='"Liberation Sans", sans-serif' font-size="36.77" textLength="128.01" lengthAdjust="spacingAndGlyphs" fill="#231f20" stroke="#231f20" stroke-width="0.55" stroke-linejoin="round">Device 1</text>
<text transform="translate(1393.25 383.2) rotate(-90)" font-family='"Liberation Sans", sans-serif' font-size="39.4" textLength="9.29" lengthAdjust="spacingAndGlyphs" fill="#231f20" stroke="#231f20" stroke-width="0.55" stroke-linejoin="round">|</text>
<text transform="translate(1392.75 373.32) rotate(-90)" font-family='"Liberation Sans", sans-serif' font-size="36.16" textLength="16.45" lengthAdjust="spacingAndGlyphs" fill="#231f20" stroke="#231f20" stroke-width="0.55" stroke-linejoin="round">S</text>
<text transform="translate(1405.9 355.98) rotate(-90)" font-family='"Liberation Sans", sans-serif' font-size="20.34" textLength="19.54" lengthAdjust="spacingAndGlyphs" fill="#231f20" stroke="#231f20" stroke-width="0.31" stroke-linejoin="round">21</text>
<text transform="translate(1390.29 333.55) rotate(-90)" font-family='"Liberation Sans", sans-serif' font-size="34.35" textLength="9.92" lengthAdjust="spacingAndGlyphs" fill="#231f20" stroke="#231f20" stroke-width="0.52" stroke-linejoin="round">(</text>
<text transform="translate(1393.42 323.28) rotate(-90)" font-family='"Liberation Serif", serif' font-size="38.66" textLength="26.55" lengthAdjust="spacingAndGlyphs" fill="#231f20" stroke="#231f20" stroke-width="0.6" stroke-linejoin="round">ω</text>
<text transform="translate(1390.29 298.47) rotate(-90)" font-family='"Liberation Sans", sans-serif' font-size="34.35" textLength="9.92" lengthAdjust="spacingAndGlyphs" fill="#231f20" stroke="#231f20" stroke-width="0.52" stroke-linejoin="round">)</text>
<text transform="translate(1393.25 287.09) rotate(-90)" font-family='"Liberation Sans", sans-serif' font-size="39.4" textLength="8.97" lengthAdjust="spacingAndGlyphs" fill="#231f20" stroke="#231f20" stroke-width="0.55" stroke-linejoin="round">|</text>
<text transform="translate(1390.88 269.89) rotate(-90)" font-family='"Liberation Sans", sans-serif' font-size="33.92" textLength="10.17" lengthAdjust="spacingAndGlyphs" fill="#231f20" stroke="#231f20" stroke-width="0.52" stroke-linejoin="round">(</text>
<text transform="translate(1393.5 259.93) rotate(-90)" font-family='"Liberation Sans", sans-serif' font-size="36.43" textLength="147.93" lengthAdjust="spacingAndGlyphs" fill="#231f20" stroke="#231f20" stroke-width="0.55" stroke-linejoin="round">arb. units</text>
<text transform="translate(1390.88 114.18) rotate(-90)" font-family='"Liberation Sans", sans-serif' font-size="33.92" textLength="10.17" lengthAdjust="spacingAndGlyphs" fill="#231f20" stroke="#231f20" stroke-width="0.52" stroke-linejoin="round">)</text>
<text x="1558.47" y="539.02" font-family='"Liberation Serif", serif' font-size="41.25" textLength="14.65" lengthAdjust="spacingAndGlyphs" fill="#231f20" stroke="#231f20" stroke-width="0.6" stroke-linejoin="round">(</text>
<text x="1572.17" y="539.3" font-family='"Liberation Serif", serif' font-size="41.38" textLength="29.16" lengthAdjust="spacingAndGlyphs" fill="#231f20" stroke="#231f20" stroke-width="0.6" stroke-linejoin="round">ω</text>
<text x="1600.62" y="552.58" font-family='"Liberation Sans", sans-serif' font-size="22.28" textLength="14.47" lengthAdjust="spacingAndGlyphs" fill="#231f20" stroke="#231f20" stroke-width="0.34" stroke-linejoin="round">p</text>
<text x="1618.33" y="538.29" font-family='"Liberation Sans", sans-serif' font-size="39.68" textLength="14.73" lengthAdjust="spacingAndGlyphs" fill="#231f20" stroke="#231f20" stroke-width="0.55" stroke-linejoin="round">-</text>
<text x="1640.14" y="539.3" font-family='"Liberation Serif", serif' font-size="41.38" textLength="29.62" lengthAdjust="spacingAndGlyphs" fill="#231f20" stroke="#231f20" stroke-width="0.6" stroke-linejoin="round">ω</text>
<text x="1669.19" y="552.97" font-family='"Liberation Sans", sans-serif' font-size="23.29" textLength="13.36" lengthAdjust="spacingAndGlyphs" fill="#231f20" stroke="#231f20" stroke-width="0.36" stroke-linejoin="round">d</text>
<text x="1681.81" y="538.29" font-family='"Liberation Sans", sans-serif' font-size="39.68" textLength="14.19" lengthAdjust="spacingAndGlyphs" fill="#231f20" stroke="#231f20" stroke-width="0.55" stroke-linejoin="round">-</text>
<text x="1712.26" y="539.49" font-family='"Liberation Serif", serif' font-size="41.8" textLength="29.39" lengthAdjust="spacingAndGlyphs" fill="#231f20" stroke="#231f20" stroke-width="0.6" stroke-linejoin="round">ω</text>
<text x="1741.11" y="552.7" font-family='"Liberation Sans", sans-serif' font-size="22.86" textLength="19.97" lengthAdjust="spacingAndGlyphs" fill="#231f20" stroke="#231f20" stroke-width="0.35" stroke-linejoin="round">m</text>
<text x="1760.48" y="539.07" font-family='"Liberation Serif", serif' font-size="41.03" textLength="14.65" lengthAdjust="spacingAndGlyphs" fill="#231f20" stroke="#231f20" stroke-width="0.6" stroke-linejoin="round">)</text>
<text x="1785.2" y="539.46" font-family='"Liberation Serif", serif' font-size="44.55" textLength="11.2" lengthAdjust="spacingAndGlyphs" fill="#231f20" stroke="#231f20" stroke-width="0.6" stroke-linejoin="round">/</text>
<text x="1806.15" y="539.3" font-family='"Liberation Serif", serif' font-size="42.44" textLength="21.08" lengthAdjust="spacingAndGlyphs" fill="#231f20" stroke="#231f20" stroke-width="0.6" stroke-linejoin="round">2</text>
<text x="1827.91" y="539.47" font-family='"Liberation Serif", serif' font-size="43.73" textLength="21.74" lengthAdjust="spacingAndGlyphs" fill="#231f20" stroke="#231f20" stroke-width="0.6" stroke-linejoin="round">π</text>
<text x="1849.74" y="537.16" font-family='"Liberation Sans", sans-serif' font-size="30.16" textLength="56.51" lengthAdjust="spacingAndGlyphs" fill="#231f20" stroke="#231f20" stroke-width="0.46" stroke-linejoin="round">(Hz)</text>
<g fill="#c9fad9" stroke="#3b53a4" stroke-width="3.8"><circle cx="1513.12" cy="83.47" r="5.5"/><circle cx="1514.05" cy="85.28" r="5.5"/><circle cx="1514.97" cy="87.35" r="5.5"/><circle cx="1515" cy="97.5" r="5.5"/><circle cx="1515.9" cy="74.37" r="5.5"/><circle cx="1516.82" cy="98.78" r="5.5"/><circle cx="1517.74" cy="79.53" r="5.5"/><circle cx="1518.67" cy="68.31" r="5.5"/><circle cx="1519.59" cy="80.37" r="5.5"/><circle cx="1520.51" cy="70.38" r="5.5"/><circle cx="1521.44" cy="84.11" r="5.5"/><circle cx="1522.36" cy="74.82" r="5.5"/><circle cx="1523.28" cy="79.38" r="5.5"/><circle cx="1524.21" cy="72.67" r="5.5"/><circle cx="1525.13" cy="72.77" r="5.5"/><circle cx="1526.05" cy="78.12" r="5.5"/><circle cx="1526.98" cy="90.8" r="5.5"/><circle cx="1527.9" cy="93.71" r="5.5"/><circle cx="1528.82" cy="92.26" r="5.5"/><circle cx="1529.75" cy="77.25" r="5.5"/><circle cx="1530.67" cy="85.38" r="5.5"/><circle cx="1531.6" cy="72.03" r="5.5"/><circle cx="1532.52" cy="75.89" r="5.5"/><circle cx="1533.44" cy="87.49" r="5.5"/><circle cx="1534.37" cy="84.12" r="5.5"/><circle cx="1535.29" cy="74.68" r="5.5"/><circle cx="1536.21" cy="70.38" r="5.5"/><circle cx="1537.14" cy="74.15" r="5.5"/><circle cx="1538.06" cy="69.1" r="5.5"/><circle cx="1538.98" cy="60.97" r="5.5"/><circle cx="1539.91" cy="75.88" r="5.5"/><circle cx="1540.83" cy="65.41" r="5.5"/><circle cx="1541.75" cy="68.53" r="5.5"/><circle cx="1542.68" cy="62.98" r="5.5"/><circle cx="1543.6" cy="67.93" r="5.5"/><circle cx="1544.52" cy="76.87" r="5.5"/><circle cx="1545.45" cy="82.04" r="5.5"/><circle cx="1546.37" cy="64.58" r="5.5"/><circle cx="1547.29" cy="65.43" r="5.5"/><circle cx="1548.22" cy="67.01" r="5.5"/><circle cx="1549.14" cy="67.94" r="5.5"/><circle cx="1550.07" cy="71.37" r="5.5"/><circle cx="1550.99" cy="58.81" r="5.5"/><circle cx="1551.5" cy="108" r="5.5"/><circle cx="1551.91" cy="67.71" r="5.5"/><circle cx="1552.84" cy="82.95" r="5.5"/><circle cx="1553.76" cy="50.7" r="5.5"/><circle cx="1554.68" cy="62.58" r="5.5"/><circle cx="1555.61" cy="78.89" r="5.5"/><circle cx="1556.53" cy="71.64" r="5.5"/><circle cx="1557.45" cy="65.99" r="5.5"/><circle cx="1558.38" cy="63.02" r="5.5"/><circle cx="1559" cy="95" r="5.5"/><circle cx="1559.3" cy="72.92" r="5.5"/><circle cx="1560.22" cy="77.83" r="5.5"/><circle cx="1561.15" cy="92.26" r="5.5"/><circle cx="1562.07" cy="78.81" r="5.5"/><circle cx="1562.99" cy="84.65" r="5.5"/><circle cx="1563.92" cy="72.51" r="5.5"/><circle cx="1564.84" cy="99.22" r="5.5"/><circle cx="1565.76" cy="57.86" r="5.5"/><circle cx="1566.69" cy="81.6" r="5.5"/><circle cx="1567.61" cy="76.09" r="5.5"/><circle cx="1568.54" cy="63.36" r="5.5"/><circle cx="1569.46" cy="58.65" r="5.5"/><circle cx="1570.38" cy="59.27" r="5.5"/><circle cx="1571.31" cy="83.46" r="5.5"/><circle cx="1572.23" cy="65.5" r="5.5"/><circle cx="1573.15" cy="73.33" r="5.5"/><circle cx="1574.08" cy="91.2" r="5.5"/><circle cx="1575" cy="91.68" r="5.5"/><circle cx="1575.92" cy="86.42" r="5.5"/><circle cx="1576.85" cy="79.41" r="5.5"/><circle cx="1577.77" cy="81.23" r="5.5"/><circle cx="1578.69" cy="73.47" r="5.5"/><circle cx="1579.62" cy="85.1" r="5.5"/><circle cx="1580.54" cy="75.71" r="5.5"/><circle cx="1581.46" cy="82.74" r="5.5"/><circle cx="1582.39" cy="93.94" r="5.5"/><circle cx="1583.31" cy="81.15" r="5.5"/><circle cx="1584.23" cy="71.58" r="5.5"/><circle cx="1585.16" cy="99.48" r="5.5"/><circle cx="1586.08" cy="72.71" r="5.5"/><circle cx="1587.01" cy="81.89" r="5.5"/><circle cx="1587.93" cy="61.51" r="5.5"/><circle cx="1588.85" cy="78.99" r="5.5"/><circle cx="1589.78" cy="102.02" r="5.5"/><circle cx="1590.7" cy="97.49" r="5.5"/><circle cx="1591.62" cy="99.46" r="5.5"/><circle cx="1592.55" cy="76.05" r="5.5"/><circle cx="1593.47" cy="88.19" r="5.5"/><circle cx="1594.39" cy="79.03" r="5.5"/><circle cx="1595.32" cy="90.11" r="5.5"/><circle cx="1596.24" cy="91.09" r="5.5"/><circle cx="1597.16" cy="95.64" r="5.5"/><circle cx="1598.09" cy="77.44" r="5.5"/><circle cx="1599.01" cy="75.25" r="5.5"/><circle cx="1599.93" cy="85.55" r="5.5"/><circle cx="1600.86" cy="90.43" r="5.5"/><circle cx="1601.78" cy="82.53" r="5.5"/><circle cx="1602.7" cy="74.18" r="5.5"/><circle cx="1603.63" cy="74.07" r="5.5"/><circle cx="1604.55" cy="80.51" r="5.5"/><circle cx="1605.47" cy="92.73" r="5.5"/><circle cx="1606" cy="102" r="5.5"/><circle cx="1606.4" cy="103.2" r="5.5"/><circle cx="1607.32" cy="88.09" r="5.5"/><circle cx="1608.25" cy="78.34" r="5.5"/><circle cx="1609.17" cy="83.15" r="5.5"/><circle cx="1610.09" cy="88.67" r="5.5"/><circle cx="1611.02" cy="84.78" r="5.5"/><circle cx="1611.94" cy="81.53" r="5.5"/><circle cx="1612.86" cy="80.7" r="5.5"/><circle cx="1613.79" cy="101.86" r="5.5"/><circle cx="1614.71" cy="87.24" r="5.5"/><circle cx="1615.63" cy="89.32" r="5.5"/><circle cx="1616.56" cy="74.99" r="5.5"/><circle cx="1617.48" cy="92.37" r="5.5"/><circle cx="1618.4" cy="102.43" r="5.5"/><circle cx="1619.33" cy="78.94" r="5.5"/><circle cx="1620.25" cy="85.5" r="5.5"/><circle cx="1621.17" cy="77.71" r="5.5"/><circle cx="1622.1" cy="96.24" r="5.5"/><circle cx="1623.02" cy="77.27" r="5.5"/><circle cx="1623.94" cy="86.6" r="5.5"/><circle cx="1624.87" cy="83.74" r="5.5"/><circle cx="1625.79" cy="85.85" r="5.5"/><circle cx="1626.72" cy="96.39" r="5.5"/><circle cx="1627.64" cy="75.18" r="5.5"/><circle cx="1628.56" cy="85.33" r="5.5"/><circle cx="1629.49" cy="86.39" r="5.5"/><circle cx="1630.41" cy="90.62" r="5.5"/><circle cx="1631.33" cy="82.79" r="5.5"/><circle cx="1632.26" cy="94.95" r="5.5"/><circle cx="1633.18" cy="101.07" r="5.5"/><circle cx="1634.1" cy="106.63" r="5.5"/><circle cx="1635.03" cy="93.32" r="5.5"/><circle cx="1635.95" cy="89.85" r="5.5"/><circle cx="1636.87" cy="84.38" r="5.5"/><circle cx="1637.8" cy="91.27" r="5.5"/><circle cx="1638.72" cy="79.59" r="5.5"/><circle cx="1639.64" cy="98.41" r="5.5"/><circle cx="1640.57" cy="103.21" r="5.5"/><circle cx="1641" cy="119" r="5.5"/><circle cx="1641.49" cy="89.44" r="5.5"/><circle cx="1642.41" cy="96.37" r="5.5"/><circle cx="1643.34" cy="92.11" r="5.5"/><circle cx="1644.26" cy="77.33" r="5.5"/><circle cx="1645.19" cy="104.56" r="5.5"/><circle cx="1646.11" cy="87.49" r="5.5"/><circle cx="1647.03" cy="98.09" r="5.5"/><circle cx="1647.96" cy="86.97" r="5.5"/><circle cx="1648.88" cy="91.45" r="5.5"/><circle cx="1649.8" cy="103.97" r="5.5"/><circle cx="1650.73" cy="103.65" r="5.5"/><circle cx="1651.65" cy="73.29" r="5.5"/><circle cx="1652.57" cy="81.58" r="5.5"/><circle cx="1653" cy="110.5" r="5.5"/><circle cx="1653.5" cy="92.44" r="5.5"/><circle cx="1654.42" cy="77.14" r="5.5"/><circle cx="1655.34" cy="96.45" r="5.5"/><circle cx="1656.27" cy="82.22" r="5.5"/><circle cx="1657.19" cy="99.17" r="5.5"/><circle cx="1658.11" cy="94.9" r="5.5"/><circle cx="1659.04" cy="96.53" r="5.5"/><circle cx="1659.96" cy="97.4" r="5.5"/><circle cx="1660.88" cy="83.9" r="5.5"/><circle cx="1661.81" cy="90.38" r="5.5"/><circle cx="1662.73" cy="101.98" r="5.5"/><circle cx="1663.66" cy="106" r="5.5"/><circle cx="1664.5" cy="69" r="5.5"/><circle cx="1664.58" cy="93.51" r="5.5"/><circle cx="1665.5" cy="90.67" r="5.5"/><circle cx="1666.43" cy="79.97" r="5.5"/><circle cx="1667.35" cy="79.99" r="5.5"/><circle cx="1668.27" cy="104.53" r="5.5"/><circle cx="1669.2" cy="102.34" r="5.5"/><circle cx="1670.12" cy="88.31" r="5.5"/><circle cx="1671.04" cy="105.48" r="5.5"/><circle cx="1671.97" cy="74.72" r="5.5"/><circle cx="1672.89" cy="88.97" r="5.5"/><circle cx="1673.81" cy="94.77" r="5.5"/><circle cx="1674.74" cy="100.99" r="5.5"/><circle cx="1675.66" cy="100.89" r="5.5"/><circle cx="1676.58" cy="96.55" r="5.5"/><circle cx="1677.51" cy="93.61" r="5.5"/><circle cx="1678.43" cy="110.19" r="5.5"/><circle cx="1679.36" cy="108.67" r="5.5"/><circle cx="1680.28" cy="111.25" r="5.5"/><circle cx="1681.2" cy="103.31" r="5.5"/><circle cx="1682.13" cy="90.95" r="5.5"/><circle cx="1683.05" cy="91.78" r="5.5"/><circle cx="1683.97" cy="112.41" r="5.5"/><circle cx="1684.9" cy="101.26" r="5.5"/><circle cx="1685.2" cy="79.8" r="5.5"/><circle cx="1685.82" cy="90.66" r="5.5"/><circle cx="1686.74" cy="102.92" r="5.5"/><circle cx="1686.9" cy="111.7" r="5.5"/><circle cx="1686.9" cy="128.1" r="5.5"/><circle cx="1687.67" cy="104.48" r="5.5"/><circle cx="1688.59" cy="97.89" r="5.5"/><circle cx="1689.51" cy="113.46" r="5.5"/><circle cx="1690.44" cy="102.65" r="5.5"/><circle cx="1691.36" cy="98.41" r="5.5"/><circle cx="1692.28" cy="98.02" r="5.5"/><circle cx="1693.21" cy="102.13" r="5.5"/><circle cx="1694.13" cy="117.8" r="5.5"/><circle cx="1696.4" cy="83.3" r="5.5"/><circle cx="1696.9" cy="132.02" r="5.5"/><circle cx="1697.2" cy="134.1" r="5.5"/><circle cx="1697.83" cy="129.36" r="5.5"/><circle cx="1698.1" cy="122.1" r="5.5"/><circle cx="1698.75" cy="109.51" r="5.5"/><circle cx="1700.6" cy="120.1" r="5.5"/><circle cx="1701.52" cy="110.82" r="5.5"/><circle cx="1701.6" cy="97.9" r="5.5"/><circle cx="1702.44" cy="117.96" r="5.5"/><circle cx="1703.37" cy="132.01" r="5.5"/><circle cx="1707.06" cy="153.01" r="5.5"/><circle cx="1707.98" cy="134.45" r="5.5"/><circle cx="1710.75" cy="148.12" r="5.5"/><circle cx="1711" cy="145.3" r="5.5"/><circle cx="1713.52" cy="146.42" r="5.5"/><circle cx="1715.37" cy="169.81" r="5.5"/><circle cx="1716.2" cy="116.9" r="5.5"/><circle cx="1716.2" cy="161.7" r="5.5"/><circle cx="1717.22" cy="168.54" r="5.5"/><circle cx="1718.14" cy="173.55" r="5.5"/><circle cx="1718.8" cy="177.2" r="5.5"/><circle cx="1719.07" cy="178.08" r="5.5"/><circle cx="1721.4" cy="196.2" r="5.5"/><circle cx="1721.84" cy="191.61" r="5.5"/><circle cx="1722.76" cy="201.65" r="5.5"/><circle cx="1723.68" cy="205.95" r="5.5"/><circle cx="1724.61" cy="215.34" r="5.5"/><circle cx="1724.8" cy="170.3" r="5.5"/><circle cx="1725.53" cy="212.47" r="5.5"/><circle cx="1725.7" cy="146.2" r="5.5"/><circle cx="1726.45" cy="233.72" r="5.5"/><circle cx="1727.38" cy="236.8" r="5.5"/><circle cx="1728.3" cy="204.8" r="5.5"/><circle cx="1728.3" cy="248.25" r="5.5"/><circle cx="1730" cy="225.5" r="5.5"/><circle cx="1731" cy="243.9" r="5.5"/><circle cx="1731" cy="269.5" r="5.5"/><circle cx="1731" cy="304.4" r="5.5"/><circle cx="1731.7" cy="242.8" r="5.5"/><circle cx="1733.4" cy="357.9" r="5.5"/><circle cx="1735.7" cy="392.9" r="5.5"/><circle cx="1736.5" cy="412.3" r="5.5"/><circle cx="1737.2" cy="404.5" r="5.5"/><circle cx="1738" cy="386.6" r="5.5"/><circle cx="1740.3" cy="337" r="5.5"/><circle cx="1741.9" cy="309.8" r="5.5"/><circle cx="1741.9" cy="351" r="5.5"/><circle cx="1743.5" cy="299" r="5.5"/><circle cx="1743.8" cy="241" r="5.5"/><circle cx="1744.2" cy="285.8" r="5.5"/><circle cx="1745" cy="242.3" r="5.5"/><circle cx="1745" cy="267.2" r="5.5"/><circle cx="1746.77" cy="250.14" r="5.5"/><circle cx="1747.69" cy="237.4" r="5.5"/><circle cx="1748.1" cy="203.1" r="5.5"/><circle cx="1748.1" cy="257.8" r="5.5"/><circle cx="1748.62" cy="226.22" r="5.5"/><circle cx="1749" cy="256.6" r="5.5"/><circle cx="1749.54" cy="222.52" r="5.5"/><circle cx="1750.46" cy="222.44" r="5.5"/><circle cx="1751.39" cy="205.5" r="5.5"/><circle cx="1752.31" cy="199.45" r="5.5"/><circle cx="1752.4" cy="220.3" r="5.5"/><circle cx="1753.23" cy="190.86" r="5.5"/><circle cx="1755.9" cy="185.9" r="5.5"/><circle cx="1756.01" cy="183.12" r="5.5"/><circle cx="1756.93" cy="174.58" r="5.5"/><circle cx="1757.85" cy="170.29" r="5.5"/><circle cx="1758.78" cy="164.43" r="5.5"/><circle cx="1759.3" cy="170.3" r="5.5"/><circle cx="1760.62" cy="155.48" r="5.5"/><circle cx="1761.55" cy="151.28" r="5.5"/><circle cx="1762.47" cy="142.08" r="5.5"/><circle cx="1762.8" cy="149.7" r="5.5"/><circle cx="1762.8" cy="113.4" r="5.5"/><circle cx="1763.39" cy="135.04" r="5.5"/><circle cx="1765.24" cy="136.79" r="5.5"/><circle cx="1766.16" cy="134.78" r="5.5"/><circle cx="1766.2" cy="141" r="5.5"/><circle cx="1767.09" cy="138.13" r="5.5"/><circle cx="1768.01" cy="138.98" r="5.5"/><circle cx="1768.93" cy="131.3" r="5.5"/><circle cx="1769.86" cy="136.67" r="5.5"/><circle cx="1770.78" cy="139.87" r="5.5"/><circle cx="1771.4" cy="134.1" r="5.5"/><circle cx="1771.7" cy="108.52" r="5.5"/><circle cx="1772.63" cy="124.68" r="5.5"/><circle cx="1773.1" cy="101.4" r="5.5"/><circle cx="1773.55" cy="120.11" r="5.5"/><circle cx="1774.48" cy="128.22" r="5.5"/><circle cx="1775.4" cy="127.74" r="5.5"/><circle cx="1776.32" cy="119.39" r="5.5"/><circle cx="1776.6" cy="125.5" r="5.5"/><circle cx="1776.6" cy="89.3" r="5.5"/><circle cx="1777.25" cy="103.83" r="5.5"/><circle cx="1779.09" cy="113.67" r="5.5"/><circle cx="1780" cy="116.9" r="5.5"/><circle cx="1780.02" cy="119.07" r="5.5"/><circle cx="1780.94" cy="112.08" r="5.5"/><circle cx="1781.86" cy="118.16" r="5.5"/><circle cx="1782.79" cy="108.92" r="5.5"/><circle cx="1783.4" cy="110" r="5.5"/><circle cx="1783.71" cy="104.58" r="5.5"/><circle cx="1784.63" cy="125.86" r="5.5"/><circle cx="1785.56" cy="104.5" r="5.5"/><circle cx="1786.48" cy="113.87" r="5.5"/><circle cx="1786.9" cy="84.1" r="5.5"/><circle cx="1787.4" cy="107.99" r="5.5"/><circle cx="1788.33" cy="101.89" r="5.5"/><circle cx="1789.25" cy="109.43" r="5.5"/><circle cx="1790.17" cy="129.06" r="5.5"/><circle cx="1791.1" cy="99.33" r="5.5"/><circle cx="1792.02" cy="124.74" r="5.5"/><circle cx="1792.95" cy="104.18" r="5.5"/><circle cx="1793.8" cy="85.9" r="5.5"/><circle cx="1793.87" cy="88.18" r="5.5"/><circle cx="1794.79" cy="94.24" r="5.5"/><circle cx="1795.72" cy="104.09" r="5.5"/><circle cx="1796.64" cy="106.9" r="5.5"/><circle cx="1797.2" cy="103.1" r="5.5"/><circle cx="1797.56" cy="102.05" r="5.5"/><circle cx="1798" cy="119.5" r="5.5"/><circle cx="1798.1" cy="119.5" r="5.5"/><circle cx="1798.49" cy="84.43" r="5.5"/><circle cx="1799.41" cy="89.06" r="5.5"/><circle cx="1800.33" cy="106.32" r="5.5"/><circle cx="1801.26" cy="89.61" r="5.5"/><circle cx="1802.18" cy="87.7" r="5.5"/><circle cx="1803.1" cy="94.97" r="5.5"/><circle cx="1804.03" cy="108.27" r="5.5"/><circle cx="1804.95" cy="97.1" r="5.5"/><circle cx="1805.87" cy="89.12" r="5.5"/><circle cx="1805.9" cy="101.4" r="5.5"/><circle cx="1806.8" cy="91.59" r="5.5"/><circle cx="1807.6" cy="70.3" r="5.5"/><circle cx="1807.72" cy="80.55" r="5.5"/><circle cx="1808.64" cy="87.37" r="5.5"/><circle cx="1809.57" cy="74.94" r="5.5"/><circle cx="1810.49" cy="81.33" r="5.5"/><circle cx="1811.42" cy="86.13" r="5.5"/><circle cx="1812.34" cy="78.78" r="5.5"/><circle cx="1813.26" cy="97.1" r="5.5"/><circle cx="1814.19" cy="93.87" r="5.5"/><circle cx="1815.11" cy="70.05" r="5.5"/><circle cx="1816.03" cy="85.96" r="5.5"/><circle cx="1816.96" cy="76.58" r="5.5"/><circle cx="1817.88" cy="88.65" r="5.5"/><circle cx="1818.8" cy="82.64" r="5.5"/><circle cx="1819.73" cy="84.25" r="5.5"/><circle cx="1820.65" cy="94.26" r="5.5"/><circle cx="1821.57" cy="86.05" r="5.5"/><circle cx="1822.5" cy="105.86" r="5.5"/><circle cx="1823.42" cy="76.7" r="5.5"/><circle cx="1824.34" cy="68.49" r="5.5"/><circle cx="1825.27" cy="87.86" r="5.5"/><circle cx="1826.19" cy="68.54" r="5.5"/><circle cx="1827.12" cy="92.32" r="5.5"/><circle cx="1828.04" cy="87.7" r="5.5"/><circle cx="1828.96" cy="86.83" r="5.5"/><circle cx="1829.89" cy="89.55" r="5.5"/><circle cx="1830.81" cy="102.74" r="5.5"/><circle cx="1831.73" cy="89.35" r="5.5"/><circle cx="1832.66" cy="92.97" r="5.5"/><circle cx="1833.58" cy="90.03" r="5.5"/><circle cx="1834.5" cy="90.25" r="5.5"/><circle cx="1835.43" cy="74.85" r="5.5"/><circle cx="1835.5" cy="108.5" r="5.5"/><circle cx="1836.35" cy="83.53" r="5.5"/><circle cx="1837.27" cy="89.03" r="5.5"/><circle cx="1838.2" cy="81.6" r="5.5"/><circle cx="1839.12" cy="109.92" r="5.5"/><circle cx="1840.04" cy="82.81" r="5.5"/><circle cx="1840.97" cy="76.15" r="5.5"/><circle cx="1841.89" cy="66.2" r="5.5"/><circle cx="1842.81" cy="80.4" r="5.5"/><circle cx="1843.74" cy="70.64" r="5.5"/><circle cx="1844.66" cy="84.46" r="5.5"/><circle cx="1845.59" cy="72.51" r="5.5"/><circle cx="1846.51" cy="95.03" r="5.5"/><circle cx="1847.43" cy="82.37" r="5.5"/><circle cx="1848.36" cy="76.76" r="5.5"/><circle cx="1849.28" cy="68.64" r="5.5"/><circle cx="1850.2" cy="87.84" r="5.5"/><circle cx="1851.13" cy="76.61" r="5.5"/><circle cx="1852.05" cy="67.16" r="5.5"/><circle cx="1852.97" cy="72.67" r="5.5"/><circle cx="1853.9" cy="89" r="5.5"/><circle cx="1854.82" cy="64.34" r="5.5"/><circle cx="1855.74" cy="82.32" r="5.5"/><circle cx="1856.67" cy="95.75" r="5.5"/><circle cx="1857.59" cy="90.23" r="5.5"/><circle cx="1858.51" cy="72.72" r="5.5"/><circle cx="1859.44" cy="86.1" r="5.5"/><circle cx="1860.36" cy="86.11" r="5.5"/><circle cx="1861.28" cy="61.03" r="5.5"/><circle cx="1862.21" cy="91.69" r="5.5"/><circle cx="1863.13" cy="80.01" r="5.5"/><circle cx="1864.06" cy="75.61" r="5.5"/><circle cx="1864.98" cy="97.44" r="5.5"/><circle cx="1865.9" cy="79.93" r="5.5"/><circle cx="1866.83" cy="79.1" r="5.5"/><circle cx="1867.75" cy="87.84" r="5.5"/><circle cx="1868.67" cy="109.35" r="5.5"/><circle cx="1869.6" cy="78.01" r="5.5"/><circle cx="1870.52" cy="70.75" r="5.5"/><circle cx="1871.44" cy="74" r="5.5"/><circle cx="1872.37" cy="84.07" r="5.5"/><circle cx="1873.29" cy="67.77" r="5.5"/><circle cx="1874.21" cy="77.64" r="5.5"/><circle cx="1875.14" cy="79.43" r="5.5"/><circle cx="1876.06" cy="78.33" r="5.5"/><circle cx="1876.98" cy="79.99" r="5.5"/><circle cx="1877.91" cy="83.4" r="5.5"/><circle cx="1878.83" cy="76.79" r="5.5"/><circle cx="1879.75" cy="80.17" r="5.5"/><circle cx="1880.68" cy="84.36" r="5.5"/><circle cx="1881.6" cy="64.04" r="5.5"/><circle cx="1882.53" cy="72.83" r="5.5"/><circle cx="1883.45" cy="73.32" r="5.5"/><circle cx="1884.37" cy="81.58" r="5.5"/><circle cx="1885.3" cy="77.83" r="5.5"/><circle cx="1886.22" cy="77.4" r="5.5"/><circle cx="1887.14" cy="87.75" r="5.5"/><circle cx="1888.07" cy="97.39" r="5.5"/><circle cx="1888.99" cy="80.55" r="5.5"/><circle cx="1889.91" cy="87.7" r="5.5"/><circle cx="1890.84" cy="89.44" r="5.5"/><circle cx="1891.76" cy="69.7" r="5.5"/><circle cx="1892.68" cy="78.13" r="5.5"/><circle cx="1893.61" cy="81.9" r="5.5"/><circle cx="1894.53" cy="74.69" r="5.5"/><circle cx="1895.45" cy="75.56" r="5.5"/><circle cx="1896.38" cy="79.4" r="5.5"/><circle cx="1897.3" cy="80" r="5.5"/><circle cx="1898.22" cy="91.98" r="5.5"/><circle cx="1899.15" cy="82.01" r="5.5"/><circle cx="1900.07" cy="86.82" r="5.5"/><circle cx="1900.99" cy="82.04" r="5.5"/><circle cx="1901.92" cy="75.14" r="5.5"/><circle cx="1902.84" cy="93.11" r="5.5"/><circle cx="1903.77" cy="71.74" r="5.5"/><circle cx="1904.69" cy="85.99" r="5.5"/><circle cx="1905.61" cy="71.69" r="5.5"/><circle cx="1906.54" cy="71.42" r="5.5"/><circle cx="1907.46" cy="75.85" r="5.5"/><circle cx="1908.38" cy="78.44" r="5.5"/><circle cx="1909.31" cy="82.72" r="5.5"/><circle cx="1910.23" cy="95.77" r="5.5"/><circle cx="1911.15" cy="78.43" r="5.5"/><circle cx="1912.08" cy="82.34" r="5.5"/><circle cx="1913" cy="80.2" r="5.5"/><circle cx="1913.92" cy="79.9" r="5.5"/><circle cx="1914.85" cy="91.33" r="5.5"/><circle cx="1915.77" cy="76.64" r="5.5"/><circle cx="1916.69" cy="71.46" r="5.5"/><circle cx="1917.62" cy="72.82" r="5.5"/><circle cx="1918.54" cy="86.66" r="5.5"/><circle cx="1919.46" cy="91.72" r="5.5"/><circle cx="1920.39" cy="65.4" r="5.5"/><circle cx="1921.31" cy="79.37" r="5.5"/><circle cx="1922.24" cy="70.24" r="5.5"/><circle cx="1923.16" cy="64.05" r="5.5"/><circle cx="1924.08" cy="71.26" r="5.5"/><circle cx="1925.01" cy="89.79" r="5.5"/><circle cx="1925.93" cy="53.65" r="5.5"/><circle cx="1926.85" cy="80.13" r="5.5"/><circle cx="1927.78" cy="71.2" r="5.5"/><circle cx="1928.7" cy="87.34" r="5.5"/><circle cx="1929.62" cy="68.99" r="5.5"/><circle cx="1930.55" cy="80.15" r="5.5"/><circle cx="1931" cy="103.5" r="5.5"/><circle cx="1931.47" cy="61.47" r="5.5"/><circle cx="1932.39" cy="58.17" r="5.5"/><circle cx="1933.32" cy="81.7" r="5.5"/><circle cx="1934.24" cy="84.5" r="5.5"/><circle cx="1935.16" cy="84.11" r="5.5"/><circle cx="1936.09" cy="80.37" r="5.5"/><circle cx="1937.01" cy="56.05" r="5.5"/><circle cx="1937.93" cy="55.04" r="5.5"/><circle cx="1938.86" cy="62.86" r="5.5"/><circle cx="1939.78" cy="78.34" r="5.5"/><circle cx="1940.71" cy="77.73" r="5.5"/><circle cx="1941" cy="49" r="5.5"/><circle cx="1941.63" cy="73.73" r="5.5"/><circle cx="1942.55" cy="67.43" r="5.5"/><circle cx="1943" cy="57" r="5.5"/><circle cx="1943.48" cy="77.13" r="5.5"/><circle cx="1944.4" cy="88.41" r="5.5"/><circle cx="1945.32" cy="73.95" r="5.5"/><circle cx="1946.25" cy="82.04" r="5.5"/><circle cx="1947.17" cy="69.99" r="5.5"/><circle cx="1948.09" cy="69.9" r="5.5"/><circle cx="1949.02" cy="81.56" r="5.5"/><circle cx="1949.94" cy="83.47" r="5.5"/><circle cx="1950.86" cy="88.36" r="5.5"/><circle cx="1951.79" cy="86.29" r="5.5"/><circle cx="1952.71" cy="88.37" r="5.5"/><circle cx="1953.63" cy="80.26" r="5.5"/><circle cx="1954.56" cy="80.58" r="5.5"/><circle cx="1955.48" cy="94.91" r="5.5"/><circle cx="1956.4" cy="97.72" r="5.5"/><circle cx="1957.33" cy="94.11" r="5.5"/><circle cx="1958.25" cy="101.51" r="5.5"/><circle cx="1959.18" cy="84.64" r="5.5"/><circle cx="1960.1" cy="102.5" r="5.5"/><circle cx="1961.02" cy="98.01" r="5.5"/><circle cx="1961.95" cy="93.08" r="5.5"/><circle cx="1962.87" cy="93.22" r="5.5"/><circle cx="1963.79" cy="110.44" r="5.5"/><circle cx="1964.72" cy="101.17" r="5.5"/><circle cx="1965.64" cy="94.33" r="5.5"/><circle cx="1966.56" cy="88.31" r="5.5"/><circle cx="1967.49" cy="75.05" r="5.5"/><circle cx="1968.41" cy="85.2" r="5.5"/><circle cx="1969.33" cy="73.24" r="5.5"/><circle cx="1970.26" cy="81.84" r="5.5"/><circle cx="1971.18" cy="74.08" r="5.5"/><circle cx="1972.1" cy="77.88" r="5.5"/><circle cx="1973.03" cy="82.4" r="5.5"/><circle cx="1973.95" cy="91.61" r="5.5"/><circle cx="1974.88" cy="77.44" r="5.5"/></g>
<path d="M1511.28 82.28 L1511.51 82.29 L1511.74 82.29 L1511.97 82.29 L1512.2 82.29 L1512.43 82.29 L1512.66 82.29 L1512.89 82.29 L1513.12 82.29 L1513.36 82.3 L1513.59 82.3 L1513.82 82.3 L1514.05 82.3 L1514.28 82.3 L1514.51 82.3 L1514.74 82.3 L1514.97 82.31 L1515.2 82.31 L1515.43 82.31 L1515.66 82.31 L1515.9 82.31 L1516.13 82.31 L1516.36 82.31 L1516.59 82.32 L1516.82 82.32 L1517.05 82.32 L1517.28 82.32 L1517.51 82.32 L1517.74 82.32 L1517.97 82.33 L1518.2 82.33 L1518.44 82.33 L1518.67 82.33 L1518.9 82.33 L1519.13 82.33 L1519.36 82.33 L1519.59 82.34 L1519.82 82.34 L1520.05 82.34 L1520.28 82.34 L1520.51 82.34 L1520.74 82.34 L1520.97 82.34 L1521.21 82.35 L1521.44 82.35 L1521.67 82.35 L1521.9 82.35 L1522.13 82.35 L1522.36 82.35 L1522.59 82.36 L1522.82 82.36 L1523.05 82.36 L1523.28 82.36 L1523.51 82.36 L1523.75 82.36 L1523.98 82.37 L1524.21 82.37 L1524.44 82.37 L1524.67 82.37 L1524.9 82.37 L1525.13 82.37 L1525.36 82.38 L1525.59 82.38 L1525.82 82.38 L1526.05 82.38 L1526.28 82.38 L1526.52 82.38 L1526.75 82.39 L1526.98 82.39 L1527.21 82.39 L1527.44 82.39 L1527.67 82.39 L1527.9 82.39 L1528.13 82.4 L1528.36 82.4 L1528.59 82.4 L1528.82 82.4 L1529.06 82.4 L1529.29 82.4 L1529.52 82.41 L1529.75 82.41 L1529.98 82.41 L1530.21 82.41 L1530.44 82.41 L1530.67 82.41 L1530.9 82.42 L1531.13 82.42 L1531.36 82.42 L1531.6 82.42 L1531.83 82.42 L1532.06 82.43 L1532.29 82.43 L1532.52 82.43 L1532.75 82.43 L1532.98 82.43 L1533.21 82.43 L1533.44 82.44 L1533.67 82.44 L1533.9 82.44 L1534.13 82.44 L1534.37 82.44 L1534.6 82.45 L1534.83 82.45 L1535.06 82.45 L1535.29 82.45 L1535.52 82.45 L1535.75 82.45 L1535.98 82.46 L1536.21 82.46 L1536.44 82.46 L1536.67 82.46 L1536.91 82.46 L1537.14 82.47 L1537.37 82.47 L1537.6 82.47 L1537.83 82.47 L1538.06 82.47 L1538.29 82.48 L1538.52 82.48 L1538.75 82.48 L1538.98 82.48 L1539.21 82.48 L1539.44 82.49 L1539.68 82.49 L1539.91 82.49 L1540.14 82.49 L1540.37 82.49 L1540.6 82.5 L1540.83 82.5 L1541.06 82.5 L1541.29 82.5 L1541.52 82.5 L1541.75 82.51 L1541.98 82.51 L1542.22 82.51 L1542.45 82.51 L1542.68 82.52 L1542.91 82.52 L1543.14 82.52 L1543.37 82.52 L1543.6 82.52 L1543.83 82.53 L1544.06 82.53 L1544.29 82.53 L1544.52 82.53 L1544.75 82.53 L1544.99 82.54 L1545.22 82.54 L1545.45 82.54 L1545.68 82.54 L1545.91 82.55 L1546.14 82.55 L1546.37 82.55 L1546.6 82.55 L1546.83 82.55 L1547.06 82.56 L1547.29 82.56 L1547.53 82.56 L1547.76 82.56 L1547.99 82.57 L1548.22 82.57 L1548.45 82.57 L1548.68 82.57 L1548.91 82.58 L1549.14 82.58 L1549.37 82.58 L1549.6 82.58 L1549.83 82.58 L1550.07 82.59 L1550.3 82.59 L1550.53 82.59 L1550.76 82.59 L1550.99 82.6 L1551.22 82.6 L1551.45 82.6 L1551.68 82.6 L1551.91 82.61 L1552.14 82.61 L1552.37 82.61 L1552.6 82.61 L1552.84 82.62 L1553.07 82.62 L1553.3 82.62 L1553.53 82.62 L1553.76 82.63 L1553.99 82.63 L1554.22 82.63 L1554.45 82.63 L1554.68 82.64 L1554.91 82.64 L1555.14 82.64 L1555.38 82.64 L1555.61 82.65 L1555.84 82.65 L1556.07 82.65 L1556.3 82.65 L1556.53 82.66 L1556.76 82.66 L1556.99 82.66 L1557.22 82.67 L1557.45 82.67 L1557.68 82.67 L1557.91 82.67 L1558.15 82.68 L1558.38 82.68 L1558.61 82.68 L1558.84 82.68 L1559.07 82.69 L1559.3 82.69 L1559.53 82.69 L1559.76 82.7 L1559.99 82.7 L1560.22 82.7 L1560.45 82.7 L1560.69 82.71 L1560.92 82.71 L1561.15 82.71 L1561.38 82.71 L1561.61 82.72 L1561.84 82.72 L1562.07 82.72 L1562.3 82.73 L1562.53 82.73 L1562.76 82.73 L1562.99 82.74 L1563.22 82.74 L1563.46 82.74 L1563.69 82.74 L1563.92 82.75 L1564.15 82.75 L1564.38 82.75 L1564.61 82.76 L1564.84 82.76 L1565.07 82.76 L1565.3 82.77 L1565.53 82.77 L1565.76 82.77 L1566 82.77 L1566.23 82.78 L1566.46 82.78 L1566.69 82.78 L1566.92 82.79 L1567.15 82.79 L1567.38 82.79 L1567.61 82.8 L1567.84 82.8 L1568.07 82.8 L1568.3 82.81 L1568.54 82.81 L1568.77 82.81 L1569 82.82 L1569.23 82.82 L1569.46 82.82 L1569.69 82.83 L1569.92 82.83 L1570.15 82.83 L1570.38 82.84 L1570.61 82.84 L1570.84 82.84 L1571.07 82.85 L1571.31 82.85 L1571.54 82.85 L1571.77 82.86 L1572 82.86 L1572.23 82.86 L1572.46 82.87 L1572.69 82.87 L1572.92 82.87 L1573.15 82.88 L1573.38 82.88 L1573.61 82.88 L1573.85 82.89 L1574.08 82.89 L1574.31 82.89 L1574.54 82.9 L1574.77 82.9 L1575 82.91 L1575.23 82.91 L1575.46 82.91 L1575.69 82.92 L1575.92 82.92 L1576.15 82.92 L1576.38 82.93 L1576.62 82.93 L1576.85 82.94 L1577.08 82.94 L1577.31 82.94 L1577.54 82.95 L1577.77 82.95 L1578 82.95 L1578.23 82.96 L1578.46 82.96 L1578.69 82.97 L1578.92 82.97 L1579.16 82.97 L1579.39 82.98 L1579.62 82.98 L1579.85 82.99 L1580.08 82.99 L1580.31 82.99 L1580.54 83 L1580.77 83 L1581 83.01 L1581.23 83.01 L1581.46 83.01 L1581.69 83.02 L1581.93 83.02 L1582.16 83.03 L1582.39 83.03 L1582.62 83.03 L1582.85 83.04 L1583.08 83.04 L1583.31 83.05 L1583.54 83.05 L1583.77 83.06 L1584 83.06 L1584.23 83.06 L1584.47 83.07 L1584.7 83.07 L1584.93 83.08 L1585.16 83.08 L1585.39 83.09 L1585.62 83.09 L1585.85 83.1 L1586.08 83.1 L1586.31 83.1 L1586.54 83.11 L1586.77 83.11 L1587.01 83.12 L1587.24 83.12 L1587.47 83.13 L1587.7 83.13 L1587.93 83.14 L1588.16 83.14 L1588.39 83.15 L1588.62 83.15 L1588.85 83.15 L1589.08 83.16 L1589.31 83.16 L1589.54 83.17 L1589.78 83.17 L1590.01 83.18 L1590.24 83.18 L1590.47 83.19 L1590.7 83.19 L1590.93 83.2 L1591.16 83.2 L1591.39 83.21 L1591.62 83.21 L1591.85 83.22 L1592.08 83.22 L1592.32 83.23 L1592.55 83.23 L1592.78 83.24 L1593.01 83.24 L1593.24 83.25 L1593.47 83.25 L1593.7 83.26 L1593.93 83.26 L1594.16 83.27 L1594.39 83.28 L1594.62 83.28 L1594.85 83.29 L1595.09 83.29 L1595.32 83.3 L1595.55 83.3 L1595.78 83.31 L1596.01 83.31 L1596.24 83.32 L1596.47 83.32 L1596.7 83.33 L1596.93 83.34 L1597.16 83.34 L1597.39 83.35 L1597.63 83.35 L1597.86 83.36 L1598.09 83.36 L1598.32 83.37 L1598.55 83.38 L1598.78 83.38 L1599.01 83.39 L1599.24 83.39 L1599.47 83.4 L1599.7 83.4 L1599.93 83.41 L1600.16 83.42 L1600.4 83.42 L1600.63 83.43 L1600.86 83.43 L1601.09 83.44 L1601.32 83.45 L1601.55 83.45 L1601.78 83.46 L1602.01 83.47 L1602.24 83.47 L1602.47 83.48 L1602.7 83.48 L1602.94 83.49 L1603.17 83.5 L1603.4 83.5 L1603.63 83.51 L1603.86 83.52 L1604.09 83.52 L1604.32 83.53 L1604.55 83.54 L1604.78 83.54 L1605.01 83.55 L1605.24 83.56 L1605.47 83.56 L1605.71 83.57 L1605.94 83.58 L1606.17 83.58 L1606.4 83.59 L1606.63 83.6 L1606.86 83.6 L1607.09 83.61 L1607.32 83.62 L1607.55 83.63 L1607.78 83.63 L1608.01 83.64 L1608.25 83.65 L1608.48 83.65 L1608.71 83.66 L1608.94 83.67 L1609.17 83.68 L1609.4 83.68 L1609.63 83.69 L1609.86 83.7 L1610.09 83.71 L1610.32 83.71 L1610.55 83.72 L1610.79 83.73 L1611.02 83.74 L1611.25 83.74 L1611.48 83.75 L1611.71 83.76 L1611.94 83.77 L1612.17 83.77 L1612.4 83.78 L1612.63 83.79 L1612.86 83.8 L1613.09 83.81 L1613.32 83.81 L1613.56 83.82 L1613.79 83.83 L1614.02 83.84 L1614.25 83.85 L1614.48 83.86 L1614.71 83.86 L1614.94 83.87 L1615.17 83.88 L1615.4 83.89 L1615.63 83.9 L1615.86 83.91 L1616.1 83.91 L1616.33 83.92 L1616.56 83.93 L1616.79 83.94 L1617.02 83.95 L1617.25 83.96 L1617.48 83.97 L1617.71 83.98 L1617.94 83.99 L1618.17 83.99 L1618.4 84 L1618.63 84.01 L1618.87 84.02 L1619.1 84.03 L1619.33 84.04 L1619.56 84.05 L1619.79 84.06 L1620.02 84.07 L1620.25 84.08 L1620.48 84.09 L1620.71 84.1 L1620.94 84.11 L1621.17 84.12 L1621.41 84.13 L1621.64 84.14 L1621.87 84.15 L1622.1 84.16 L1622.33 84.17 L1622.56 84.18 L1622.79 84.19 L1623.02 84.2 L1623.25 84.21 L1623.48 84.22 L1623.71 84.23 L1623.94 84.24 L1624.18 84.25 L1624.41 84.26 L1624.64 84.27 L1624.87 84.28 L1625.1 84.29 L1625.33 84.3 L1625.56 84.31 L1625.79 84.33 L1626.02 84.34 L1626.25 84.35 L1626.48 84.36 L1626.72 84.37 L1626.95 84.38 L1627.18 84.39 L1627.41 84.4 L1627.64 84.42 L1627.87 84.43 L1628.1 84.44 L1628.33 84.45 L1628.56 84.46 L1628.79 84.48 L1629.02 84.49 L1629.26 84.5 L1629.49 84.51 L1629.72 84.52 L1629.95 84.54 L1630.18 84.55 L1630.41 84.56 L1630.64 84.57 L1630.87 84.59 L1631.1 84.6 L1631.33 84.61 L1631.56 84.62 L1631.79 84.64 L1632.03 84.65 L1632.26 84.66 L1632.49 84.68 L1632.72 84.69 L1632.95 84.7 L1633.18 84.72 L1633.41 84.73 L1633.64 84.74 L1633.87 84.76 L1634.1 84.77 L1634.33 84.79 L1634.57 84.8 L1634.8 84.81 L1635.03 84.83 L1635.26 84.84 L1635.49 84.86 L1635.72 84.87 L1635.95 84.89 L1636.18 84.9 L1636.41 84.92 L1636.64 84.93 L1636.87 84.95 L1637.1 84.96 L1637.34 84.98 L1637.57 84.99 L1637.8 85.01 L1638.03 85.02 L1638.26 85.04 L1638.49 85.05 L1638.72 85.07 L1638.95 85.09 L1639.18 85.1 L1639.41 85.12 L1639.64 85.13 L1639.88 85.15 L1640.11 85.17 L1640.34 85.18 L1640.57 85.2 L1640.8 85.22 L1641.03 85.23 L1641.26 85.25 L1641.49 85.27 L1641.72 85.29 L1641.95 85.3 L1642.18 85.32 L1642.41 85.34 L1642.65 85.36 L1642.88 85.37 L1643.11 85.39 L1643.34 85.41 L1643.57 85.43 L1643.8 85.45 L1644.03 85.47 L1644.26 85.49 L1644.49 85.5 L1644.72 85.52 L1644.95 85.54 L1645.19 85.56 L1645.42 85.58 L1645.65 85.6 L1645.88 85.62 L1646.11 85.64 L1646.34 85.66 L1646.57 85.68 L1646.8 85.7 L1647.03 85.72 L1647.26 85.74 L1647.49 85.76 L1647.73 85.78 L1647.96 85.8 L1648.19 85.83 L1648.42 85.85 L1648.65 85.87 L1648.88 85.89 L1649.11 85.91 L1649.34 85.94 L1649.57 85.96 L1649.8 85.98 L1650.03 86 L1650.26 86.03 L1650.5 86.05 L1650.73 86.07 L1650.96 86.09 L1651.19 86.12 L1651.42 86.14 L1651.65 86.17 L1651.88 86.19 L1652.11 86.21 L1652.34 86.24 L1652.57 86.26 L1652.8 86.29 L1653.04 86.31 L1653.27 86.34 L1653.5 86.36 L1653.73 86.39 L1653.96 86.42 L1654.19 86.44 L1654.42 86.47 L1654.65 86.49 L1654.88 86.52 L1655.11 86.55 L1655.34 86.58 L1655.57 86.6 L1655.81 86.63 L1656.04 86.66 L1656.27 86.69 L1656.5 86.71 L1656.73 86.74 L1656.96 86.77 L1657.19 86.8 L1657.42 86.83 L1657.65 86.86 L1657.88 86.89 L1658.11 86.92 L1658.35 86.95 L1658.58 86.98 L1658.81 87.01 L1659.04 87.04 L1659.27 87.07 L1659.5 87.1 L1659.73 87.14 L1659.96 87.17 L1660.19 87.2 L1660.42 87.23 L1660.65 87.27 L1660.88 87.3 L1661.12 87.33 L1661.35 87.37 L1661.58 87.4 L1661.81 87.44 L1662.04 87.47 L1662.27 87.51 L1662.5 87.54 L1662.73 87.58 L1662.96 87.61 L1663.19 87.65 L1663.42 87.69 L1663.66 87.72 L1663.89 87.76 L1664.12 87.8 L1664.35 87.84 L1664.58 87.87 L1664.81 87.91 L1665.04 87.95 L1665.27 87.99 L1665.5 88.03 L1665.73 88.07 L1665.96 88.11 L1666.2 88.15 L1666.43 88.19 L1666.66 88.24 L1666.89 88.28 L1667.12 88.32 L1667.35 88.36 L1667.58 88.41 L1667.81 88.45 L1668.04 88.49 L1668.27 88.54 L1668.5 88.58 L1668.73 88.63 L1668.97 88.68 L1669.2 88.72 L1669.43 88.77 L1669.66 88.82 L1669.89 88.86 L1670.12 88.91 L1670.35 88.96 L1670.58 89.01 L1670.81 89.06 L1671.04 89.11 L1671.27 89.16 L1671.51 89.21 L1671.74 89.26 L1671.97 89.32 L1672.2 89.37 L1672.43 89.42 L1672.66 89.47 L1672.89 89.53 L1673.12 89.58 L1673.35 89.64 L1673.58 89.7 L1673.81 89.75 L1674.04 89.81 L1674.28 89.87 L1674.51 89.93 L1674.74 89.98 L1674.97 90.04 L1675.2 90.1 L1675.43 90.17 L1675.66 90.23 L1675.89 90.29 L1676.12 90.35 L1676.35 90.42 L1676.58 90.48 L1676.82 90.55 L1677.05 90.61 L1677.28 90.68 L1677.51 90.74 L1677.74 90.81 L1677.97 90.88 L1678.2 90.95 L1678.43 91.02 L1678.66 91.09 L1678.89 91.16 L1679.12 91.24 L1679.36 91.31 L1679.59 91.38 L1679.82 91.46 L1680.05 91.53 L1680.28 91.61 L1680.51 91.69 L1680.74 91.77 L1680.97 91.85 L1681.2 91.93 L1681.43 92.01 L1681.66 92.09 L1681.89 92.17 L1682.13 92.26 L1682.36 92.34 L1682.59 92.43 L1682.82 92.52 L1683.05 92.6 L1683.28 92.69 L1683.51 92.78 L1683.74 92.88 L1683.97 92.97 L1684.2 93.06 L1684.43 93.16 L1684.67 93.25 L1684.9 93.35 L1685.13 93.45 L1685.36 93.55 L1685.59 93.65 L1685.82 93.75 L1686.05 93.86 L1686.28 93.96 L1686.51 94.07 L1686.74 94.17 L1686.97 94.28 L1687.2 94.39 L1687.44 94.5 L1687.67 94.62 L1687.9 94.73 L1688.13 94.85 L1688.36 94.97 L1688.59 95.08 L1688.82 95.2 L1689.05 95.33 L1689.28 95.45 L1689.51 95.58 L1689.74 95.7 L1689.98 95.83 L1690.21 95.96 L1690.44 96.1 L1690.67 96.23 L1690.9 96.37 L1691.13 96.5 L1691.36 96.64 L1691.59 96.79 L1691.82 96.93 L1692.05 97.07 L1692.28 97.22 L1692.51 97.37 L1692.75 97.52 L1692.98 97.68 L1693.21 97.84 L1693.44 97.99 L1693.67 98.15 L1693.9 98.32 L1694.13 98.48 L1694.36 98.65 L1694.59 98.82 L1694.82 98.99 L1695.05 99.17 L1695.29 99.35 L1695.52 99.53 L1695.75 99.71 L1695.98 99.9 L1696.21 100.09 L1696.44 100.28 L1696.67 100.47 L1696.9 100.67 L1697.13 100.87 L1697.36 101.08 L1697.59 101.28 L1697.83 101.49 L1698.06 101.71 L1698.29 101.92 L1698.52 102.14 L1698.75 102.37 L1698.98 102.6 L1699.21 102.83 L1699.44 103.06 L1699.67 103.3 L1699.9 103.54 L1700.13 103.79 L1700.36 104.04 L1700.6 104.29 L1700.83 104.55 L1701.06 104.82 L1701.29 105.08 L1701.52 105.36 L1701.75 105.63 L1701.98 105.91 L1702.21 106.2 L1702.44 106.49 L1702.67 106.79 L1702.9 107.09 L1703.14 107.39 L1703.37 107.7 L1703.6 108.02 L1703.83 108.34 L1704.06 108.67 L1704.29 109.01 L1704.52 109.35 L1704.75 109.69 L1704.98 110.05 L1705.21 110.4 L1705.44 110.77 L1705.67 111.14 L1705.91 111.52 L1706.14 111.91 L1706.37 112.3 L1706.6 112.7 L1706.83 113.11 L1707.06 113.52 L1707.29 113.95 L1707.52 114.38 L1707.75 114.82 L1707.98 115.27 L1708.21 115.73 L1708.45 116.19 L1708.68 116.67 L1708.91 117.15 L1709.14 117.65 L1709.37 118.15 L1709.6 118.66 L1709.83 119.19 L1710.06 119.72 L1710.29 120.27 L1710.52 120.82 L1710.75 121.39 L1710.98 121.97 L1711.22 122.56 L1711.45 123.17 L1711.68 123.78 L1711.91 124.41 L1712.14 125.06 L1712.37 125.71 L1712.6 126.38 L1712.83 127.07 L1713.06 127.77 L1713.29 128.48 L1713.52 129.21 L1713.76 129.95 L1713.99 130.72 L1714.22 131.5 L1714.45 132.29 L1714.68 133.1 L1714.91 133.94 L1715.14 134.79 L1715.37 135.66 L1715.6 136.54 L1715.83 137.45 L1716.06 138.38 L1716.3 139.34 L1716.53 140.31 L1716.76 141.3 L1716.99 142.32 L1717.22 143.36 L1717.45 144.43 L1717.68 145.52 L1717.91 146.64 L1718.14 147.78 L1718.37 148.96 L1718.6 150.15 L1718.83 151.38 L1719.07 152.64 L1719.3 153.93 L1719.53 155.24 L1719.76 156.59 L1719.99 157.98 L1720.22 159.39 L1720.45 160.84 L1720.68 162.33 L1720.91 163.85 L1721.14 165.42 L1721.37 167.01 L1721.61 168.65 L1721.84 170.33 L1722.07 172.05 L1722.3 173.82 L1722.53 175.62 L1722.76 177.47 L1722.99 179.37 L1723.22 181.32 L1723.45 183.31 L1723.68 185.35 L1723.91 187.44 L1724.14 189.59 L1724.38 191.79 L1724.61 194.04 L1724.84 196.35 L1725.07 198.71 L1725.3 201.13 L1725.53 203.61 L1725.76 206.15 L1725.99 208.76 L1726.22 211.42 L1726.45 214.15 L1726.68 216.94 L1726.92 219.8 L1727.15 222.72 L1727.38 225.71 L1727.61 228.77 L1727.84 231.9 L1728.07 235.1 L1728.3 238.37 L1728.53 241.71 L1728.76 245.12 L1728.99 248.6 L1729.22 252.15 L1729.45 255.78 L1729.69 259.47 L1729.92 263.23 L1730.15 267.06 L1730.38 270.96 L1730.61 274.93 L1730.84 278.96 L1731.07 283.05 L1731.3 287.21 L1731.53 291.42 L1731.76 295.68 L1731.99 299.99 L1732.23 304.35 L1732.46 308.74 L1732.69 313.17 L1732.92 317.62 L1733.15 322.09 L1733.38 326.56 L1733.61 331.03 L1733.84 335.48 L1734.07 339.9 L1734.3 344.27 L1734.53 348.57 L1734.77 352.78 L1735 356.88 L1735.23 360.83 L1735.46 364.6 L1735.69 368.15 L1735.92 371.46 L1736.15 374.46 L1736.38 377.11 L1736.61 379.37 L1736.84 381.18 L1737.07 382.51 L1737.3 383.32 L1737.54 383.6 L1737.77 383.32 L1738 382.51 L1738.23 381.18 L1738.46 379.37 L1738.69 377.11 L1738.92 374.46 L1739.15 371.46 L1739.38 368.15 L1739.61 364.6 L1739.84 360.83 L1740.08 356.88 L1740.31 352.78 L1740.54 348.57 L1740.77 344.27 L1741 339.9 L1741.23 335.48 L1741.46 331.03 L1741.69 326.56 L1741.92 322.09 L1742.15 317.62 L1742.38 313.17 L1742.61 308.74 L1742.85 304.35 L1743.08 299.99 L1743.31 295.68 L1743.54 291.42 L1743.77 287.21 L1744 283.05 L1744.23 278.96 L1744.46 274.93 L1744.69 270.96 L1744.92 267.06 L1745.15 263.23 L1745.39 259.47 L1745.62 255.78 L1745.85 252.15 L1746.08 248.6 L1746.31 245.12 L1746.54 241.71 L1746.77 238.37 L1747 235.1 L1747.23 231.9 L1747.46 228.77 L1747.69 225.71 L1747.92 222.72 L1748.16 219.8 L1748.39 216.94 L1748.62 214.15 L1748.85 211.42 L1749.08 208.76 L1749.31 206.15 L1749.54 203.61 L1749.77 201.13 L1750 198.71 L1750.23 196.35 L1750.46 194.04 L1750.7 191.79 L1750.93 189.59 L1751.16 187.44 L1751.39 185.35 L1751.62 183.31 L1751.85 181.32 L1752.08 179.37 L1752.31 177.47 L1752.54 175.62 L1752.77 173.82 L1753 172.05 L1753.23 170.33 L1753.47 168.65 L1753.7 167.01 L1753.93 165.42 L1754.16 163.85 L1754.39 162.33 L1754.62 160.84 L1754.85 159.39 L1755.08 157.98 L1755.31 156.59 L1755.54 155.24 L1755.77 153.93 L1756.01 152.64 L1756.24 151.38 L1756.47 150.15 L1756.7 148.96 L1756.93 147.78 L1757.16 146.64 L1757.39 145.52 L1757.62 144.43 L1757.85 143.36 L1758.08 142.32 L1758.31 141.3 L1758.55 140.31 L1758.78 139.34 L1759.01 138.38 L1759.24 137.45 L1759.47 136.54 L1759.7 135.66 L1759.93 134.79 L1760.16 133.94 L1760.39 133.1 L1760.62 132.29 L1760.85 131.5 L1761.08 130.72 L1761.32 129.95 L1761.55 129.21 L1761.78 128.48 L1762.01 127.77 L1762.24 127.07 L1762.47 126.38 L1762.7 125.71 L1762.93 125.06 L1763.16 124.41 L1763.39 123.78 L1763.62 123.17 L1763.86 122.56 L1764.09 121.97 L1764.32 121.39 L1764.55 120.82 L1764.78 120.27 L1765.01 119.72 L1765.24 119.19 L1765.47 118.66 L1765.7 118.15 L1765.93 117.65 L1766.16 117.15 L1766.39 116.67 L1766.63 116.19 L1766.86 115.73 L1767.09 115.27 L1767.32 114.82 L1767.55 114.38 L1767.78 113.95 L1768.01 113.52 L1768.24 113.11 L1768.47 112.7 L1768.7 112.3 L1768.93 111.91 L1769.17 111.52 L1769.4 111.14 L1769.63 110.77 L1769.86 110.4 L1770.09 110.05 L1770.32 109.69 L1770.55 109.35 L1770.78 109.01 L1771.01 108.67 L1771.24 108.34 L1771.47 108.02 L1771.7 107.7 L1771.94 107.39 L1772.17 107.09 L1772.4 106.79 L1772.63 106.49 L1772.86 106.2 L1773.09 105.91 L1773.32 105.63 L1773.55 105.36 L1773.78 105.08 L1774.01 104.82 L1774.24 104.55 L1774.48 104.29 L1774.71 104.04 L1774.94 103.79 L1775.17 103.54 L1775.4 103.3 L1775.63 103.06 L1775.86 102.83 L1776.09 102.6 L1776.32 102.37 L1776.55 102.14 L1776.78 101.92 L1777.02 101.71 L1777.25 101.49 L1777.48 101.28 L1777.71 101.08 L1777.94 100.87 L1778.17 100.67 L1778.4 100.47 L1778.63 100.28 L1778.86 100.09 L1779.09 99.9 L1779.32 99.71 L1779.55 99.53 L1779.79 99.35 L1780.02 99.17 L1780.25 98.99 L1780.48 98.82 L1780.71 98.65 L1780.94 98.48 L1781.17 98.32 L1781.4 98.15 L1781.63 97.99 L1781.86 97.84 L1782.09 97.68 L1782.33 97.52 L1782.56 97.37 L1782.79 97.22 L1783.02 97.07 L1783.25 96.93 L1783.48 96.79 L1783.71 96.64 L1783.94 96.5 L1784.17 96.37 L1784.4 96.23 L1784.63 96.1 L1784.86 95.96 L1785.1 95.83 L1785.33 95.7 L1785.56 95.58 L1785.79 95.45 L1786.02 95.33 L1786.25 95.2 L1786.48 95.08 L1786.71 94.97 L1786.94 94.85 L1787.17 94.73 L1787.4 94.62 L1787.64 94.5 L1787.87 94.39 L1788.1 94.28 L1788.33 94.17 L1788.56 94.07 L1788.79 93.96 L1789.02 93.86 L1789.25 93.75 L1789.48 93.65 L1789.71 93.55 L1789.94 93.45 L1790.17 93.35 L1790.41 93.25 L1790.64 93.16 L1790.87 93.06 L1791.1 92.97 L1791.33 92.88 L1791.56 92.78 L1791.79 92.69 L1792.02 92.6 L1792.25 92.52 L1792.48 92.43 L1792.71 92.34 L1792.95 92.26 L1793.18 92.17 L1793.41 92.09 L1793.64 92.01 L1793.87 91.93 L1794.1 91.85 L1794.33 91.77 L1794.56 91.69 L1794.79 91.61 L1795.02 91.53 L1795.25 91.46 L1795.49 91.38 L1795.72 91.31 L1795.95 91.24 L1796.18 91.16 L1796.41 91.09 L1796.64 91.02 L1796.87 90.95 L1797.1 90.88 L1797.33 90.81 L1797.56 90.74 L1797.79 90.68 L1798.02 90.61 L1798.26 90.55 L1798.49 90.48 L1798.72 90.42 L1798.95 90.35 L1799.18 90.29 L1799.41 90.23 L1799.64 90.17 L1799.87 90.1 L1800.1 90.04 L1800.33 89.98 L1800.56 89.93 L1800.8 89.87 L1801.03 89.81 L1801.26 89.75 L1801.49 89.7 L1801.72 89.64 L1801.95 89.58 L1802.18 89.53 L1802.41 89.47 L1802.64 89.42 L1802.87 89.37 L1803.1 89.32 L1803.33 89.26 L1803.57 89.21 L1803.8 89.16 L1804.03 89.11 L1804.26 89.06 L1804.49 89.01 L1804.72 88.96 L1804.95 88.91 L1805.18 88.86 L1805.41 88.82 L1805.64 88.77 L1805.87 88.72 L1806.11 88.68 L1806.34 88.63 L1806.57 88.58 L1806.8 88.54 L1807.03 88.49 L1807.26 88.45 L1807.49 88.41 L1807.72 88.36 L1807.95 88.32 L1808.18 88.28 L1808.41 88.24 L1808.64 88.19 L1808.88 88.15 L1809.11 88.11 L1809.34 88.07 L1809.57 88.03 L1809.8 87.99 L1810.03 87.95 L1810.26 87.91 L1810.49 87.87 L1810.72 87.84 L1810.95 87.8 L1811.18 87.76 L1811.42 87.72 L1811.65 87.69 L1811.88 87.65 L1812.11 87.61 L1812.34 87.58 L1812.57 87.54 L1812.8 87.51 L1813.03 87.47 L1813.26 87.44 L1813.49 87.4 L1813.72 87.37 L1813.96 87.33 L1814.19 87.3 L1814.42 87.27 L1814.65 87.23 L1814.88 87.2 L1815.11 87.17 L1815.34 87.14 L1815.57 87.1 L1815.8 87.07 L1816.03 87.04 L1816.26 87.01 L1816.49 86.98 L1816.73 86.95 L1816.96 86.92 L1817.19 86.89 L1817.42 86.86 L1817.65 86.83 L1817.88 86.8 L1818.11 86.77 L1818.34 86.74 L1818.57 86.71 L1818.8 86.69 L1819.03 86.66 L1819.27 86.63 L1819.5 86.6 L1819.73 86.58 L1819.96 86.55 L1820.19 86.52 L1820.42 86.49 L1820.65 86.47 L1820.88 86.44 L1821.11 86.42 L1821.34 86.39 L1821.57 86.36 L1821.8 86.34 L1822.04 86.31 L1822.27 86.29 L1822.5 86.26 L1822.73 86.24 L1822.96 86.21 L1823.19 86.19 L1823.42 86.17 L1823.65 86.14 L1823.88 86.12 L1824.11 86.09 L1824.34 86.07 L1824.58 86.05 L1824.81 86.03 L1825.04 86 L1825.27 85.98 L1825.5 85.96 L1825.73 85.94 L1825.96 85.91 L1826.19 85.89 L1826.42 85.87 L1826.65 85.85 L1826.88 85.83 L1827.12 85.8 L1827.35 85.78 L1827.58 85.76 L1827.81 85.74 L1828.04 85.72 L1828.27 85.7 L1828.5 85.68 L1828.73 85.66 L1828.96 85.64 L1829.19 85.62 L1829.42 85.6 L1829.65 85.58 L1829.89 85.56 L1830.12 85.54 L1830.35 85.52 L1830.58 85.5 L1830.81 85.49 L1831.04 85.47 L1831.27 85.45 L1831.5 85.43 L1831.73 85.41 L1831.96 85.39 L1832.19 85.37 L1832.43 85.36 L1832.66 85.34 L1832.89 85.32 L1833.12 85.3 L1833.35 85.29 L1833.58 85.27 L1833.81 85.25 L1834.04 85.23 L1834.27 85.22 L1834.5 85.2 L1834.73 85.18 L1834.96 85.17 L1835.2 85.15 L1835.43 85.13 L1835.66 85.12 L1835.89 85.1 L1836.12 85.09 L1836.35 85.07 L1836.58 85.05 L1836.81 85.04 L1837.04 85.02 L1837.27 85.01 L1837.5 84.99 L1837.74 84.98 L1837.97 84.96 L1838.2 84.95 L1838.43 84.93 L1838.66 84.92 L1838.89 84.9 L1839.12 84.89 L1839.35 84.87 L1839.58 84.86 L1839.81 84.84 L1840.04 84.83 L1840.27 84.81 L1840.51 84.8 L1840.74 84.79 L1840.97 84.77 L1841.2 84.76 L1841.43 84.74 L1841.66 84.73 L1841.89 84.72 L1842.12 84.7 L1842.35 84.69 L1842.58 84.68 L1842.81 84.66 L1843.05 84.65 L1843.28 84.64 L1843.51 84.62 L1843.74 84.61 L1843.97 84.6 L1844.2 84.59 L1844.43 84.57 L1844.66 84.56 L1844.89 84.55 L1845.12 84.54 L1845.35 84.52 L1845.59 84.51 L1845.82 84.5 L1846.05 84.49 L1846.28 84.48 L1846.51 84.46 L1846.74 84.45 L1846.97 84.44 L1847.2 84.43 L1847.43 84.42 L1847.66 84.4 L1847.89 84.39 L1848.12 84.38 L1848.36 84.37 L1848.59 84.36 L1848.82 84.35 L1849.05 84.34 L1849.28 84.33 L1849.51 84.31 L1849.74 84.3 L1849.97 84.29 L1850.2 84.28 L1850.43 84.27 L1850.66 84.26 L1850.9 84.25 L1851.13 84.24 L1851.36 84.23 L1851.59 84.22 L1851.82 84.21 L1852.05 84.2 L1852.28 84.19 L1852.51 84.18 L1852.74 84.17 L1852.97 84.16 L1853.2 84.15 L1853.43 84.14 L1853.67 84.13 L1853.9 84.12 L1854.13 84.11 L1854.36 84.1 L1854.59 84.09 L1854.82 84.08 L1855.05 84.07 L1855.28 84.06 L1855.51 84.05 L1855.74 84.04 L1855.97 84.03 L1856.21 84.02 L1856.44 84.01 L1856.67 84 L1856.9 83.99 L1857.13 83.99 L1857.36 83.98 L1857.59 83.97 L1857.82 83.96 L1858.05 83.95 L1858.28 83.94 L1858.51 83.93 L1858.74 83.92 L1858.98 83.91 L1859.21 83.91 L1859.44 83.9 L1859.67 83.89 L1859.9 83.88 L1860.13 83.87 L1860.36 83.86 L1860.59 83.86 L1860.82 83.85 L1861.05 83.84 L1861.28 83.83 L1861.52 83.82 L1861.75 83.81 L1861.98 83.81 L1862.21 83.8 L1862.44 83.79 L1862.67 83.78 L1862.9 83.77 L1863.13 83.77 L1863.36 83.76 L1863.59 83.75 L1863.82 83.74 L1864.06 83.74 L1864.29 83.73 L1864.52 83.72 L1864.75 83.71 L1864.98 83.71 L1865.21 83.7 L1865.44 83.69 L1865.67 83.68 L1865.9 83.68 L1866.13 83.67 L1866.36 83.66 L1866.59 83.65 L1866.83 83.65 L1867.06 83.64 L1867.29 83.63 L1867.52 83.63 L1867.75 83.62 L1867.98 83.61 L1868.21 83.6 L1868.44 83.6 L1868.67 83.59 L1868.9 83.58 L1869.13 83.58 L1869.37 83.57 L1869.6 83.56 L1869.83 83.56 L1870.06 83.55 L1870.29 83.54 L1870.52 83.54 L1870.75 83.53 L1870.98 83.52 L1871.21 83.52 L1871.44 83.51 L1871.67 83.5 L1871.9 83.5 L1872.14 83.49 L1872.37 83.48 L1872.6 83.48 L1872.83 83.47 L1873.06 83.47 L1873.29 83.46 L1873.52 83.45 L1873.75 83.45 L1873.98 83.44 L1874.21 83.43 L1874.44 83.43 L1874.68 83.42 L1874.91 83.42 L1875.14 83.41 L1875.37 83.4 L1875.6 83.4 L1875.83 83.39 L1876.06 83.39 L1876.29 83.38 L1876.52 83.38 L1876.75 83.37 L1876.98 83.36 L1877.21 83.36 L1877.45 83.35 L1877.68 83.35 L1877.91 83.34 L1878.14 83.34 L1878.37 83.33 L1878.6 83.32 L1878.83 83.32 L1879.06 83.31 L1879.29 83.31 L1879.52 83.3 L1879.75 83.3 L1879.99 83.29 L1880.22 83.29 L1880.45 83.28 L1880.68 83.28 L1880.91 83.27 L1881.14 83.26 L1881.37 83.26 L1881.6 83.25 L1881.83 83.25 L1882.06 83.24 L1882.29 83.24 L1882.53 83.23 L1882.76 83.23 L1882.99 83.22 L1883.22 83.22 L1883.45 83.21 L1883.68 83.21 L1883.91 83.2 L1884.14 83.2 L1884.37 83.19 L1884.6 83.19 L1884.83 83.18 L1885.06 83.18 L1885.3 83.17 L1885.53 83.17 L1885.76 83.16 L1885.99 83.16 L1886.22 83.15 L1886.45 83.15 L1886.68 83.15 L1886.91 83.14 L1887.14 83.14 L1887.37 83.13 L1887.6 83.13 L1887.84 83.12 L1888.07 83.12 L1888.3 83.11 L1888.53 83.11 L1888.76 83.1 L1888.99 83.1 L1889.22 83.1 L1889.45 83.09 L1889.68 83.09 L1889.91 83.08 L1890.14 83.08 L1890.37 83.07 L1890.61 83.07 L1890.84 83.06 L1891.07 83.06 L1891.3 83.06 L1891.53 83.05 L1891.76 83.05 L1891.99 83.04 L1892.22 83.04 L1892.45 83.03 L1892.68 83.03 L1892.91 83.03 L1893.15 83.02 L1893.38 83.02 L1893.61 83.01 L1893.84 83.01 L1894.07 83.01 L1894.3 83 L1894.53 83 L1894.76 82.99 L1894.99 82.99 L1895.22 82.99 L1895.45 82.98 L1895.68 82.98 L1895.92 82.97 L1896.15 82.97 L1896.38 82.97 L1896.61 82.96 L1896.84 82.96 L1897.07 82.95 L1897.3 82.95 L1897.53 82.95 L1897.76 82.94 L1897.99 82.94 L1898.22 82.94 L1898.46 82.93 L1898.69 82.93 L1898.92 82.92 L1899.15 82.92 L1899.38 82.92 L1899.61 82.91 L1899.84 82.91 L1900.07 82.91 L1900.3 82.9 L1900.53 82.9 L1900.76 82.89 L1900.99 82.89 L1901.23 82.89 L1901.46 82.88 L1901.69 82.88 L1901.92 82.88 L1902.15 82.87 L1902.38 82.87 L1902.61 82.87 L1902.84 82.86 L1903.07 82.86 L1903.3 82.86 L1903.53 82.85 L1903.77 82.85 L1904 82.85 L1904.23 82.84 L1904.46 82.84 L1904.69 82.84 L1904.92 82.83 L1905.15 82.83 L1905.38 82.83 L1905.61 82.82 L1905.84 82.82 L1906.07 82.82 L1906.31 82.81 L1906.54 82.81 L1906.77 82.81 L1907 82.8 L1907.23 82.8 L1907.46 82.8 L1907.69 82.79 L1907.92 82.79 L1908.15 82.79 L1908.38 82.78 L1908.61 82.78 L1908.84 82.78 L1909.08 82.77 L1909.31 82.77 L1909.54 82.77 L1909.77 82.77 L1910 82.76 L1910.23 82.76 L1910.46 82.76 L1910.69 82.75 L1910.92 82.75 L1911.15 82.75 L1911.38 82.74 L1911.62 82.74 L1911.85 82.74 L1912.08 82.74 L1912.31 82.73 L1912.54 82.73 L1912.77 82.73 L1913 82.72 L1913.23 82.72 L1913.46 82.72 L1913.69 82.71 L1913.92 82.71 L1914.15 82.71 L1914.39 82.71 L1914.62 82.7 L1914.85 82.7 L1915.08 82.7 L1915.31 82.7 L1915.54 82.69 L1915.77 82.69 L1916 82.69 L1916.23 82.68 L1916.46 82.68 L1916.69 82.68 L1916.93 82.68 L1917.16 82.67 L1917.39 82.67 L1917.62 82.67 L1917.85 82.67 L1918.08 82.66 L1918.31 82.66 L1918.54 82.66 L1918.77 82.65 L1919 82.65 L1919.23 82.65 L1919.46 82.65 L1919.7 82.64 L1919.93 82.64 L1920.16 82.64 L1920.39 82.64 L1920.62 82.63 L1920.85 82.63 L1921.08 82.63 L1921.31 82.63 L1921.54 82.62 L1921.77 82.62 L1922 82.62 L1922.24 82.62 L1922.47 82.61 L1922.7 82.61 L1922.93 82.61 L1923.16 82.61 L1923.39 82.6 L1923.62 82.6 L1923.85 82.6 L1924.08 82.6 L1924.31 82.59 L1924.54 82.59 L1924.78 82.59 L1925.01 82.59 L1925.24 82.58 L1925.47 82.58 L1925.7 82.58 L1925.93 82.58 L1926.16 82.58 L1926.39 82.57 L1926.62 82.57 L1926.85 82.57 L1927.08 82.57 L1927.31 82.56 L1927.55 82.56 L1927.78 82.56 L1928.01 82.56 L1928.24 82.55 L1928.47 82.55 L1928.7 82.55 L1928.93 82.55 L1929.16 82.55 L1929.39 82.54 L1929.62 82.54 L1929.85 82.54 L1930.09 82.54 L1930.32 82.53 L1930.55 82.53 L1930.78 82.53 L1931.01 82.53 L1931.24 82.53 L1931.47 82.52 L1931.7 82.52 L1931.93 82.52 L1932.16 82.52 L1932.39 82.52 L1932.62 82.51 L1932.86 82.51 L1933.09 82.51 L1933.32 82.51 L1933.55 82.5 L1933.78 82.5 L1934.01 82.5 L1934.24 82.5 L1934.47 82.5 L1934.7 82.49 L1934.93 82.49 L1935.16 82.49 L1935.4 82.49 L1935.63 82.49 L1935.86 82.48 L1936.09 82.48 L1936.32 82.48 L1936.55 82.48 L1936.78 82.48 L1937.01 82.47 L1937.24 82.47 L1937.47 82.47 L1937.7 82.47 L1937.93 82.47 L1938.17 82.46 L1938.4 82.46 L1938.63 82.46 L1938.86 82.46 L1939.09 82.46 L1939.32 82.45 L1939.55 82.45 L1939.78 82.45 L1940.01 82.45 L1940.24 82.45 L1940.47 82.45 L1940.71 82.44 L1940.94 82.44 L1941.17 82.44 L1941.4 82.44 L1941.63 82.44 L1941.86 82.43 L1942.09 82.43 L1942.32 82.43 L1942.55 82.43 L1942.78 82.43 L1943.01 82.43 L1943.25 82.42 L1943.48 82.42 L1943.71 82.42 L1943.94 82.42 L1944.17 82.42 L1944.4 82.41 L1944.63 82.41 L1944.86 82.41 L1945.09 82.41 L1945.32 82.41 L1945.55 82.41 L1945.78 82.4 L1946.02 82.4 L1946.25 82.4 L1946.48 82.4 L1946.71 82.4 L1946.94 82.4 L1947.17 82.39 L1947.4 82.39 L1947.63 82.39 L1947.86 82.39 L1948.09 82.39 L1948.32 82.39 L1948.56 82.38 L1948.79 82.38 L1949.02 82.38 L1949.25 82.38 L1949.48 82.38 L1949.71 82.38 L1949.94 82.37 L1950.17 82.37 L1950.4 82.37 L1950.63 82.37 L1950.86 82.37 L1951.09 82.37 L1951.33 82.36 L1951.56 82.36 L1951.79 82.36 L1952.02 82.36 L1952.25 82.36 L1952.48 82.36 L1952.71 82.35 L1952.94 82.35 L1953.17 82.35 L1953.4 82.35 L1953.63 82.35 L1953.87 82.35 L1954.1 82.34 L1954.33 82.34 L1954.56 82.34 L1954.79 82.34 L1955.02 82.34 L1955.25 82.34 L1955.48 82.34 L1955.71 82.33 L1955.94 82.33 L1956.17 82.33 L1956.4 82.33 L1956.64 82.33 L1956.87 82.33 L1957.1 82.33 L1957.33 82.32 L1957.56 82.32 L1957.79 82.32 L1958.02 82.32 L1958.25 82.32 L1958.48 82.32 L1958.71 82.31 L1958.94 82.31 L1959.18 82.31 L1959.41 82.31 L1959.64 82.31 L1959.87 82.31 L1960.1 82.31 L1960.33 82.3 L1960.56 82.3 L1960.79 82.3 L1961.02 82.3 L1961.25 82.3 L1961.48 82.3 L1961.72 82.3 L1961.95 82.29 L1962.18 82.29 L1962.41 82.29 L1962.64 82.29 L1962.87 82.29 L1963.1 82.29 L1963.33 82.29 L1963.56 82.29 L1963.79 82.28 L1964.02 82.28 L1964.25 82.28 L1964.49 82.28 L1964.72 82.28 L1964.95 82.28 L1965.18 82.28 L1965.41 82.27 L1965.64 82.27 L1965.87 82.27 L1966.1 82.27 L1966.33 82.27 L1966.56 82.27 L1966.79 82.27 L1967.03 82.27 L1967.26 82.26 L1967.49 82.26 L1967.72 82.26 L1967.95 82.26 L1968.18 82.26 L1968.41 82.26 L1968.64 82.26 L1968.87 82.26 L1969.1 82.25 L1969.33 82.25 L1969.56 82.25 L1969.8 82.25 L1970.03 82.25 L1970.26 82.25 L1970.49 82.25 L1970.72 82.25 L1970.95 82.24 L1971.18 82.24 L1971.41 82.24 L1971.64 82.24 L1971.87 82.24 L1972.1 82.24 L1972.34 82.24 L1972.57 82.24 L1972.8 82.23 L1973.03 82.23 L1973.26 82.23 L1973.49 82.23 L1973.72 82.23 L1973.95 82.23 L1974.18 82.23 L1974.41 82.23 L1974.64 82.22 L1974.88 82.22 L1975.11 82.22 L1975.34 82.22 L1975.57 82.22 L1975.8 82.22 L1976.03 82.22 L1976.26 82.22 L1976.49 82.22 L1976.72 82.21 L1976.95 82.21 L1977.18 82.21 L1977.41 82.21 L1977.65 82.21" fill="none" stroke="#000" stroke-width="3.6" stroke-linejoin="round"/>
<rect x="1490" y="22.7" width="507" height="427.3" fill="none" stroke="#000" stroke-width="3.1"/>
<text x="628.27" y="606.45" font-family='"Liberation Sans", sans-serif' font-size="45.89" font-weight="bold" textLength="30.18" lengthAdjust="spacingAndGlyphs" fill="#231f20" stroke="#231f20" stroke-width="1" stroke-linejoin="round">d</text>
<line x1="742.5" y1="1033.5" x2="755.7" y2="1033.5" stroke="#000" stroke-width="3"/>
<line x1="742.5" y1="908" x2="755.7" y2="908" stroke="#000" stroke-width="3"/>
<line x1="742.5" y1="782.5" x2="755.7" y2="782.5" stroke="#000" stroke-width="3"/>
<line x1="742.5" y1="657" x2="755.7" y2="657" stroke="#000" stroke-width="3"/>
<line x1="778.6" y1="1052" x2="778.6" y2="1065.6" stroke="#000" stroke-width="3"/>
<line x1="882.4" y1="1052" x2="882.4" y2="1065.6" stroke="#000" stroke-width="3"/>
<line x1="986.2" y1="1052" x2="986.2" y2="1065.6" stroke="#000" stroke-width="3"/>
<line x1="1090" y1="1052" x2="1090" y2="1065.6" stroke="#000" stroke-width="3"/>
<line x1="1193.8" y1="1052" x2="1193.8" y2="1065.6" stroke="#000" stroke-width="3"/>
<text x="698.68" y="671.56" font-family='"Liberation Sans", sans-serif' font-size="36.2" textLength="37.85" lengthAdjust="spacingAndGlyphs" fill="#000" stroke="#000" stroke-width="0.55" stroke-linejoin="round">60</text>
<text x="698.68" y="797.16" font-family='"Liberation Sans", sans-serif' font-size="36.2" textLength="37.85" lengthAdjust="spacingAndGlyphs" fill="#000" stroke="#000" stroke-width="0.55" stroke-linejoin="round">40</text>
<text x="698.68" y="922.96" font-family='"Liberation Sans", sans-serif' font-size="36.2" textLength="37.85" lengthAdjust="spacingAndGlyphs" fill="#000" stroke="#000" stroke-width="0.55" stroke-linejoin="round">20</text>
<text x="717.6" y="1048.46" font-family='"Liberation Sans", sans-serif' font-size="36.2" textLength="18.92" lengthAdjust="spacingAndGlyphs" fill="#000" stroke="#000" stroke-width="0.55" stroke-linejoin="round">0</text>
<text x="771.94" y="1101.96" font-family='"Liberation Sans", sans-serif' font-size="36.2" textLength="18.92" lengthAdjust="spacingAndGlyphs" fill="#000" stroke="#000" stroke-width="0.55" stroke-linejoin="round">0</text>
<text x="864.79" y="1101.96" font-family='"Liberation Sans", sans-serif' font-size="36.2" textLength="37.85" lengthAdjust="spacingAndGlyphs" fill="#000" stroke="#000" stroke-width="0.55" stroke-linejoin="round">10</text>
<text x="967.38" y="1101.96" font-family='"Liberation Sans", sans-serif' font-size="36.2" textLength="37.85" lengthAdjust="spacingAndGlyphs" fill="#000" stroke="#000" stroke-width="0.55" stroke-linejoin="round">20</text>
<text x="1071.29" y="1101.96" font-family='"Liberation Sans", sans-serif' font-size="36.2" textLength="37.85" lengthAdjust="spacingAndGlyphs" fill="#000" stroke="#000" stroke-width="0.55" stroke-linejoin="round">30</text>
<text x="1174.8" y="1101.96" font-family='"Liberation Sans", sans-serif' font-size="36.2" textLength="37.85" lengthAdjust="spacingAndGlyphs" fill="#000" stroke="#000" stroke-width="0.55" stroke-linejoin="round">40</text>
<text x="802.81" y="671.9" font-family='"Liberation Sans", sans-serif' font-size="37.06" textLength="127.8" lengthAdjust="spacingAndGlyphs" fill="#231f20" stroke="#231f20" stroke-width="0.55" stroke-linejoin="round">Device 1</text>
<line x1="778.6" y1="1033.5" x2="1245.7" y2="645.3" stroke="#000" stroke-width="3.3" stroke-dasharray="13.7 6.3"/>
<line x1="965.3" y1="879.7" x2="965.3" y2="898.3" stroke="#000" stroke-width="3"/>
<line x1="954" y1="879.7" x2="976.6" y2="879.7" stroke="#000" stroke-width="3.5"/>
<line x1="954" y1="898.3" x2="976.6" y2="898.3" stroke="#000" stroke-width="3.5"/>
<circle cx="965.3" cy="889" r="12.5" fill="#000"/>
<line x1="1011.9" y1="839.8" x2="1011.9" y2="865.4" stroke="#000" stroke-width="3"/>
<line x1="1000.6" y1="839.8" x2="1023.2" y2="839.8" stroke="#000" stroke-width="3.5"/>
<line x1="1000.6" y1="865.4" x2="1023.2" y2="865.4" stroke="#000" stroke-width="3.5"/>
<circle cx="1011.9" cy="852.5" r="12.5" fill="#000"/>
<line x1="1058.6" y1="766.4" x2="1058.6" y2="800.5" stroke="#000" stroke-width="3"/>
<line x1="1047.3" y1="766.4" x2="1069.9" y2="766.4" stroke="#000" stroke-width="3.5"/>
<line x1="1047.3" y1="800.5" x2="1069.9" y2="800.5" stroke="#000" stroke-width="3.5"/>
<circle cx="1058.6" cy="783.5" r="12.5" fill="#000"/>
<rect x="755.7" y="626.2" width="512.3" height="426" fill="none" stroke="#000" stroke-width="3.1"/>
<text transform="translate(671.09 883.27) rotate(-90)" font-family='"Liberation Sans", sans-serif' font-size="35.21" textLength="20.78" lengthAdjust="spacingAndGlyphs" fill="#231f20" stroke="#231f20" stroke-width="0.54" stroke-linejoin="round">g</text>
<text transform="translate(685.47 862.46) rotate(-90)" font-family='"Liberation Sans", sans-serif' font-size="24.73" textLength="12.62" lengthAdjust="spacingAndGlyphs" fill="#231f20" stroke="#231f20" stroke-width="0.38" stroke-linejoin="round">+</text>
<text transform="translate(668.69 841.86) rotate(-90)" font-family='"Liberation Sans", sans-serif' font-size="33.38" textLength="10.55" lengthAdjust="spacingAndGlyphs" fill="#231f20" stroke="#231f20" stroke-width="0.51" stroke-linejoin="round">(</text>
<text transform="translate(671 831.21) rotate(-90)" font-family='"Liberation Sans", sans-serif' font-size="35.61" textLength="59.02" lengthAdjust="spacingAndGlyphs" fill="#231f20" stroke="#231f20" stroke-width="0.54" stroke-linejoin="round">kHz</text>
<text transform="translate(668.69 772.76) rotate(-90)" font-family='"Liberation Sans", sans-serif' font-size="33.38" textLength="8.92" lengthAdjust="spacingAndGlyphs" fill="#231f20" stroke="#231f20" stroke-width="0.51" stroke-linejoin="round">)</text>
<text x="937.55" y="1154.7" font-family='"Liberation Sans", sans-serif' font-size="36.77" textLength="19.93" lengthAdjust="spacingAndGlyphs" fill="#231f20" stroke="#231f20" stroke-width="0.55" stroke-linejoin="round">B</text>
<text x="956.87" y="1147.5" font-family='"Liberation Sans", sans-serif' font-size="29.81" textLength="11.96" lengthAdjust="spacingAndGlyphs" fill="#231f20" stroke="#231f20" stroke-width="0.46" stroke-linejoin="round">‖</text>
<text x="976.35" y="1152.44" font-family='"Liberation Sans", sans-serif' font-size="33.6" textLength="9.42" lengthAdjust="spacingAndGlyphs" fill="#231f20" stroke="#231f20" stroke-width="0.51" stroke-linejoin="round">(</text>
<text x="986.79" y="1154.7" font-family='"Liberation Sans", sans-serif' font-size="36.77" textLength="50.31" lengthAdjust="spacingAndGlyphs" fill="#231f20" stroke="#231f20" stroke-width="0.55" stroke-linejoin="round">mT</text>
<text x="1037.03" y="1152.44" font-family='"Liberation Sans", sans-serif' font-size="33.6" textLength="9.42" lengthAdjust="spacingAndGlyphs" fill="#231f20" stroke="#231f20" stroke-width="0.51" stroke-linejoin="round">)</text>
<text x="1323.44" y="591.69" font-family='"Liberation Sans", sans-serif' font-size="41.62" font-weight="bold" textLength="24.99" lengthAdjust="spacingAndGlyphs" fill="#231f20" stroke="#231f20" stroke-width="1" stroke-linejoin="round">e</text>
<line x1="1477.3" y1="1042.6" x2="1490" y2="1042.6" stroke="#000" stroke-width="3"/>
<line x1="1477.3" y1="900.37" x2="1490" y2="900.37" stroke="#000" stroke-width="3"/>
<line x1="1477.3" y1="758.14" x2="1490" y2="758.14" stroke="#000" stroke-width="3"/>
<line x1="1477.3" y1="615.91" x2="1490" y2="615.91" stroke="#000" stroke-width="3"/>
<line x1="1513.5" y1="1042.6" x2="1513.5" y2="1056" stroke="#000" stroke-width="3"/>
<line x1="1744.6" y1="1042.6" x2="1744.6" y2="1056" stroke="#000" stroke-width="3"/>
<line x1="1975.7" y1="1042.6" x2="1975.7" y2="1056" stroke="#000" stroke-width="3"/>
<text x="1385.34" y="631.46" font-family='"Liberation Sans", sans-serif' font-size="36.2" textLength="85.15" lengthAdjust="spacingAndGlyphs" fill="#000" stroke="#000" stroke-width="0.55" stroke-linejoin="round">0.003</text>
<text x="1385.56" y="773.46" font-family='"Liberation Sans", sans-serif' font-size="36.2" textLength="85.15" lengthAdjust="spacingAndGlyphs" fill="#000" stroke="#000" stroke-width="0.55" stroke-linejoin="round">0.002</text>
<text x="1382.21" y="916.01" font-family='"Liberation Sans", sans-serif' font-size="36.2" textLength="85.15" lengthAdjust="spacingAndGlyphs" fill="#000" stroke="#000" stroke-width="0.55" stroke-linejoin="round">0.001</text>
<text x="1385.18" y="1058.71" font-family='"Liberation Sans", sans-serif' font-size="36.2" textLength="85.15" lengthAdjust="spacingAndGlyphs" fill="#000" stroke="#000" stroke-width="0.55" stroke-linejoin="round">0.000</text>
<text x="1463.35" y="1092.76" font-family='"Liberation Sans", sans-serif' font-size="36.2" textLength="76.65" lengthAdjust="spacingAndGlyphs" fill="#000" stroke="#000" stroke-width="0.55" stroke-linejoin="round">−100</text>
<text x="1732.59" y="1092.76" font-family='"Liberation Sans", sans-serif' font-size="36.2" textLength="18.92" lengthAdjust="spacingAndGlyphs" fill="#000" stroke="#000" stroke-width="0.55" stroke-linejoin="round">0</text>
<text x="1939.98" y="1092.76" font-family='"Liberation Sans", sans-serif' font-size="36.2" textLength="56.77" lengthAdjust="spacingAndGlyphs" fill="#000" stroke="#000" stroke-width="0.55" stroke-linejoin="round">100</text>
<text x="1511.76" y="1012.5" font-family='"Liberation Sans", sans-serif' font-size="37.36" textLength="134.58" lengthAdjust="spacingAndGlyphs" fill="#231f20" stroke="#231f20" stroke-width="0.55" stroke-linejoin="round">Device 2</text>
<text x="1593.67" y="1124.72" font-family='"Liberation Serif", serif' font-size="41.25" textLength="14.65" lengthAdjust="spacingAndGlyphs" fill="#231f20" stroke="#231f20" stroke-width="0.6" stroke-linejoin="round">(</text>
<text x="1607.37" y="1125" font-family='"Liberation Serif", serif' font-size="41.38" textLength="29.16" lengthAdjust="spacingAndGlyphs" fill="#231f20" stroke="#231f20" stroke-width="0.6" stroke-linejoin="round">ω</text>
<text x="1635.82" y="1138.28" font-family='"Liberation Sans", sans-serif' font-size="22.28" textLength="14.47" lengthAdjust="spacingAndGlyphs" fill="#231f20" stroke="#231f20" stroke-width="0.34" stroke-linejoin="round">p</text>
<text x="1653.53" y="1123.99" font-family='"Liberation Sans", sans-serif' font-size="39.68" textLength="14.73" lengthAdjust="spacingAndGlyphs" fill="#231f20" stroke="#231f20" stroke-width="0.55" stroke-linejoin="round">-</text>
<text x="1675.34" y="1125" font-family='"Liberation Serif", serif' font-size="41.38" textLength="29.62" lengthAdjust="spacingAndGlyphs" fill="#231f20" stroke="#231f20" stroke-width="0.6" stroke-linejoin="round">ω</text>
<text x="1704.39" y="1138.67" font-family='"Liberation Sans", sans-serif' font-size="23.29" textLength="13.36" lengthAdjust="spacingAndGlyphs" fill="#231f20" stroke="#231f20" stroke-width="0.36" stroke-linejoin="round">d</text>
<text x="1717.01" y="1123.99" font-family='"Liberation Sans", sans-serif' font-size="39.68" textLength="14.19" lengthAdjust="spacingAndGlyphs" fill="#231f20" stroke="#231f20" stroke-width="0.55" stroke-linejoin="round">-</text>
<text x="1747.46" y="1125.19" font-family='"Liberation Serif", serif' font-size="41.8" textLength="29.39" lengthAdjust="spacingAndGlyphs" fill="#231f20" stroke="#231f20" stroke-width="0.6" stroke-linejoin="round">ω</text>
<text x="1776.31" y="1138.4" font-family='"Liberation Sans", sans-serif' font-size="22.86" textLength="19.97" lengthAdjust="spacingAndGlyphs" fill="#231f20" stroke="#231f20" stroke-width="0.35" stroke-linejoin="round">m</text>
<text x="1795.68" y="1124.77" font-family='"Liberation Serif", serif' font-size="41.03" textLength="14.65" lengthAdjust="spacingAndGlyphs" fill="#231f20" stroke="#231f20" stroke-width="0.6" stroke-linejoin="round">)</text>
<text x="1820.4" y="1125.16" font-family='"Liberation Serif", serif' font-size="44.55" textLength="11.2" lengthAdjust="spacingAndGlyphs" fill="#231f20" stroke="#231f20" stroke-width="0.6" stroke-linejoin="round">/</text>
<text x="1841.35" y="1125" font-family='"Liberation Serif", serif' font-size="42.44" textLength="21.08" lengthAdjust="spacingAndGlyphs" fill="#231f20" stroke="#231f20" stroke-width="0.6" stroke-linejoin="round">2</text>
<text x="1863.11" y="1125.17" font-family='"Liberation Serif", serif' font-size="43.73" textLength="21.74" lengthAdjust="spacingAndGlyphs" fill="#231f20" stroke="#231f20" stroke-width="0.6" stroke-linejoin="round">π</text>
<text x="1884.94" y="1122.86" font-family='"Liberation Sans", sans-serif' font-size="30.16" textLength="56.51" lengthAdjust="spacingAndGlyphs" fill="#231f20" stroke="#231f20" stroke-width="0.46" stroke-linejoin="round">(Hz)</text>
<g fill="#c9fad9" stroke="#3b53a4" stroke-width="3.8"><circle cx="1513.1" cy="776.9" r="5.5"/><circle cx="1515.2" cy="739" r="5.5"/><circle cx="1517.9" cy="781.7" r="5.5"/><circle cx="1520" cy="815.5" r="5.5"/><circle cx="1522.8" cy="763.8" r="5.5"/><circle cx="1524.8" cy="794.1" r="5.5"/><circle cx="1526.9" cy="742.4" r="5.5"/><circle cx="1529" cy="793.4" r="5.5"/><circle cx="1531.7" cy="750" r="5.5"/><circle cx="1533.8" cy="775.5" r="5.5"/><circle cx="1538.6" cy="759.7" r="5.5"/><circle cx="1540.7" cy="800.3" r="5.5"/><circle cx="1541.4" cy="781" r="5.5"/><circle cx="1545.5" cy="798.3" r="5.5"/><circle cx="1548.3" cy="808.6" r="5.5"/><circle cx="1550.3" cy="829.3" r="5.5"/><circle cx="1552.4" cy="734.1" r="5.5"/><circle cx="1554.5" cy="767.9" r="5.5"/><circle cx="1557.2" cy="750.7" r="5.5"/><circle cx="1559.3" cy="781.7" r="5.5"/><circle cx="1561.4" cy="732.1" r="5.5"/><circle cx="1564.1" cy="706.6" r="5.5"/><circle cx="1566.9" cy="787.2" r="5.5"/><circle cx="1569" cy="745.9" r="5.5"/><circle cx="1571" cy="767.2" r="5.5"/><circle cx="1573.1" cy="794.8" r="5.5"/><circle cx="1575.9" cy="742.1" r="5.5"/><circle cx="1577.2" cy="782.4" r="5.5"/><circle cx="1577.9" cy="710.7" r="5.5"/><circle cx="1582.8" cy="787.2" r="5.5"/><circle cx="1584.8" cy="776.9" r="5.5"/><circle cx="1586.9" cy="799" r="5.5"/><circle cx="1589" cy="809.3" r="5.5"/><circle cx="1591.7" cy="754.8" r="5.5"/><circle cx="1594.5" cy="827.2" r="5.5"/><circle cx="1596.6" cy="839.7" r="5.5"/><circle cx="1598.6" cy="802.4" r="5.5"/><circle cx="1601.4" cy="783.8" r="5.5"/><circle cx="1603.4" cy="834.8" r="5.5"/><circle cx="1605.5" cy="810.7" r="5.5"/><circle cx="1608.3" cy="829.3" r="5.5"/><circle cx="1610.3" cy="800.3" r="5.5"/><circle cx="1612.4" cy="765.2" r="5.5"/><circle cx="1617.2" cy="806.6" r="5.5"/><circle cx="1618.6" cy="819" r="5.5"/><circle cx="1622.1" cy="780.3" r="5.5"/><circle cx="1624.1" cy="815.5" r="5.5"/><circle cx="1626.9" cy="743.8" r="5.5"/><circle cx="1626.9" cy="797.6" r="5.5"/><circle cx="1631" cy="744.5" r="5.5"/><circle cx="1633.1" cy="826.6" r="5.5"/><circle cx="1635.9" cy="797.6" r="5.5"/><circle cx="1637.9" cy="783.1" r="5.5"/><circle cx="1640.7" cy="810" r="5.5"/><circle cx="1642.8" cy="749.3" r="5.5"/><circle cx="1644.8" cy="836.9" r="5.5"/><circle cx="1646.9" cy="827.2" r="5.5"/><circle cx="1649" cy="847.2" r="5.5"/><circle cx="1651.7" cy="759" r="5.5"/><circle cx="1655.2" cy="821" r="5.5"/><circle cx="1655.9" cy="838.3" r="5.5"/><circle cx="1657.9" cy="814.1" r="5.5"/><circle cx="1660.7" cy="845.5" r="5.5"/><circle cx="1662.8" cy="835.2" r="5.5"/><circle cx="1664.8" cy="810.3" r="5.5"/><circle cx="1668.3" cy="823.4" r="5.5"/><circle cx="1669.7" cy="857.9" r="5.5"/><circle cx="1673.1" cy="803.4" r="5.5"/><circle cx="1675.2" cy="913.8" r="5.5"/><circle cx="1677.2" cy="856.6" r="5.5"/><circle cx="1678.6" cy="832.4" r="5.5"/><circle cx="1681.4" cy="849.7" r="5.5"/><circle cx="1684.1" cy="830.3" r="5.5"/><circle cx="1685.5" cy="818.6" r="5.5"/><circle cx="1689" cy="851" r="5.5"/><circle cx="1691" cy="878.6" r="5.5"/><circle cx="1693.8" cy="813.1" r="5.5"/><circle cx="1695.2" cy="868.3" r="5.5"/><circle cx="1697.9" cy="872.4" r="5.5"/><circle cx="1700.7" cy="822.1" r="5.5"/><circle cx="1702.8" cy="860.7" r="5.5"/><circle cx="1704.8" cy="774.5" r="5.5"/><circle cx="1706.2" cy="829" r="5.5"/><circle cx="1709.7" cy="851.7" r="5.5"/><circle cx="1711.7" cy="815.9" r="5.5"/><circle cx="1714.5" cy="770.3" r="5.5"/><circle cx="1716.6" cy="836.6" r="5.5"/><circle cx="1720" cy="807.6" r="5.5"/><circle cx="1725.5" cy="795.2" r="5.5"/><circle cx="1728.3" cy="807.6" r="5.5"/><circle cx="1730.3" cy="853.8" r="5.5"/><circle cx="1732.4" cy="826.2" r="5.5"/><circle cx="1735.2" cy="820" r="5.5"/><circle cx="1737.2" cy="841.4" r="5.5"/><circle cx="1739.2" cy="896.4" r="5.5"/><circle cx="1740.7" cy="869.7" r="5.5"/><circle cx="1742.1" cy="861.4" r="5.5"/><circle cx="1744.1" cy="896.6" r="5.5"/><circle cx="1746.2" cy="917.2" r="5.5"/><circle cx="1746.6" cy="920.3" r="5.5"/><circle cx="1749.1" cy="937.9" r="5.5"/><circle cx="1750.7" cy="953.4" r="5.5"/><circle cx="1753.3" cy="944.7" r="5.5"/><circle cx="1755.9" cy="960.2" r="5.5"/><circle cx="1757.9" cy="973.1" r="5.5"/><circle cx="1760.7" cy="914.5" r="5.5"/><circle cx="1763.1" cy="973.6" r="5.5"/><circle cx="1765.2" cy="941" r="5.5"/><circle cx="1767.6" cy="889" r="5.5"/><circle cx="1769" cy="904.8" r="5.5"/><circle cx="1771.4" cy="918.8" r="5.5"/><circle cx="1774.5" cy="897.2" r="5.5"/><circle cx="1777.6" cy="927.6" r="5.5"/><circle cx="1778.6" cy="916.7" r="5.5"/><circle cx="1781.4" cy="902.1" r="5.5"/><circle cx="1783.4" cy="865.5" r="5.5"/><circle cx="1785.5" cy="891" r="5.5"/><circle cx="1787.6" cy="882.1" r="5.5"/><circle cx="1791.7" cy="903.4" r="5.5"/><circle cx="1793.1" cy="939" r="5.5"/><circle cx="1795.2" cy="912.4" r="5.5"/><circle cx="1798.6" cy="828.3" r="5.5"/><circle cx="1798.6" cy="876.6" r="5.5"/><circle cx="1799.8" cy="880.5" r="5.5"/><circle cx="1800" cy="862" r="5.5"/><circle cx="1802.4" cy="828.3" r="5.5"/><circle cx="1807.1" cy="898.6" r="5.5"/><circle cx="1809.3" cy="817.2" r="5.5"/><circle cx="1809.3" cy="859.3" r="5.5"/><circle cx="1813.4" cy="871.7" r="5.5"/><circle cx="1815.5" cy="829.7" r="5.5"/><circle cx="1816.9" cy="855.9" r="5.5"/><circle cx="1821" cy="809" r="5.5"/><circle cx="1823.1" cy="797.2" r="5.5"/><circle cx="1825.2" cy="854.5" r="5.5"/><circle cx="1828.6" cy="802.8" r="5.5"/><circle cx="1830" cy="809.7" r="5.5"/><circle cx="1832.1" cy="771" r="5.5"/><circle cx="1834.8" cy="831.7" r="5.5"/><circle cx="1836.9" cy="850.3" r="5.5"/><circle cx="1839.7" cy="747.6" r="5.5"/><circle cx="1841.7" cy="788.3" r="5.5"/><circle cx="1845.9" cy="804.8" r="5.5"/><circle cx="1847.9" cy="770.3" r="5.5"/><circle cx="1850.7" cy="860" r="5.5"/><circle cx="1853.4" cy="763.4" r="5.5"/><circle cx="1855.5" cy="795.2" r="5.5"/><circle cx="1859.7" cy="839.3" r="5.5"/><circle cx="1862.4" cy="740" r="5.5"/><circle cx="1864.5" cy="807.6" r="5.5"/><circle cx="1867.2" cy="887" r="5.5"/><circle cx="1869.3" cy="764.1" r="5.5"/><circle cx="1871.4" cy="862.1" r="5.5"/><circle cx="1873.4" cy="806.9" r="5.5"/><circle cx="1876.2" cy="784.1" r="5.5"/><circle cx="1878.3" cy="849.7" r="5.5"/><circle cx="1881" cy="837.2" r="5.5"/><circle cx="1883.1" cy="775.9" r="5.5"/><circle cx="1885.9" cy="843.4" r="5.5"/><circle cx="1887.9" cy="790.3" r="5.5"/><circle cx="1890" cy="766.2" r="5.5"/><circle cx="1892.1" cy="770.3" r="5.5"/><circle cx="1893.4" cy="800" r="5.5"/><circle cx="1896.9" cy="751.7" r="5.5"/><circle cx="1899" cy="797.2" r="5.5"/><circle cx="1901.7" cy="810.3" r="5.5"/><circle cx="1904.5" cy="780.7" r="5.5"/><circle cx="1908.6" cy="796.6" r="5.5"/><circle cx="1911.4" cy="819.3" r="5.5"/><circle cx="1913.4" cy="779.3" r="5.5"/><circle cx="1918.3" cy="747.6" r="5.5"/><circle cx="1919.7" cy="828.3" r="5.5"/><circle cx="1922.4" cy="797.9" r="5.5"/><circle cx="1924.5" cy="764.1" r="5.5"/><circle cx="1927.9" cy="817.2" r="5.5"/><circle cx="1929.3" cy="759.3" r="5.5"/><circle cx="1932.1" cy="829.7" r="5.5"/><circle cx="1933.4" cy="818.6" r="5.5"/><circle cx="1938.3" cy="777.9" r="5.5"/><circle cx="1941.7" cy="813.1" r="5.5"/><circle cx="1945.9" cy="802.1" r="5.5"/><circle cx="1950" cy="777.9" r="5.5"/><circle cx="1952.8" cy="840" r="5.5"/><circle cx="1954.8" cy="768.3" r="5.5"/><circle cx="1954.8" cy="824.8" r="5.5"/><circle cx="1959.7" cy="774.5" r="5.5"/><circle cx="1961.7" cy="762.8" r="5.5"/><circle cx="1963.8" cy="788.3" r="5.5"/><circle cx="1969.3" cy="784.1" r="5.5"/><circle cx="1971.4" cy="741.4" r="5.5"/><circle cx="1973.4" cy="805.5" r="5.5"/><circle cx="1976.2" cy="763.4" r="5.5"/></g>
<path d="M1511.19 789.34 L1511.77 789.35 L1512.34 789.36 L1512.92 789.38 L1513.5 789.39 L1514.08 789.4 L1514.66 789.41 L1515.23 789.43 L1515.81 789.44 L1516.39 789.45 L1516.97 789.46 L1517.54 789.48 L1518.12 789.49 L1518.7 789.5 L1519.28 789.52 L1519.86 789.53 L1520.43 789.54 L1521.01 789.56 L1521.59 789.57 L1522.17 789.58 L1522.74 789.6 L1523.32 789.61 L1523.9 789.63 L1524.48 789.64 L1525.05 789.66 L1525.63 789.67 L1526.21 789.68 L1526.79 789.7 L1527.37 789.71 L1527.94 789.73 L1528.52 789.74 L1529.1 789.76 L1529.68 789.77 L1530.25 789.79 L1530.83 789.8 L1531.41 789.82 L1531.99 789.83 L1532.57 789.85 L1533.14 789.87 L1533.72 789.88 L1534.3 789.9 L1534.88 789.91 L1535.45 789.93 L1536.03 789.95 L1536.61 789.96 L1537.19 789.98 L1537.77 790 L1538.34 790.01 L1538.92 790.03 L1539.5 790.05 L1540.08 790.06 L1540.65 790.08 L1541.23 790.1 L1541.81 790.12 L1542.39 790.13 L1542.97 790.15 L1543.54 790.17 L1544.12 790.19 L1544.7 790.21 L1545.28 790.22 L1545.85 790.24 L1546.43 790.26 L1547.01 790.28 L1547.59 790.3 L1548.16 790.32 L1548.74 790.34 L1549.32 790.36 L1549.9 790.38 L1550.48 790.4 L1551.05 790.42 L1551.63 790.44 L1552.21 790.46 L1552.79 790.48 L1553.36 790.5 L1553.94 790.52 L1554.52 790.54 L1555.1 790.56 L1555.68 790.58 L1556.25 790.6 L1556.83 790.62 L1557.41 790.64 L1557.99 790.67 L1558.56 790.69 L1559.14 790.71 L1559.72 790.73 L1560.3 790.76 L1560.88 790.78 L1561.45 790.8 L1562.03 790.82 L1562.61 790.85 L1563.19 790.87 L1563.76 790.89 L1564.34 790.92 L1564.92 790.94 L1565.5 790.97 L1566.08 790.99 L1566.65 791.02 L1567.23 791.04 L1567.81 791.07 L1568.39 791.09 L1568.96 791.12 L1569.54 791.14 L1570.12 791.17 L1570.7 791.19 L1571.27 791.22 L1571.85 791.25 L1572.43 791.27 L1573.01 791.3 L1573.59 791.33 L1574.16 791.35 L1574.74 791.38 L1575.32 791.41 L1575.9 791.44 L1576.47 791.47 L1577.05 791.5 L1577.63 791.52 L1578.21 791.55 L1578.79 791.58 L1579.36 791.61 L1579.94 791.64 L1580.52 791.67 L1581.1 791.7 L1581.67 791.73 L1582.25 791.76 L1582.83 791.8 L1583.41 791.83 L1583.99 791.86 L1584.56 791.89 L1585.14 791.92 L1585.72 791.96 L1586.3 791.99 L1586.87 792.02 L1587.45 792.06 L1588.03 792.09 L1588.61 792.12 L1589.19 792.16 L1589.76 792.19 L1590.34 792.23 L1590.92 792.26 L1591.5 792.3 L1592.07 792.34 L1592.65 792.37 L1593.23 792.41 L1593.81 792.45 L1594.38 792.49 L1594.96 792.52 L1595.54 792.56 L1596.12 792.6 L1596.7 792.64 L1597.27 792.68 L1597.85 792.72 L1598.43 792.76 L1599.01 792.8 L1599.58 792.84 L1600.16 792.88 L1600.74 792.92 L1601.32 792.97 L1601.9 793.01 L1602.47 793.05 L1603.05 793.09 L1603.63 793.14 L1604.21 793.18 L1604.78 793.23 L1605.36 793.27 L1605.94 793.32 L1606.52 793.36 L1607.1 793.41 L1607.67 793.46 L1608.25 793.51 L1608.83 793.55 L1609.41 793.6 L1609.98 793.65 L1610.56 793.7 L1611.14 793.75 L1611.72 793.8 L1612.3 793.85 L1612.87 793.9 L1613.45 793.96 L1614.03 794.01 L1614.61 794.06 L1615.18 794.12 L1615.76 794.17 L1616.34 794.23 L1616.92 794.28 L1617.49 794.34 L1618.07 794.39 L1618.65 794.45 L1619.23 794.51 L1619.81 794.57 L1620.38 794.63 L1620.96 794.69 L1621.54 794.75 L1622.12 794.81 L1622.69 794.87 L1623.27 794.93 L1623.85 795 L1624.43 795.06 L1625.01 795.13 L1625.58 795.19 L1626.16 795.26 L1626.74 795.33 L1627.32 795.39 L1627.89 795.46 L1628.47 795.53 L1629.05 795.6 L1629.63 795.67 L1630.21 795.74 L1630.78 795.82 L1631.36 795.89 L1631.94 795.96 L1632.52 796.04 L1633.09 796.12 L1633.67 796.19 L1634.25 796.27 L1634.83 796.35 L1635.41 796.43 L1635.98 796.51 L1636.56 796.59 L1637.14 796.67 L1637.72 796.76 L1638.29 796.84 L1638.87 796.93 L1639.45 797.01 L1640.03 797.1 L1640.61 797.19 L1641.18 797.28 L1641.76 797.37 L1642.34 797.46 L1642.92 797.56 L1643.49 797.65 L1644.07 797.75 L1644.65 797.85 L1645.23 797.94 L1645.8 798.04 L1646.38 798.14 L1646.96 798.25 L1647.54 798.35 L1648.12 798.45 L1648.69 798.56 L1649.27 798.67 L1649.85 798.78 L1650.43 798.89 L1651 799 L1651.58 799.11 L1652.16 799.23 L1652.74 799.34 L1653.32 799.46 L1653.89 799.58 L1654.47 799.7 L1655.05 799.82 L1655.63 799.95 L1656.2 800.07 L1656.78 800.2 L1657.36 800.33 L1657.94 800.46 L1658.52 800.6 L1659.09 800.73 L1659.67 800.87 L1660.25 801.01 L1660.83 801.15 L1661.4 801.29 L1661.98 801.44 L1662.56 801.58 L1663.14 801.73 L1663.71 801.88 L1664.29 802.04 L1664.87 802.19 L1665.45 802.35 L1666.03 802.51 L1666.6 802.67 L1667.18 802.84 L1667.76 803 L1668.34 803.17 L1668.91 803.35 L1669.49 803.52 L1670.07 803.7 L1670.65 803.88 L1671.23 804.06 L1671.8 804.25 L1672.38 804.44 L1672.96 804.63 L1673.54 804.82 L1674.11 805.02 L1674.69 805.22 L1675.27 805.42 L1675.85 805.63 L1676.43 805.84 L1677 806.05 L1677.58 806.27 L1678.16 806.49 L1678.74 806.71 L1679.31 806.94 L1679.89 807.17 L1680.47 807.4 L1681.05 807.64 L1681.63 807.89 L1682.2 808.13 L1682.78 808.38 L1683.36 808.64 L1683.94 808.89 L1684.51 809.16 L1685.09 809.42 L1685.67 809.7 L1686.25 809.97 L1686.82 810.25 L1687.4 810.54 L1687.98 810.83 L1688.56 811.12 L1689.14 811.42 L1689.71 811.73 L1690.29 812.04 L1690.87 812.36 L1691.45 812.68 L1692.02 813.01 L1692.6 813.34 L1693.18 813.68 L1693.76 814.02 L1694.34 814.37 L1694.91 814.73 L1695.49 815.1 L1696.07 815.47 L1696.65 815.84 L1697.22 816.23 L1697.8 816.62 L1698.38 817.01 L1698.96 817.42 L1699.54 817.83 L1700.11 818.25 L1700.69 818.68 L1701.27 819.11 L1701.85 819.56 L1702.42 820.01 L1703 820.47 L1703.58 820.93 L1704.16 821.41 L1704.74 821.9 L1705.31 822.39 L1705.89 822.9 L1706.47 823.41 L1707.05 823.93 L1707.62 824.47 L1708.2 825.01 L1708.78 825.57 L1709.36 826.13 L1709.93 826.7 L1710.51 827.29 L1711.09 827.89 L1711.67 828.5 L1712.25 829.12 L1712.82 829.75 L1713.4 830.39 L1713.98 831.05 L1714.56 831.72 L1715.13 832.4 L1715.71 833.1 L1716.29 833.81 L1716.87 834.53 L1717.45 835.27 L1718.02 836.02 L1718.6 836.78 L1719.18 837.56 L1719.76 838.35 L1720.33 839.16 L1720.91 839.99 L1721.49 840.83 L1722.07 841.68 L1722.65 842.56 L1723.22 843.45 L1723.8 844.35 L1724.38 845.27 L1724.96 846.21 L1725.53 847.17 L1726.11 848.14 L1726.69 849.13 L1727.27 850.14 L1727.85 851.17 L1728.42 852.22 L1729 853.28 L1729.58 854.36 L1730.16 855.46 L1730.73 856.58 L1731.31 857.72 L1731.89 858.88 L1732.47 860.05 L1733.04 861.25 L1733.62 862.46 L1734.2 863.69 L1734.78 864.94 L1735.36 866.21 L1735.93 867.49 L1736.51 868.8 L1737.09 870.12 L1737.67 871.45 L1738.24 872.81 L1738.82 874.18 L1739.4 875.56 L1739.98 876.97 L1740.56 878.38 L1741.13 879.81 L1741.71 881.25 L1742.29 882.7 L1742.87 884.17 L1743.44 885.64 L1744.02 887.13 L1744.6 888.62 L1745.18 890.11 L1745.76 891.61 L1746.33 893.11 L1746.91 894.62 L1747.49 896.12 L1748.07 897.63 L1748.64 899.12 L1749.22 900.62 L1749.8 902.1 L1750.38 903.57 L1750.96 905.03 L1751.53 906.48 L1752.11 907.91 L1752.69 909.31 L1753.27 910.7 L1753.84 912.06 L1754.42 913.39 L1755 914.69 L1755.58 915.96 L1756.15 917.19 L1756.73 918.38 L1757.31 919.53 L1757.89 920.63 L1758.47 921.69 L1759.04 922.69 L1759.62 923.64 L1760.2 924.54 L1760.78 925.38 L1761.35 926.16 L1761.93 926.87 L1762.51 927.53 L1763.09 928.11 L1763.67 928.63 L1764.24 929.08 L1764.82 929.45 L1765.4 929.76 L1765.98 929.99 L1766.55 930.14 L1767.13 930.22 L1767.71 930.23 L1768.29 930.17 L1768.87 930.02 L1769.44 929.81 L1770.02 929.52 L1770.6 929.16 L1771.18 928.72 L1771.75 928.22 L1772.33 927.65 L1772.91 927.01 L1773.49 926.31 L1774.07 925.54 L1774.64 924.71 L1775.22 923.83 L1775.8 922.89 L1776.38 921.89 L1776.95 920.84 L1777.53 919.75 L1778.11 918.61 L1778.69 917.43 L1779.26 916.21 L1779.84 914.95 L1780.42 913.65 L1781 912.33 L1781.58 910.97 L1782.15 909.59 L1782.73 908.19 L1783.31 906.77 L1783.89 905.32 L1784.46 903.87 L1785.04 902.4 L1785.62 900.91 L1786.2 899.42 L1786.78 897.93 L1787.35 896.42 L1787.93 894.92 L1788.51 893.42 L1789.09 891.91 L1789.66 890.41 L1790.24 888.91 L1790.82 887.42 L1791.4 885.94 L1791.98 884.46 L1792.55 883 L1793.13 881.54 L1793.71 880.1 L1794.29 878.67 L1794.86 877.25 L1795.44 875.84 L1796.02 874.45 L1796.6 873.08 L1797.18 871.72 L1797.75 870.38 L1798.33 869.06 L1798.91 867.75 L1799.49 866.46 L1800.06 865.19 L1800.64 863.94 L1801.22 862.7 L1801.8 861.49 L1802.38 860.29 L1802.95 859.11 L1803.53 857.95 L1804.11 856.81 L1804.69 855.69 L1805.26 854.58 L1805.84 853.5 L1806.42 852.43 L1807 851.38 L1807.57 850.35 L1808.15 849.33 L1808.73 848.34 L1809.31 847.36 L1809.89 846.4 L1810.46 845.46 L1811.04 844.53 L1811.62 843.63 L1812.2 842.73 L1812.77 841.86 L1813.35 841 L1813.93 840.16 L1814.51 839.33 L1815.09 838.51 L1815.66 837.72 L1816.24 836.94 L1816.82 836.17 L1817.4 835.41 L1817.97 834.68 L1818.55 833.95 L1819.13 833.24 L1819.71 832.54 L1820.29 831.86 L1820.86 831.18 L1821.44 830.52 L1822.02 829.88 L1822.6 829.24 L1823.17 828.62 L1823.75 828.01 L1824.33 827.41 L1824.91 826.82 L1825.48 826.24 L1826.06 825.68 L1826.64 825.12 L1827.22 824.58 L1827.8 824.04 L1828.37 823.51 L1828.95 823 L1829.53 822.49 L1830.11 822 L1830.68 821.51 L1831.26 821.03 L1831.84 820.56 L1832.42 820.1 L1833 819.64 L1833.57 819.2 L1834.15 818.76 L1834.73 818.33 L1835.31 817.91 L1835.88 817.5 L1836.46 817.09 L1837.04 816.69 L1837.62 816.3 L1838.2 815.92 L1838.77 815.54 L1839.35 815.17 L1839.93 814.8 L1840.51 814.45 L1841.08 814.09 L1841.66 813.75 L1842.24 813.41 L1842.82 813.07 L1843.4 812.74 L1843.97 812.42 L1844.55 812.1 L1845.13 811.79 L1845.71 811.49 L1846.28 811.18 L1846.86 810.89 L1847.44 810.6 L1848.02 810.31 L1848.59 810.03 L1849.17 809.75 L1849.75 809.48 L1850.33 809.21 L1850.91 808.95 L1851.48 808.69 L1852.06 808.43 L1852.64 808.18 L1853.22 807.93 L1853.79 807.69 L1854.37 807.45 L1854.95 807.22 L1855.53 806.99 L1856.11 806.76 L1856.68 806.53 L1857.26 806.31 L1857.84 806.09 L1858.42 805.88 L1858.99 805.67 L1859.57 805.46 L1860.15 805.26 L1860.73 805.06 L1861.31 804.86 L1861.88 804.67 L1862.46 804.47 L1863.04 804.28 L1863.62 804.1 L1864.19 803.91 L1864.77 803.73 L1865.35 803.56 L1865.93 803.38 L1866.51 803.21 L1867.08 803.04 L1867.66 802.87 L1868.24 802.7 L1868.82 802.54 L1869.39 802.38 L1869.97 802.22 L1870.55 802.07 L1871.13 801.91 L1871.7 801.76 L1872.28 801.61 L1872.86 801.46 L1873.44 801.32 L1874.02 801.18 L1874.59 801.03 L1875.17 800.9 L1875.75 800.76 L1876.33 800.62 L1876.9 800.49 L1877.48 800.36 L1878.06 800.23 L1878.64 800.1 L1879.22 799.97 L1879.79 799.85 L1880.37 799.73 L1880.95 799.6 L1881.53 799.48 L1882.1 799.37 L1882.68 799.25 L1883.26 799.13 L1883.84 799.02 L1884.42 798.91 L1884.99 798.8 L1885.57 798.69 L1886.15 798.58 L1886.73 798.48 L1887.3 798.37 L1887.88 798.27 L1888.46 798.16 L1889.04 798.06 L1889.62 797.96 L1890.19 797.87 L1890.77 797.77 L1891.35 797.67 L1891.93 797.58 L1892.5 797.48 L1893.08 797.39 L1893.66 797.3 L1894.24 797.21 L1894.81 797.12 L1895.39 797.03 L1895.97 796.95 L1896.55 796.86 L1897.13 796.77 L1897.7 796.69 L1898.28 796.61 L1898.86 796.53 L1899.44 796.44 L1900.01 796.36 L1900.59 796.29 L1901.17 796.21 L1901.75 796.13 L1902.33 796.05 L1902.9 795.98 L1903.48 795.9 L1904.06 795.83 L1904.64 795.76 L1905.21 795.69 L1905.79 795.62 L1906.37 795.55 L1906.95 795.48 L1907.53 795.41 L1908.1 795.34 L1908.68 795.27 L1909.26 795.21 L1909.84 795.14 L1910.41 795.07 L1910.99 795.01 L1911.57 794.95 L1912.15 794.88 L1912.73 794.82 L1913.3 794.76 L1913.88 794.7 L1914.46 794.64 L1915.04 794.58 L1915.61 794.52 L1916.19 794.46 L1916.77 794.41 L1917.35 794.35 L1917.92 794.29 L1918.5 794.24 L1919.08 794.18 L1919.66 794.13 L1920.24 794.07 L1920.81 794.02 L1921.39 793.97 L1921.97 793.91 L1922.55 793.86 L1923.12 793.81 L1923.7 793.76 L1924.28 793.71 L1924.86 793.66 L1925.44 793.61 L1926.01 793.56 L1926.59 793.52 L1927.17 793.47 L1927.75 793.42 L1928.32 793.37 L1928.9 793.33 L1929.48 793.28 L1930.06 793.24 L1930.64 793.19 L1931.21 793.15 L1931.79 793.1 L1932.37 793.06 L1932.95 793.02 L1933.52 792.97 L1934.1 792.93 L1934.68 792.89 L1935.26 792.85 L1935.84 792.81 L1936.41 792.77 L1936.99 792.73 L1937.57 792.69 L1938.15 792.65 L1938.72 792.61 L1939.3 792.57 L1939.88 792.53 L1940.46 792.49 L1941.03 792.46 L1941.61 792.42 L1942.19 792.38 L1942.77 792.34 L1943.35 792.31 L1943.92 792.27 L1944.5 792.24 L1945.08 792.2 L1945.66 792.17 L1946.23 792.13 L1946.81 792.1 L1947.39 792.06 L1947.97 792.03 L1948.55 792 L1949.12 791.96 L1949.7 791.93 L1950.28 791.9 L1950.86 791.87 L1951.43 791.83 L1952.01 791.8 L1952.59 791.77 L1953.17 791.74 L1953.75 791.71 L1954.32 791.68 L1954.9 791.65 L1955.48 791.62 L1956.06 791.59 L1956.63 791.56 L1957.21 791.53 L1957.79 791.5 L1958.37 791.47 L1958.95 791.44 L1959.52 791.42 L1960.1 791.39 L1960.68 791.36 L1961.26 791.33 L1961.83 791.31 L1962.41 791.28 L1962.99 791.25 L1963.57 791.22 L1964.14 791.2 L1964.72 791.17 L1965.3 791.15 L1965.88 791.12 L1966.46 791.1 L1967.03 791.07 L1967.61 791.05 L1968.19 791.02 L1968.77 791 L1969.34 790.97 L1969.92 790.95 L1970.5 790.92 L1971.08 790.9 L1971.66 790.88 L1972.23 790.85 L1972.81 790.83 L1973.39 790.81 L1973.97 790.78 L1974.54 790.76 L1975.12 790.74 L1975.7 790.72 L1976.28 790.69 L1976.86 790.67 L1977.43 790.65 L1978.01 790.63" fill="none" stroke="#000" stroke-width="3.6" stroke-linejoin="round"/>
<rect x="1490" y="615.9" width="507.6" height="426.7" fill="none" stroke="#000" stroke-width="3.1"/>
<text transform="translate(1363.73 986.23) rotate(-90)" font-family='"Liberation Sans", sans-serif' font-size="37.69" textLength="37.84" lengthAdjust="spacingAndGlyphs" fill="#231f20" stroke="#231f20" stroke-width="0.55" stroke-linejoin="round">Re</text>
<text transform="translate(1361.19 946.97) rotate(-90)" font-family='"Liberation Sans", sans-serif' font-size="32.83" textLength="9.23" lengthAdjust="spacingAndGlyphs" fill="#231f20" stroke="#231f20" stroke-width="0.5" stroke-linejoin="round">[</text>
<text transform="translate(1363.63 936.52) rotate(-90)" font-family='"Liberation Sans", sans-serif' font-size="37.57" textLength="17.96" lengthAdjust="spacingAndGlyphs" fill="#231f20" stroke="#231f20" stroke-width="0.55" stroke-linejoin="round">S</text>
<text transform="translate(1375.8 918.68) rotate(-90)" font-family='"Liberation Sans", sans-serif' font-size="20.48" textLength="19.54" lengthAdjust="spacingAndGlyphs" fill="#231f20" stroke="#231f20" stroke-width="0.31" stroke-linejoin="round">21</text>
<text transform="translate(1361.04 896.61) rotate(-90)" font-family='"Liberation Sans", sans-serif' font-size="33.6" textLength="10.8" lengthAdjust="spacingAndGlyphs" fill="#231f20" stroke="#231f20" stroke-width="0.51" stroke-linejoin="round">(</text>
<text transform="translate(1364.2 886.07) rotate(-90)" font-family='"Liberation Serif", serif' font-size="40.54" textLength="26.44" lengthAdjust="spacingAndGlyphs" fill="#231f20" stroke="#231f20" stroke-width="0.6" stroke-linejoin="round">ω</text>
<text transform="translate(1361.04 860.67) rotate(-90)" font-family='"Liberation Sans", sans-serif' font-size="33.6" textLength="9.8" lengthAdjust="spacingAndGlyphs" fill="#231f20" stroke="#231f20" stroke-width="0.51" stroke-linejoin="round">)</text>
<text transform="translate(1361.19 848.28) rotate(-90)" font-family='"Liberation Sans", sans-serif' font-size="32.83" textLength="9.79" lengthAdjust="spacingAndGlyphs" fill="#231f20" stroke="#231f20" stroke-width="0.5" stroke-linejoin="round">]</text>
<text transform="translate(1361.43 830.89) rotate(-90)" font-family='"Liberation Sans", sans-serif' font-size="34.13" textLength="10.68" lengthAdjust="spacingAndGlyphs" fill="#231f20" stroke="#231f20" stroke-width="0.52" stroke-linejoin="round">(</text>
<text transform="translate(1363.8 820.31) rotate(-90)" font-family='"Liberation Sans", sans-serif' font-size="36.43" textLength="146.4" lengthAdjust="spacingAndGlyphs" fill="#231f20" stroke="#231f20" stroke-width="0.55" stroke-linejoin="round">arb. units</text>
<text transform="translate(1361.43 675.39) rotate(-90)" font-family='"Liberation Sans", sans-serif' font-size="34.13" textLength="10.8" lengthAdjust="spacingAndGlyphs" fill="#231f20" stroke="#231f20" stroke-width="0.52" stroke-linejoin="round">)</text>
</svg></body></html>
